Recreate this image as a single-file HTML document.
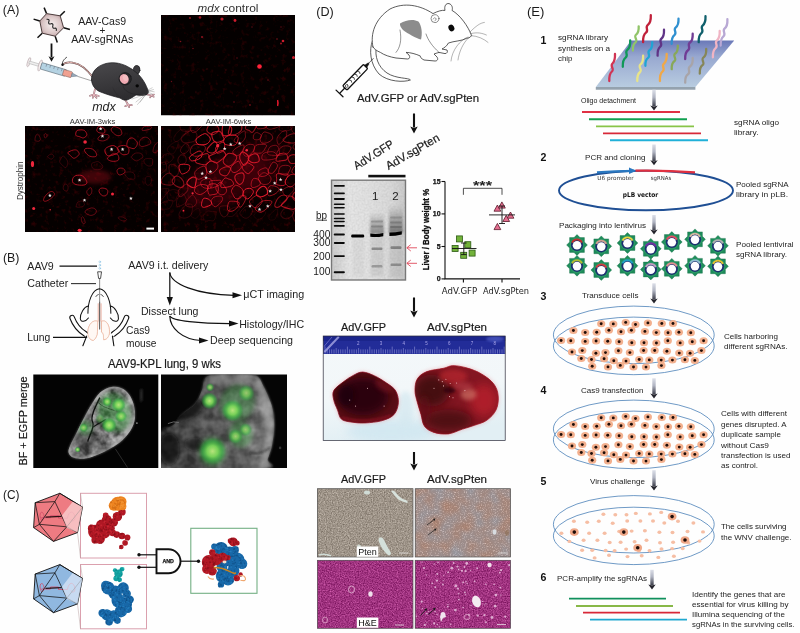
<!DOCTYPE html>
<html lang="en">
<head>
<meta charset="utf-8">
<title>Figure: CRISPR in vivo delivery and screening</title>
<style>
html,body{margin:0;padding:0;background:#fff;}
body{width:800px;height:633px;overflow:hidden;font-family:"Liberation Sans",sans-serif;}
svg{display:block;position:absolute;left:0;top:0;will-change:transform;}
svg text{font-family:"Liberation Sans",sans-serif;}
</style>
</head>
<body>
<svg width="800" height="633" viewBox="0 0 800 633">
<defs>

<linearGradient id="gMouse" x1="0" y1="0" x2="0.3" y2="1"><stop offset="0" stop-color="#4a494c"/><stop offset="0.5" stop-color="#3c3b3e"/><stop offset="1" stop-color="#2e2d30"/></linearGradient>
<radialGradient id="gVirus" cx="0.5" cy="0.5" r="0.6"><stop offset="0" stop-color="#f6eeee"/><stop offset="0.6" stop-color="#dcc8c8"/><stop offset="1" stop-color="#b89a9c"/></radialGradient>
<clipPath id="cA1"><rect x="161" y="15" width="134" height="100.5"/></clipPath>
<clipPath id="cA2"><rect x="25" y="126" width="133" height="106"/></clipPath>
<clipPath id="cA3"><rect x="161" y="126" width="134" height="106"/></clipPath>
<filter id="fB06" x="-50%" y="-50%" width="200%" height="200%"><feGaussianBlur stdDeviation="0.5"/></filter>
<filter id="fB2" x="-50%" y="-50%" width="200%" height="200%"><feGaussianBlur stdDeviation="2"/></filter>
<filter id="fB4" x="-50%" y="-50%" width="200%" height="200%"><feGaussianBlur stdDeviation="5"/></filter>
<filter id="fSpeck" x="0" y="0" width="100%" height="100%" color-interpolation-filters="sRGB"><feTurbulence type="fractalNoise" baseFrequency="0.22" numOctaves="3" seed="3" result="n"/><feColorMatrix in="n" type="matrix" values="0 0 0 0 0.45  0 0 0 0 0  0 0 0 0 0.03  3.2 0 0 0 -1.75"/></filter>

<linearGradient id="gLungR" x1="0" y1="0" x2="1" y2="0"><stop offset="0" stop-color="#2e2e2e"/><stop offset="0.4" stop-color="#4a4a4a"/><stop offset="0.75" stop-color="#6c6c6c"/><stop offset="1" stop-color="#8a8a8a"/></linearGradient>
<clipPath id="cB1"><rect x="33.3" y="374.5" width="125" height="93.5"/></clipPath>
<clipPath id="cB2"><rect x="161" y="374.5" width="126" height="93.5"/></clipPath>
<filter id="fB1" x="-20%" y="-20%" width="140%" height="140%"><feGaussianBlur stdDeviation="1"/></filter>
<radialGradient id="gGreen"><stop offset="0" stop-color="#b8e47c" stop-opacity="1"/><stop offset="0.4" stop-color="#7ad858" stop-opacity="0.92"/><stop offset="0.72" stop-color="#36b840" stop-opacity="0.55"/><stop offset="1" stop-color="#2a9a35" stop-opacity="0"/></radialGradient>
<filter id="fLungTex" x="0" y="0" width="100%" height="100%" color-interpolation-filters="sRGB"><feTurbulence type="fractalNoise" baseFrequency="0.11" numOctaves="3" seed="7" result="n"/><feColorMatrix in="n" type="matrix" values="1.6 0 0 0 -0.35  1.6 0 0 0 -0.35  1.6 0 0 0 -0.35  0 0 0 0 1"/></filter>
<filter id="fLungTex2" x="0" y="0" width="100%" height="100%" color-interpolation-filters="sRGB"><feTurbulence type="fractalNoise" baseFrequency="0.07" numOctaves="3" seed="12" result="n"/><feColorMatrix in="n" type="matrix" values="1.5 0 0 0 -0.42  1.5 0 0 0 -0.42  1.5 0 0 0 -0.42  0 0 0 0 1"/></filter>

<clipPath id="cGel"><rect x="331.5" y="180.2" width="74" height="99.8"/></clipPath>
<clipPath id="cLiv"><rect x="323.2" y="336" width="182" height="104.5"/></clipPath>
<clipPath id="cH1"><rect x="317.4" y="488.7" width="95.6" height="68.3"/></clipPath>
<clipPath id="cH2"><rect x="415.2" y="488.7" width="95.3" height="68.3"/></clipPath>
<clipPath id="cH3"><rect x="317.4" y="560.3" width="95.6" height="68"/></clipPath>
<clipPath id="cH4"><rect x="415.2" y="560.3" width="95.3" height="68"/></clipPath>
<filter id="fB03" x="-20%" y="-50%" width="140%" height="200%"><feGaussianBlur stdDeviation="0.3"/></filter>
<linearGradient id="gGel" x1="0" y1="0" x2="1" y2="0"><stop offset="0" stop-color="#cdcdcd"/><stop offset="0.25" stop-color="#e6e6e6"/><stop offset="0.5" stop-color="#e2e2e2"/><stop offset="0.8" stop-color="#dadada"/><stop offset="1" stop-color="#cacaca"/></linearGradient>
<linearGradient id="gSmear" x1="0" y1="0" x2="0" y2="1"><stop offset="0" stop-color="#888" stop-opacity="0"/><stop offset="0.5" stop-color="#777" stop-opacity="0.55"/><stop offset="1" stop-color="#555" stop-opacity="0.8"/></linearGradient>
<filter id="fGelN" x="0" y="0" width="100%" height="100%" color-interpolation-filters="sRGB"><feTurbulence type="fractalNoise" baseFrequency="0.5" numOctaves="2" seed="2"/><feColorMatrix type="matrix" values="0 0 0 0 0.4  0 0 0 0 0.4  0 0 0 0 0.4  1.5 0 0 0 -0.45"/></filter>
<linearGradient id="gPad" x1="0" y1="0" x2="0.2" y2="1"><stop offset="0" stop-color="#f4f8fa"/><stop offset="0.6" stop-color="#f2f7f9"/><stop offset="1" stop-color="#e2eff4"/></linearGradient>
<radialGradient id="gLiv1" cx="0.45" cy="0.45" r="0.6"><stop offset="0" stop-color="#2c060c"/><stop offset="0.6" stop-color="#4a0a14"/><stop offset="0.9" stop-color="#8c1222"/><stop offset="1" stop-color="#b01c30"/></radialGradient>
<radialGradient id="gLiv2" cx="0.45" cy="0.4" r="0.65"><stop offset="0" stop-color="#8a1622"/><stop offset="0.5" stop-color="#a81a28"/><stop offset="0.85" stop-color="#b81c2c"/><stop offset="1" stop-color="#c82a3c"/></radialGradient>
<filter id="fH1" x="0" y="0" width="100%" height="100%" color-interpolation-filters="sRGB"><feTurbulence type="fractalNoise" baseFrequency="0.83 0.77" numOctaves="2" seed="4"/><feColorMatrix type="matrix" values="0.42 0 0 0 0.41  0.42 0 0 0 0.37  0.42 0 0 0 0.325  0 0 0 0 1"/><feGaussianBlur stdDeviation="0.45"/></filter>
<filter id="fH2" x="0" y="0" width="100%" height="100%" color-interpolation-filters="sRGB"><feTurbulence type="fractalNoise" baseFrequency="0.06" numOctaves="2" seed="9" result="lo"/><feTurbulence type="fractalNoise" baseFrequency="0.81 0.76" numOctaves="2" seed="5" result="hi"/><feColorMatrix in="lo" type="matrix" values="0.1 0 0 0 0.57  -0.12 0 0 0 0.60  -0.26 0 0 0 0.65  0 0 0 0 1" result="loc"/><feColorMatrix in="hi" type="matrix" values="0.56 0 0 0 -0.28  0.56 0 0 0 -0.28  0.56 0 0 0 -0.28  0 0 0 0 1" result="hic"/><feComposite in="loc" in2="hic" operator="arithmetic" k1="0" k2="1" k3="1" k4="0"/><feGaussianBlur stdDeviation="0.45"/></filter>
<filter id="fH3" x="0" y="0" width="100%" height="100%" color-interpolation-filters="sRGB"><feTurbulence type="fractalNoise" baseFrequency="0.79 0.84" numOctaves="2" seed="6"/><feColorMatrix type="matrix" values="0.5 0 0 0 0.375  0.42 0 0 0 -0.01  0.46 0 0 0 0.27  0 0 0 0 1"/><feGaussianBlur stdDeviation="0.45"/></filter>

<filter id="fB03e" x="-50%" y="-50%" width="200%" height="200%"><feGaussianBlur stdDeviation="0.4"/></filter>
<linearGradient id="gArr" x1="0" y1="0" x2="0" y2="1"><stop offset="0" stop-color="#dcdfe8"/><stop offset="0.45" stop-color="#b0b4c2"/><stop offset="1" stop-color="#3a3c48"/></linearGradient>
<linearGradient id="gChip" x1="0" y1="0" x2="0" y2="1"><stop offset="0" stop-color="#6a78b8"/><stop offset="0.35" stop-color="#98a8d0"/><stop offset="1" stop-color="#b8cce0"/></linearGradient>

</defs>
<rect x="0" y="0" width="800" height="633" fill="#fefefe"/>
<g id="pA">
<text x="2.8" y="13.6" font-size="12.5" fill="#1a1a1a" textLength="16.5" lengthAdjust="spacingAndGlyphs">(A)</text>
<line x1="46.6" y1="13.6" x2="44.1" y2="7.6" stroke="#111" stroke-width="1.5"/>
<line x1="60.2" y1="15.8" x2="64.8" y2="11.2" stroke="#111" stroke-width="1.5"/>
<line x1="63.6" y1="27.8" x2="69.9" y2="29.4" stroke="#111" stroke-width="1.5"/>
<line x1="55.2" y1="36.2" x2="57.3" y2="42.4" stroke="#111" stroke-width="1.5"/>
<line x1="42.2" y1="33.2" x2="37.5" y2="37.7" stroke="#111" stroke-width="1.5"/>
<line x1="39.8" y1="21.0" x2="33.6" y2="19.1" stroke="#111" stroke-width="1.5"/>
<polygon points="46.6,13.6 60.2,15.8 63.6,27.8 55.2,36.2 42.2,33.2 39.8,21" fill="url(#gVirus)" stroke="#3a2a2a" stroke-width="0.9"/>
<path d="M46.6 19.4c2.2 -0.6 3 0.6 2.2 2.4c-0.8 1.8 0.6 2.6 2.2 2c1.6 -0.6 2.4 0.6 1.8 2.2c-0.6 1.6 0.6 2.6 2 2.2c1.4 -0.4 2 0.8 1.4 2.6" fill="none" stroke="#222" stroke-width="1.1"/>
<text x="102.2" y="24.6" font-size="10.2" text-anchor="middle" fill="#222" textLength="47.8" lengthAdjust="spacingAndGlyphs">AAV-Cas9</text>
<text x="102.3" y="34.4" font-size="10" text-anchor="middle" fill="#222">+</text>
<text x="102.3" y="43" font-size="10.2" text-anchor="middle" fill="#222" textLength="62" lengthAdjust="spacingAndGlyphs">AAV-sgRNAs</text>
<line x1="51.5" y1="43.5" x2="51.5" y2="57.3" stroke="#111" stroke-width="1.8"/><path d="M48.5 56.3L51.5 61.8L54.5 56.3L51.5 57.8Z" fill="#111"/>
<g transform="translate(28.6,58.6) rotate(16.5) scale(1.0,0.95)"><ellipse cx="1.2" cy="3.5" rx="1.3" ry="5" fill="#f4eeee" stroke="#b9a9ad" stroke-width="0.7"/><rect x="1.5" y="2.2" width="12" height="2.6" fill="#eee" stroke="#aaa" stroke-width="0.5"/><ellipse cx="13" cy="3.5" rx="1.6" ry="6" fill="#f4eeee" stroke="#b9a9ad" stroke-width="0.7"/><rect x="14" y="0" width="26" height="7" rx="1" fill="#b4d2e2" stroke="#5a6a75" stroke-width="0.6"/><rect x="37" y="0.3" width="9" height="6.4" rx="1" fill="#f0a090" stroke="#7a5a55" stroke-width="0.5"/><path d="M19 0v3M23 0v3M27 0v3M31 0v3M35 0v3" stroke="#556" stroke-width="0.4"/><path d="M46 1.5L52 3L46 5.5Z" fill="#9ab" stroke="#567" stroke-width="0.4"/><line x1="52" y1="3.3" x2="66" y2="3.6" stroke="#555" stroke-width="0.5"/></g>
<g transform="translate(20,50) scale(0.175)" stroke-linecap="round" stroke-linejoin="round">
<path d="M412 150C380 110 350 80 300 72C275 68 255 74 245 82" fill="none" stroke="#5a4040" stroke-width="10"/>
<path d="M412 150C380 110 350 80 300 72C275 68 255 74 245 82" fill="none" stroke="#e8b8b4" stroke-width="5.5"/>
<path d="M243 84C238 68 252 52 266 42" fill="none" stroke="#111" stroke-width="4.5"/><circle cx="243" cy="84" r="7" fill="#111"/>
</g>
<g transform="translate(80,55) scale(0.1)" stroke-linecap="round" stroke-linejoin="round">
<path d="M150 340L138 395M138 395L100 408M138 395L128 428M138 395L165 428M138 395L188 410" fill="none" stroke="#8a6a70" stroke-width="17"/>
<path d="M150 340L138 395M138 395L100 408M138 395L128 428M138 395L165 428M138 395L188 410" fill="none" stroke="#e8b4bc" stroke-width="10"/>
<path d="M450 445L482 498M482 498L452 512M482 498L492 522M482 498L518 502" fill="none" stroke="#8a6a70" stroke-width="17"/>
<path d="M450 445L482 498M482 498L452 512M482 498L492 522M482 498L518 502" fill="none" stroke="#e8b4bc" stroke-width="10"/>
<path d="M670 395L715 405M715 405L740 395M715 405L738 418M715 405L700 425" fill="none" stroke="#8a6a70" stroke-width="15"/>
<path d="M670 395L715 405M715 405L740 395M715 405L738 418M715 405L700 425" fill="none" stroke="#e8b4bc" stroke-width="8"/>
<ellipse cx="566" cy="150" rx="33" ry="45" fill="#3c3b3e" stroke="#1a1a1c" stroke-width="7" transform="rotate(8 566 150)"/>
<path d="M115 250C110 180 160 110 260 85C340 65 430 85 500 130C520 140 535 150 550 165C600 200 650 270 675 340C690 365 685 385 670 395C640 410 600 405 560 400C530 420 500 440 470 450C440 455 420 445 400 430C340 415 270 395 220 375C170 360 120 320 115 250Z" fill="url(#gMouse)" stroke="#1a1a1c" stroke-width="7"/>
<path d="M430 310C440 360 500 395 600 398" fill="none" stroke="#1c1c1e" stroke-width="5" opacity="0.8"/>
<path d="M330 330C350 380 380 410 410 432" fill="none" stroke="#1c1c1e" stroke-width="4" opacity="0.5"/>
<ellipse cx="452" cy="238" rx="62" ry="62" fill="#2a292c" stroke="#151517" stroke-width="6" transform="rotate(-25 452 238)"/>
<ellipse cx="442" cy="240" rx="44" ry="50" fill="#f0aab2" transform="rotate(-25 442 240)"/>
<ellipse cx="455" cy="228" rx="26" ry="32" fill="#f6c4c8" opacity="0.7" transform="rotate(-25 455 228)"/>
<ellipse cx="572" cy="308" rx="17" ry="16" fill="#050505"/>
<path d="M640 398L520 440M645 400L560 470M650 402L600 472M655 402L575 495M680 350L722 328M684 358L742 368M682 362L735 345M678 372L725 390" fill="none" stroke="#7a7a7a" stroke-width="3.5"/>
</g>
<text x="104" y="110.5" font-size="12.5" text-anchor="middle" font-style="italic" fill="#222" textLength="23.5" lengthAdjust="spacingAndGlyphs">mdx</text>
<text x="197.5" y="11.8" font-size="11.6" font-style="italic" fill="#333" textLength="22" lengthAdjust="spacingAndGlyphs">mdx</text>
<text x="222.5" y="11.8" font-size="11.6" fill="#333" textLength="36" lengthAdjust="spacingAndGlyphs">control</text>
<g clip-path="url(#cA1)"><rect x="161" y="15" width="134" height="100.5" fill="#040000"/>
<rect x="161" y="15" width="134" height="100.5" fill="#5a0008" filter="url(#fSpeck)" opacity="0.3"/>
<circle cx="190" cy="18" r="0.9" fill="#ff2338" opacity="0.6" filter="url(#fB06)"/>
<circle cx="200" cy="17.5" r="1.3" fill="#ff2338" opacity="0.6" filter="url(#fB06)"/>
<circle cx="222" cy="19" r="1.6" fill="#ff2338" opacity="0.7" filter="url(#fB06)"/>
<circle cx="235" cy="20.5" r="1.4" fill="#ff2338" opacity="0.8" filter="url(#fB06)"/>
<circle cx="202" cy="37" r="0.9" fill="#ff2338" opacity="0.6" filter="url(#fB06)"/>
<circle cx="180.5" cy="41.5" r="0.8" fill="#ff2338" opacity="0.5" filter="url(#fB06)"/>
<circle cx="193" cy="48.5" r="0.7" fill="#ff2338" opacity="0.5" filter="url(#fB06)"/>
<circle cx="259.5" cy="66.5" r="2.3" fill="#ff2338" opacity="1" filter="url(#fB06)"/>
<circle cx="283" cy="41" r="1.3" fill="#ff2338" opacity="0.8" filter="url(#fB06)"/>
<circle cx="281" cy="43.5" r="1" fill="#ff2338" opacity="0.6" filter="url(#fB06)"/>
<circle cx="293.5" cy="57.5" r="1.5" fill="#ff2338" opacity="0.8" filter="url(#fB06)"/>
<circle cx="250" cy="105" r="0.8" fill="#ff2338" opacity="0.6" filter="url(#fB06)"/>
<circle cx="234" cy="102" r="0.7" fill="#ff2338" opacity="0.5" filter="url(#fB06)"/>
<circle cx="268" cy="80" r="0.7" fill="#ff2338" opacity="0.5" filter="url(#fB06)"/>
<circle cx="171.5" cy="81.5" r="0.7" fill="#ff2338" opacity="0.4" filter="url(#fB06)"/>
<circle cx="237" cy="58" r="0.7" fill="#ff2338" opacity="0.4" filter="url(#fB06)"/>
<circle cx="252" cy="27" r="0.7" fill="#ff2338" opacity="0.4" filter="url(#fB06)"/>
<circle cx="281" cy="27" r="0.7" fill="#ff2338" opacity="0.4" filter="url(#fB06)"/>
<circle cx="277" cy="39" r="0.8" fill="#ff2338" opacity="0.5" filter="url(#fB06)"/>
<circle cx="207" cy="69" r="0.6" fill="#ff2338" opacity="0.3" filter="url(#fB06)"/>
<circle cx="226" cy="70" r="0.6" fill="#ff2338" opacity="0.3" filter="url(#fB06)"/>
<circle cx="196" cy="92" r="0.6" fill="#ff2338" opacity="0.3" filter="url(#fB06)"/>
<path d="M277.5 100q1 3 0 6" stroke="#e0182c" stroke-width="1.6" fill="none" filter="url(#fB06)"/>
</g>
<text x="92.5" y="123.6" font-size="7.2" text-anchor="middle" fill="#333" textLength="45.5" lengthAdjust="spacingAndGlyphs">AAV-IM-3wks</text>
<text x="228.5" y="123.6" font-size="7.2" text-anchor="middle" fill="#333" textLength="45.5" lengthAdjust="spacingAndGlyphs">AAV-IM-6wks</text>
<text transform="translate(23.3,200) rotate(-90)" font-size="8.2" fill="#333" textLength="38.5" lengthAdjust="spacingAndGlyphs">Dystrophin</text>
<g clip-path="url(#cA2)"><rect x="25" y="126" width="133" height="106" fill="#050000"/>
<rect x="25" y="126" width="133" height="106" fill="#6a000a" filter="url(#fSpeck)" opacity="0.35"/>
<ellipse cx="95.1" cy="176.8" rx="16" ry="7" fill="#b0101c" opacity="0.35" filter="url(#fB2)"/>
<path d="M86.9 134.8C86.8 136.1 84.7 137.6 83.4 137.9C82.2 138.2 80.6 137.0 79.3 136.6C78.0 136.2 76.4 136.3 75.9 135.3C75.4 134.4 75.9 131.8 76.6 131.0C77.2 130.1 78.4 130.0 79.7 129.9C81.0 129.8 83.2 129.7 84.4 130.5C85.6 131.3 87.1 133.6 86.9 134.8Z" fill="none" stroke="#e0172c" stroke-width="0.75" opacity="1"/>
<path d="M104.7 129.6C104.9 130.5 105.1 132.5 104.2 133.0C103.3 133.5 100.3 133.1 99.1 132.7C97.8 132.3 97.1 131.4 96.8 130.7C96.5 130.0 97.0 129.2 97.3 128.5C97.5 127.8 97.5 126.8 98.5 126.6C99.4 126.5 101.8 127.2 102.8 127.6C103.9 128.1 104.4 128.7 104.7 129.6Z" fill="none" stroke="#e0172c" stroke-width="0.75" opacity="0.9"/>
<path d="M121.8 134.0C121.4 135.1 119.3 135.8 118.1 135.7C116.8 135.7 115.5 134.9 114.3 133.9C113.2 133.0 111.3 131.2 111.1 130.0C110.9 128.8 112.4 127.2 113.4 126.7C114.4 126.3 115.6 126.9 116.8 127.3C118.0 127.8 119.8 128.3 120.6 129.4C121.4 130.6 122.2 133.0 121.8 134.0Z" fill="none" stroke="#e0172c" stroke-width="0.75" opacity="0.8"/>
<path d="M108.6 135.1C109.0 135.7 109.4 137.1 108.6 138.0C107.8 139.0 105.5 140.5 103.8 140.8C102.2 141.2 99.8 140.6 98.8 140.2C97.9 139.7 97.6 138.9 98.1 138.0C98.6 137.1 100.5 135.3 101.8 134.7C103.1 134.1 105.0 134.4 106.1 134.4C107.3 134.5 108.2 134.5 108.6 135.1Z" fill="none" stroke="#e0172c" stroke-width="0.75" opacity="0.7"/>
<path d="M136.8 145.6C136.2 146.7 135.2 148.2 134.0 148.6C132.8 148.9 130.8 148.0 129.6 147.5C128.4 147.1 127.2 147.0 126.9 145.7C126.6 144.5 127.1 141.4 128.0 140.1C128.9 138.8 130.7 137.6 132.3 137.9C133.8 138.2 136.3 140.5 137.0 141.8C137.8 143.1 137.3 144.4 136.8 145.6Z" fill="none" stroke="#e0172c" stroke-width="0.75" opacity="0.9"/>
<path d="M150.6 141.3C150.9 142.4 150.8 143.4 149.5 144.3C148.2 145.1 144.4 146.3 142.9 146.5C141.3 146.7 140.6 146.3 140.0 145.5C139.5 144.7 139.0 143.0 139.5 141.7C140.0 140.3 141.7 138.2 143.0 137.6C144.4 136.9 146.4 137.1 147.7 137.8C148.9 138.4 150.3 140.3 150.6 141.3Z" fill="none" stroke="#e0172c" stroke-width="0.75" opacity="0.6"/>
<path d="M79.2 153.7C79.2 154.7 78.4 155.6 77.4 156.3C76.5 157.1 75.0 158.5 73.6 158.2C72.3 157.9 70.3 155.4 69.3 154.4C68.3 153.5 67.2 153.4 67.8 152.6C68.4 151.9 71.5 150.4 73.1 150.1C74.7 149.7 76.1 149.8 77.1 150.4C78.1 151.1 79.1 152.8 79.2 153.7Z" fill="none" stroke="#e0172c" stroke-width="0.75" opacity="0.9"/>
<path d="M96.6 154.2C96.8 155.2 96.6 156.3 95.4 156.6C94.3 157.0 91.4 156.9 89.7 156.2C88.0 155.4 85.9 153.3 85.2 152.1C84.4 150.9 84.2 149.4 85.1 148.8C85.9 148.2 89.0 148.2 90.5 148.5C92.0 148.7 93.1 149.3 94.1 150.3C95.2 151.2 96.4 153.1 96.6 154.2Z" fill="none" stroke="#e0172c" stroke-width="0.75" opacity="0.9"/>
<path d="M118.3 149.1C119.0 150.3 119.5 151.5 118.1 152.7C116.7 153.8 111.8 155.7 109.8 155.9C107.8 156.1 106.7 155.1 106.0 154.0C105.2 153.0 104.7 150.8 105.0 149.6C105.4 148.4 106.8 147.5 108.3 146.8C109.7 146.2 112.1 145.2 113.8 145.6C115.4 146.0 117.5 147.9 118.3 149.1Z" fill="none" stroke="#e0172c" stroke-width="0.75" opacity="1"/>
<path d="M128.3 153.4C127.7 154.4 126.3 154.5 125.2 154.6C124.2 154.7 123.1 154.9 121.8 154.1C120.5 153.2 117.9 150.7 117.5 149.4C117.0 148.1 117.8 147.0 119.0 146.4C120.3 145.7 123.3 145.2 124.9 145.5C126.5 145.9 128.2 147.1 128.7 148.4C129.3 149.7 128.9 152.4 128.3 153.4Z" fill="none" stroke="#e0172c" stroke-width="0.75" opacity="0.9"/>
<path d="M118.8 157.4C119.0 158.4 119.0 159.9 117.9 160.5C116.7 161.2 113.9 161.5 112.1 161.3C110.4 161.0 108.1 160.0 107.6 159.2C107.1 158.4 108.3 157.3 109.0 156.5C109.8 155.6 110.7 154.5 112.0 154.1C113.3 153.7 116.0 153.7 117.1 154.3C118.2 154.8 118.7 156.3 118.8 157.4Z" fill="none" stroke="#e0172c" stroke-width="0.75" opacity="0.9"/>
<path d="M86.9 182.8C86.7 183.9 85.4 184.9 83.5 185.1C81.7 185.4 77.7 185.1 75.8 184.5C74.0 183.8 72.6 182.7 72.4 181.3C72.1 179.9 73.0 177.2 74.5 176.2C75.9 175.2 79.3 175.0 81.0 175.3C82.7 175.7 83.8 176.9 84.8 178.1C85.7 179.3 87.1 181.6 86.9 182.8Z" fill="none" stroke="#e0172c" stroke-width="0.75" opacity="1"/>
<path d="M125.0 170.8C125.2 171.7 124.7 172.6 123.9 173.3C123.1 174.0 121.4 174.8 120.4 174.9C119.5 175.1 118.7 174.9 118.2 174.2C117.6 173.5 116.9 171.6 117.0 170.6C117.2 169.7 118.0 168.8 118.9 168.4C119.9 168.0 121.8 167.9 122.8 168.3C123.9 168.7 124.8 170.0 125.0 170.8Z" fill="none" stroke="#e0172c" stroke-width="0.75" opacity="0.8"/>
<path d="M107.8 191.4C107.8 192.5 107.2 194.6 106.3 195.3C105.3 196.0 103.3 196.2 102.2 195.6C101.0 195.1 99.7 193.1 99.2 192.0C98.8 190.9 99.1 189.9 99.5 189.2C100.0 188.6 100.9 188.1 102.0 188.0C103.2 188.0 105.4 188.4 106.4 189.0C107.3 189.5 107.9 190.4 107.8 191.4Z" fill="none" stroke="#e0172c" stroke-width="0.75" opacity="0.9"/>
<path d="M53.8 192.5C54.4 193.1 54.8 194.3 54.0 195.4C53.3 196.6 50.9 198.6 49.3 199.6C47.8 200.6 45.8 201.4 44.9 201.3C43.9 201.3 43.4 200.4 43.6 199.3C43.7 198.3 44.8 196.4 46.0 195.1C47.2 193.8 49.3 192.0 50.7 191.6C52.0 191.2 53.3 191.9 53.8 192.5Z" fill="none" stroke="#e0172c" stroke-width="0.75" opacity="0.8"/>
<path d="M96.2 210.2C96.5 211.2 96.2 212.7 95.3 213.6C94.4 214.5 92.3 215.5 90.7 215.4C89.1 215.3 86.5 213.9 85.6 213.1C84.8 212.3 85.0 211.3 85.7 210.5C86.5 209.7 88.8 208.7 90.0 208.3C91.3 207.9 92.2 207.7 93.3 208.1C94.3 208.4 95.8 209.3 96.2 210.2Z" fill="none" stroke="#e0172c" stroke-width="0.75" opacity="0.6"/>
<path d="M40.5 139.5C40.4 140.4 39.5 141.0 38.8 141.2C38.1 141.5 37.0 141.1 36.3 141.0C35.7 140.9 35.2 141.2 35.0 140.5C34.9 139.7 35.1 137.7 35.4 136.7C35.7 135.6 36.5 134.4 37.1 134.2C37.7 134.0 38.5 134.6 39.1 135.5C39.7 136.4 40.5 138.5 40.5 139.5Z" fill="none" stroke="#e0172c" stroke-width="0.75" opacity="0.45"/>
<path d="M151.6 126.9C151.9 127.3 151.4 128.4 150.3 129.0C149.2 129.6 146.2 130.1 144.9 130.4C143.5 130.6 142.7 130.7 142.3 130.4C141.9 130.0 142.0 129.0 142.4 128.4C142.7 127.7 143.3 126.9 144.4 126.6C145.4 126.3 147.5 126.3 148.7 126.4C149.9 126.4 151.3 126.4 151.6 126.9Z" fill="none" stroke="#e0172c" stroke-width="0.75" opacity="0.6"/>
<path d="M47.1 135.1C47.2 135.6 46.9 136.7 46.6 137.1C46.2 137.6 45.4 137.9 45.1 137.9C44.8 137.9 44.7 137.5 44.5 137.0C44.4 136.5 43.9 135.3 44.0 134.8C44.2 134.2 45.1 133.7 45.5 133.6C45.9 133.4 46.0 133.7 46.3 133.9C46.6 134.2 47.1 134.6 47.1 135.1Z" fill="none" stroke="#e0172c" stroke-width="0.75" opacity="0.5"/>
<path d="M159.2 148.0C158.7 149.3 157.3 151.5 156.4 152.3C155.5 153.0 154.2 152.9 153.6 152.5C153.1 152.1 152.8 151.2 153.1 149.9C153.3 148.7 154.2 146.0 155.0 144.8C155.8 143.6 156.9 142.8 157.7 142.7C158.5 142.6 159.4 143.4 159.6 144.2C159.9 145.1 159.7 146.6 159.2 148.0Z" fill="none" stroke="#e0172c" stroke-width="0.75" opacity="0.5"/>
<path d="M142.9 156.5C143.0 157.3 142.5 157.5 141.4 158.3C140.3 159.0 138.0 160.9 136.5 160.9C134.9 160.9 132.9 158.9 132.0 158.2C131.1 157.4 130.7 157.3 131.3 156.5C131.9 155.7 133.8 153.7 135.4 153.2C137.0 152.7 139.7 152.9 141.0 153.5C142.2 154.0 142.9 155.7 142.9 156.5Z" fill="none" stroke="#e0172c" stroke-width="0.75" opacity="0.4"/>
<path d="M152.6 162.9C152.5 164.0 152.5 165.0 151.8 165.5C151.0 166.0 149.2 166.3 148.0 165.9C146.8 165.5 145.2 164.2 144.6 163.2C143.9 162.1 143.8 160.5 144.2 159.7C144.7 158.9 145.8 158.7 147.1 158.6C148.4 158.4 151.1 158.2 152.1 158.9C153.0 159.6 152.6 161.8 152.6 162.9Z" fill="none" stroke="#e0172c" stroke-width="0.75" opacity="0.3"/>
<path d="M67.5 161.0C68.1 162.5 67.5 164.3 67.2 165.4C66.8 166.5 66.3 167.8 65.4 167.6C64.4 167.4 62.5 165.3 61.5 164.3C60.6 163.2 59.6 162.7 59.7 161.4C59.8 160.2 61.3 157.5 62.1 156.7C62.8 155.8 63.2 155.8 64.1 156.5C65.0 157.2 67.0 159.6 67.5 161.0Z" fill="none" stroke="#e0172c" stroke-width="0.75" opacity="0.3"/>
<path d="M134.9 178.0C134.8 178.9 134.6 179.1 133.5 179.2C132.3 179.2 129.6 179.3 128.1 178.4C126.5 177.4 124.7 174.6 124.3 173.6C123.9 172.6 124.6 172.6 125.7 172.3C126.9 172.0 129.7 171.7 131.1 172.0C132.5 172.2 133.6 172.8 134.2 173.8C134.9 174.8 135.0 177.1 134.9 178.0Z" fill="none" stroke="#e0172c" stroke-width="0.75" opacity="0.3"/>
<path d="M84.2 203.4C84.5 204.1 84.7 204.8 84.2 205.4C83.7 206.0 82.5 206.7 81.2 207.0C79.9 207.2 77.2 207.5 76.5 206.9C75.8 206.3 76.6 204.4 76.9 203.5C77.3 202.6 77.7 202.1 78.6 201.7C79.6 201.3 81.8 200.8 82.7 201.1C83.7 201.4 83.9 202.7 84.2 203.4Z" fill="none" stroke="#e0172c" stroke-width="0.75" opacity="0.3"/>
<path d="M126.3 220.2C125.9 220.5 125.1 221.0 124.2 221.0C123.3 221.0 121.8 220.7 120.8 220.2C119.8 219.6 118.4 218.4 118.2 217.8C118.0 217.3 118.8 217.0 119.5 216.9C120.2 216.8 121.3 216.8 122.4 217.1C123.5 217.5 125.5 218.4 126.2 218.9C126.8 219.4 126.6 219.8 126.3 220.2Z" fill="none" stroke="#e0172c" stroke-width="0.75" opacity="0.35"/>
<path d="M151.4 178.9C151.6 180.0 151.4 182.2 150.9 183.3C150.4 184.3 149.2 185.1 148.4 185.2C147.6 185.4 146.7 185.0 146.2 184.2C145.6 183.4 145.0 181.7 145.1 180.4C145.1 179.2 145.7 177.3 146.5 176.7C147.4 176.1 149.2 176.5 150.1 176.8C150.9 177.2 151.3 177.8 151.4 178.9Z" fill="none" stroke="#e0172c" stroke-width="0.75" opacity="0.25"/>
<path d="M53.9 156.5C53.9 157.1 53.3 157.5 52.8 158.0C52.4 158.4 52.0 159.2 51.3 159.2C50.6 159.2 49.2 158.2 48.5 157.7C47.8 157.3 47.1 157.1 47.4 156.5C47.7 156.0 49.4 154.7 50.3 154.3C51.1 154.0 51.9 154.0 52.5 154.4C53.1 154.8 53.8 155.9 53.9 156.5Z" fill="none" stroke="#e0172c" stroke-width="0.75" opacity="0.3"/>
<path d="M68.1 187.1C68.2 188.0 67.9 189.8 67.5 190.4C67.1 191.1 66.5 191.2 65.8 191.0C65.1 190.8 63.7 190.0 63.4 189.2C63.0 188.4 63.2 186.9 63.5 186.0C63.8 185.2 64.6 184.4 65.3 184.2C65.9 184.0 66.7 184.3 67.2 184.8C67.7 185.3 68.1 186.1 68.1 187.1Z" fill="none" stroke="#e0172c" stroke-width="0.75" opacity="0.35"/>
<path d="M91.8 191.7C91.7 192.5 91.5 193.2 91.0 193.8C90.5 194.4 89.6 195.8 88.9 195.6C88.2 195.4 87.1 193.6 86.8 192.7C86.6 191.8 86.8 191.1 87.3 190.3C87.9 189.5 89.6 187.9 90.3 187.7C91.0 187.5 91.4 188.2 91.7 188.9C91.9 189.6 91.9 190.9 91.8 191.7Z" fill="none" stroke="#e0172c" stroke-width="0.75" opacity="0.6"/>
<path d="M84.6 219.8C84.9 220.8 85.3 222.2 85.2 222.9C85.0 223.6 84.0 223.8 83.5 223.8C83.1 223.8 82.8 223.5 82.5 223.0C82.1 222.4 81.5 221.3 81.4 220.4C81.2 219.5 81.3 218.3 81.5 217.7C81.8 217.2 82.4 216.5 82.9 216.9C83.4 217.2 84.2 218.8 84.6 219.8Z" fill="none" stroke="#e0172c" stroke-width="0.75" opacity="0.5"/>
<path d="M102.8 166.3C103.1 167.5 101.6 168.7 100.4 169.3C99.1 169.8 96.6 169.8 95.3 169.6C94.0 169.3 93.0 168.8 92.4 167.8C91.8 166.9 91.2 164.8 91.6 163.8C92.0 162.9 93.5 162.6 94.7 162.3C95.9 161.9 97.3 161.2 98.7 161.9C100.0 162.5 102.5 165.0 102.8 166.3Z" fill="none" stroke="#e0172c" stroke-width="0.75" opacity="0.3"/>
<ellipse cx="85.1" cy="142.0" rx="1.8" ry="1.8" fill="#f0283c" filter="url(#fB06)"/>
<ellipse cx="32.5" cy="164.0" rx="1.6" ry="3.1" fill="#f0283c" filter="url(#fB06)"/>
<ellipse cx="112.5" cy="193.9" rx="1.5" ry="1.5" fill="#f0283c" filter="url(#fB06)"/>
<ellipse cx="33.7" cy="208.5" rx="1.5" ry="1.5" fill="#f0283c" filter="url(#fB06)"/>
<ellipse cx="79.6" cy="230.3" rx="2.0" ry="1.6" fill="#f0283c" filter="url(#fB06)"/>
<ellipse cx="50.2" cy="209.8" rx="0.7" ry="0.7" fill="#f0283c" filter="url(#fB06)"/>
<polygon points="102.5,134.2 103.0,135.4 104.3,135.5 103.3,136.4 103.6,137.7 102.5,137.0 101.3,137.7 101.6,136.4 100.7,135.5 102.0,135.4" fill="#e8e0e0"/>
<polygon points="111.6,147.4 112.1,148.6 113.4,148.7 112.4,149.6 112.7,150.9 111.6,150.2 110.5,150.9 110.8,149.6 109.8,148.7 111.1,148.6" fill="#e8e0e0"/>
<polygon points="122.6,147.4 123.1,148.6 124.4,148.7 123.4,149.6 123.7,150.9 122.6,150.2 121.5,150.9 121.8,149.6 120.8,148.7 122.1,148.6" fill="#e8e0e0"/>
<polygon points="79.6,178.2 80.1,179.4 81.4,179.5 80.4,180.4 80.7,181.6 79.6,181.0 78.4,181.6 78.7,180.4 77.7,179.5 79.1,179.4" fill="#e8e0e0"/>
<polygon points="49.9,193.6 50.4,194.8 51.7,194.9 50.7,195.8 51.0,197.0 49.9,196.4 48.8,197.0 49.1,195.8 48.1,194.9 49.4,194.8" fill="#e8e0e0"/>
<polygon points="84.5,198.4 85.0,199.6 86.3,199.7 85.3,200.5 85.6,201.8 84.5,201.1 83.4,201.8 83.7,200.5 82.7,199.7 84.0,199.6" fill="#e8e0e0"/>
<polygon points="130.9,196.5 131.4,197.7 132.7,197.8 131.7,198.7 132.0,200.0 130.9,199.3 129.7,200.0 130.1,198.7 129.1,197.8 130.4,197.7" fill="#e8e0e0"/>
<polygon points="100.6,126.9 101.1,128.1 102.4,128.2 101.4,129.1 101.7,130.3 100.6,129.7 99.5,130.3 99.8,129.1 98.8,128.2 100.1,128.1" fill="#e8e0e0"/>
<rect x="146.4" y="227.6" width="7.6" height="2" fill="#fff"/>
</g>
<g clip-path="url(#cA3)"><rect x="161" y="126" width="134" height="106" fill="#070000"/>
<rect x="161" y="126" width="134" height="106" fill="#7a000c" filter="url(#fSpeck)" opacity="0.4"/>
<ellipse cx="226" cy="180" rx="46" ry="24" fill="#8a0612" opacity="0.3" filter="url(#fB4)" transform="rotate(-25 226 180)"/><ellipse cx="262" cy="165" rx="30" ry="28" fill="#8a0612" opacity="0.16" filter="url(#fB4)"/>
<path d="M182.1 110.7C183.4 111.0 184.7 112.1 184.1 113.7C183.4 115.3 179.8 119.7 178.3 120.5C176.8 121.3 176.0 119.2 175.1 118.5C174.2 117.8 172.8 117.4 172.9 116.2C173.0 115.1 174.3 112.8 175.8 111.9C177.3 110.9 180.7 110.4 182.1 110.7Z" fill="none" stroke="#f01c30" stroke-width="0.83" opacity="0.15"/>
<path d="M194.9 111.2C196.4 112.4 197.9 114.3 196.8 116.0C195.6 117.8 189.8 121.4 187.7 121.7C185.7 122.1 184.9 119.3 184.4 118.0C183.8 116.7 183.8 115.6 184.3 114.1C184.9 112.5 186.1 109.3 187.8 108.8C189.6 108.3 193.4 110.0 194.9 111.2Z" fill="none" stroke="#f01c30" stroke-width="0.89" opacity="0.31"/>
<path d="M210.2 108.7C211.9 109.6 213.1 113.9 212.7 115.9C212.4 117.8 209.7 120.6 208.0 120.7C206.2 120.8 202.9 118.1 202.0 116.4C201.1 114.8 201.1 112.1 202.5 110.8C203.8 109.5 208.5 107.9 210.2 108.7Z" fill="none" stroke="#f01c30" stroke-width="1.07" opacity="0.98"/>
<path d="M220.1 112.6C220.3 113.5 220.0 115.6 219.3 116.8C218.5 118.0 216.8 119.2 215.5 119.8C214.2 120.5 212.9 120.8 211.5 120.8C210.0 120.8 206.6 121.1 206.7 119.9C206.9 118.7 210.7 114.8 212.5 113.4C214.3 112.0 216.4 111.8 217.7 111.6C218.9 111.5 219.8 111.8 220.1 112.6Z" fill="none" stroke="#f01c30" stroke-width="0.89" opacity="0.60"/>
<path d="M236.4 113.3C236.8 114.2 236.6 115.7 235.7 116.8C234.8 117.9 232.4 119.7 230.9 119.9C229.4 120.1 227.7 119.2 226.9 118.1C226.2 117.0 225.4 114.5 226.3 113.3C227.3 112.1 231.1 110.9 232.8 110.9C234.5 110.9 235.9 112.3 236.4 113.3Z" fill="none" stroke="#f01c30" stroke-width="1.05" opacity="0.64"/>
<path d="M247.2 108.8C248.0 109.7 246.7 112.5 245.5 113.8C244.4 115.0 242.3 115.7 240.5 116.3C238.7 117.0 235.8 118.1 234.7 117.4C233.6 116.8 233.0 113.9 234.1 112.3C235.2 110.8 238.9 108.8 241.1 108.2C243.3 107.6 246.5 107.8 247.2 108.8Z" fill="none" stroke="#f01c30" stroke-width="1.07" opacity="0.67"/>
<path d="M258.5 113.1C259.7 114.3 261.1 117.3 260.1 118.2C259.1 119.1 254.1 119.1 252.4 118.6C250.8 118.1 250.0 116.4 250.1 115.2C250.1 114.0 251.4 111.6 252.8 111.2C254.2 110.9 257.2 111.9 258.5 113.1Z" fill="none" stroke="#f01c30" stroke-width="0.94" opacity="0.68"/>
<path d="M275.7 109.6C276.1 110.3 276.3 110.8 275.3 112.4C274.2 113.9 271.1 118.4 269.5 119.0C267.9 119.7 266.6 117.0 265.5 116.1C264.4 115.2 262.6 114.9 262.8 113.7C263.1 112.5 265.4 109.8 267.1 108.8C268.8 107.9 271.7 107.9 273.1 108.0C274.6 108.2 275.4 108.8 275.7 109.6Z" fill="none" stroke="#f01c30" stroke-width="0.94" opacity="0.34"/>
<path d="M288.3 111.7C289.2 112.8 287.7 117.4 286.5 119.6C285.3 121.9 282.8 124.7 280.9 125.3C279.0 125.8 276.3 124.1 275.2 122.7C274.1 121.3 273.6 118.3 274.5 116.6C275.5 114.9 278.6 113.4 280.9 112.5C283.2 111.7 287.3 110.5 288.3 111.7Z" fill="none" stroke="#f01c30" stroke-width="0.97" opacity="0.47"/>
<path d="M301.4 112.1C302.1 113.2 302.4 116.1 301.7 117.5C301.0 119.0 298.8 119.6 297.2 121.0C295.6 122.3 293.6 125.3 292.0 125.4C290.3 125.5 287.5 123.5 287.4 121.6C287.2 119.7 289.3 115.6 291.0 113.9C292.7 112.2 295.8 111.6 297.5 111.3C299.3 111.0 300.7 111.1 301.4 112.1Z" fill="none" stroke="#f01c30" stroke-width="0.80" opacity="0.47"/>
<path d="M312.4 111.9C313.2 113.0 312.4 115.3 310.7 116.9C309.0 118.5 304.0 121.5 302.0 121.4C300.1 121.4 299.2 118.2 299.0 116.7C298.9 115.2 300.1 113.7 301.3 112.6C302.4 111.5 304.1 110.2 306.0 110.0C307.8 109.9 311.7 110.7 312.4 111.9Z" fill="none" stroke="#f01c30" stroke-width="1.04" opacity="0.47"/>
<path d="M191.7 121.3C192.5 122.5 192.5 124.0 192.2 125.7C191.8 127.3 190.8 130.3 189.5 131.2C188.2 132.1 185.9 131.5 184.4 131.2C183.0 131.0 181.3 130.8 180.7 129.5C180.1 128.2 179.6 125.2 180.6 123.4C181.7 121.5 185.3 118.8 187.2 118.4C189.0 118.1 190.8 120.1 191.7 121.3Z" fill="none" stroke="#f01c30" stroke-width="0.79" opacity="0.24"/>
<path d="M200.4 121.2C201.5 122.2 203.2 122.9 202.6 124.6C201.9 126.3 198.1 130.2 196.3 131.4C194.6 132.7 192.9 133.0 191.9 132.0C190.9 131.0 189.6 127.7 190.3 125.5C190.9 123.3 193.8 119.8 195.5 119.1C197.2 118.4 199.2 120.3 200.4 121.2Z" fill="none" stroke="#f01c30" stroke-width="0.89" opacity="0.42"/>
<path d="M217.6 126.5C218.4 127.5 219.4 128.9 218.7 130.3C218.0 131.6 215.1 134.1 213.6 134.6C212.0 135.1 210.5 134.1 209.4 133.3C208.3 132.6 206.8 131.8 206.8 130.3C206.8 128.8 208.4 125.2 209.6 124.2C210.8 123.2 212.7 123.8 214.0 124.2C215.3 124.6 216.8 125.5 217.6 126.5Z" fill="none" stroke="#f01c30" stroke-width="1.06" opacity="0.63"/>
<path d="M228.8 125.2C230.1 126.1 231.6 126.9 231.7 128.5C231.9 130.1 231.3 133.6 229.9 134.7C228.5 135.8 224.5 136.3 223.2 135.3C222.0 134.4 222.1 131.0 222.2 129.0C222.4 126.9 222.9 123.8 224.0 123.2C225.0 122.6 227.5 124.3 228.8 125.2Z" fill="none" stroke="#f01c30" stroke-width="1.07" opacity="0.81"/>
<path d="M241.7 126.0C241.9 127.0 242.1 129.4 241.0 130.8C239.8 132.3 236.9 134.1 234.8 134.7C232.7 135.2 229.5 135.1 228.6 134.2C227.7 133.2 228.8 130.7 229.2 129.1C229.7 127.5 229.7 125.3 231.5 124.5C233.2 123.8 238.0 124.6 239.7 124.8C241.4 125.1 241.5 125.0 241.7 126.0Z" fill="none" stroke="#f01c30" stroke-width="1.05" opacity="0.67"/>
<path d="M254.6 120.5C255.9 121.0 257.7 121.7 257.3 123.6C257.0 125.6 254.1 131.0 252.8 132.1C251.4 133.3 250.4 131.2 249.2 130.5C247.9 129.9 245.2 129.9 245.3 128.3C245.3 126.6 248.1 121.8 249.7 120.5C251.2 119.2 253.4 120.0 254.6 120.5Z" fill="none" stroke="#f01c30" stroke-width="1.03" opacity="0.58"/>
<path d="M265.8 122.3C266.5 123.6 267.4 126.2 266.1 127.3C264.9 128.4 260.1 129.1 258.4 128.8C256.7 128.5 256.3 126.7 255.8 125.6C255.4 124.5 254.8 123.3 255.9 122.2C256.9 121.2 260.4 119.4 262.1 119.4C263.7 119.4 265.1 121.0 265.8 122.3Z" fill="none" stroke="#f01c30" stroke-width="0.87" opacity="0.56"/>
<path d="M282.6 119.8C283.6 120.9 282.5 124.2 280.3 125.8C278.0 127.4 271.4 129.6 269.0 129.3C266.6 129.0 265.1 125.5 266.0 123.8C266.8 122.1 271.3 119.6 274.1 119.0C276.8 118.3 281.6 118.7 282.6 119.8Z" fill="none" stroke="#f01c30" stroke-width="0.83" opacity="0.47"/>
<path d="M291.4 122.6C292.4 124.0 292.5 127.2 291.8 128.5C291.1 129.9 289.0 130.3 287.3 130.7C285.5 131.1 282.6 131.4 281.2 130.9C279.8 130.4 278.3 129.7 279.1 128.0C279.9 126.2 283.9 121.1 286.0 120.2C288.0 119.3 290.4 121.2 291.4 122.6Z" fill="none" stroke="#f01c30" stroke-width="0.79" opacity="0.34"/>
<path d="M304.7 123.6C305.0 125.1 303.7 127.9 302.0 129.4C300.3 131.0 296.1 133.1 294.4 133.0C292.6 133.0 292.0 130.4 291.5 129.2C291.0 128.0 290.0 127.2 291.4 125.8C292.8 124.4 297.9 121.2 300.1 120.9C302.4 120.5 304.4 122.2 304.7 123.6Z" fill="none" stroke="#f01c30" stroke-width="0.92" opacity="0.32"/>
<path d="M185.8 130.4C186.3 131.5 185.0 134.6 183.3 136.4C181.7 138.3 177.5 141.6 176.0 141.7C174.4 141.8 173.3 139.2 174.0 137.2C174.6 135.3 178.1 131.0 180.1 129.9C182.1 128.8 185.3 129.3 185.8 130.4Z" fill="none" stroke="#f01c30" stroke-width="0.82" opacity="0.16"/>
<path d="M196.9 134.6C197.3 136.4 196.3 139.8 194.1 141.1C191.9 142.4 185.8 143.1 183.7 142.4C181.6 141.8 180.3 139.2 181.6 137.2C182.9 135.2 188.9 130.9 191.4 130.4C194.0 130.0 196.5 132.9 196.9 134.6Z" fill="none" stroke="#f01c30" stroke-width="1.04" opacity="0.25"/>
<path d="M208.7 136.1C209.7 137.1 210.7 138.7 210.2 140.1C209.8 141.4 208.0 143.6 206.0 144.3C203.9 145.0 199.6 145.1 198.0 144.3C196.4 143.4 195.3 140.7 196.3 139.0C197.4 137.2 202.3 134.2 204.4 133.7C206.4 133.3 207.7 135.0 208.7 136.1Z" fill="none" stroke="#f01c30" stroke-width="0.98" opacity="0.95"/>
<path d="M222.6 135.8C223.3 137.1 224.6 138.5 224.0 139.6C223.5 140.6 220.9 141.7 219.3 142.0C217.8 142.4 216.0 142.4 214.8 141.7C213.7 141.1 212.9 139.5 212.4 138.1C212.0 136.6 211.0 134.1 212.2 133.0C213.5 131.9 218.1 131.0 219.9 131.4C221.6 131.9 221.9 134.4 222.6 135.8Z" fill="none" stroke="#f01c30" stroke-width="1.09" opacity="0.76"/>
<path d="M238.0 136.9C238.8 138.5 237.3 143.7 235.1 144.9C233.0 146.1 226.8 145.3 225.0 144.2C223.2 143.2 223.4 140.1 224.3 138.6C225.2 137.1 228.2 135.5 230.4 135.2C232.7 134.9 237.2 135.2 238.0 136.9Z" fill="none" stroke="#f01c30" stroke-width="0.89" opacity="0.86"/>
<path d="M245.3 134.5C245.4 135.7 245.8 136.7 245.1 138.0C244.4 139.4 242.9 142.1 241.1 142.7C239.2 143.2 234.5 142.6 234.0 141.4C233.4 140.2 236.2 137.2 237.9 135.4C239.6 133.7 243.2 131.0 244.4 130.8C245.6 130.7 245.2 133.3 245.3 134.5Z" fill="none" stroke="#f01c30" stroke-width="0.78" opacity="0.56"/>
<path d="M261.3 135.4C261.7 136.5 260.7 138.3 259.8 139.0C258.9 139.8 257.1 139.9 256.1 139.8C255.0 139.7 253.7 139.4 253.4 138.5C253.1 137.5 253.6 135.0 254.2 134.1C254.8 133.1 256.1 132.4 257.3 132.7C258.4 132.9 260.9 134.3 261.3 135.4Z" fill="none" stroke="#f01c30" stroke-width="0.80" opacity="0.55"/>
<path d="M271.3 134.5C272.2 135.6 273.1 137.6 272.5 138.9C271.9 140.2 269.4 141.8 267.6 142.5C265.8 143.2 263.0 143.6 261.8 143.0C260.6 142.3 260.0 140.2 260.2 138.5C260.5 136.7 262.3 133.4 263.5 132.4C264.7 131.5 266.2 132.3 267.5 132.7C268.8 133.0 270.5 133.5 271.3 134.5Z" fill="none" stroke="#f01c30" stroke-width="0.83" opacity="0.60"/>
<path d="M286.3 130.8C287.1 131.5 286.8 134.7 286.2 136.4C285.7 138.1 284.1 139.7 282.8 141.0C281.5 142.3 279.4 144.8 278.4 144.3C277.5 143.8 276.6 140.1 277.1 138.1C277.7 136.1 280.0 133.5 281.6 132.2C283.1 131.0 285.6 130.1 286.3 130.8Z" fill="none" stroke="#f01c30" stroke-width="0.82" opacity="0.45"/>
<path d="M299.4 135.8C300.2 137.2 298.0 140.9 296.1 142.0C294.2 143.2 290.2 143.1 288.1 142.6C285.9 142.2 282.4 140.9 283.0 139.5C283.6 138.0 289.1 134.5 291.8 133.9C294.6 133.3 298.7 134.5 299.4 135.8Z" fill="none" stroke="#f01c30" stroke-width="1.02" opacity="0.49"/>
<path d="M312.1 131.0C312.8 132.4 311.4 136.8 310.1 138.1C308.7 139.4 305.9 139.0 304.1 138.8C302.3 138.6 299.1 138.3 299.4 136.8C299.7 135.3 304.0 130.7 306.1 129.7C308.2 128.8 311.5 129.6 312.1 131.0Z" fill="none" stroke="#f01c30" stroke-width="0.92" opacity="0.45"/>
<path d="M154.3 141.5C155.7 142.9 157.6 146.8 156.8 148.9C156.0 151.0 151.6 153.6 149.6 154.1C147.6 154.7 145.6 153.4 144.8 152.1C144.1 150.7 144.4 148.2 145.0 146.3C145.6 144.3 147.1 140.9 148.6 140.1C150.2 139.3 153.0 140.0 154.3 141.5Z" fill="none" stroke="#f01c30" stroke-width="1.06" opacity="0.13"/>
<path d="M177.8 141.7C178.6 142.3 178.0 145.1 177.2 147.1C176.4 149.1 174.4 153.2 172.8 153.8C171.2 154.5 168.5 151.9 167.7 151.0C166.9 150.0 167.1 149.2 167.8 148.0C168.6 146.7 170.6 144.6 172.2 143.6C173.9 142.5 177.0 141.1 177.8 141.7Z" fill="none" stroke="#f01c30" stroke-width="1.04" opacity="0.11"/>
<path d="M188.0 144.7C188.8 145.6 189.6 148.1 188.9 149.6C188.2 151.1 185.3 153.7 183.9 153.9C182.5 154.0 180.3 152.0 180.4 150.4C180.5 148.7 183.1 145.1 184.4 144.2C185.7 143.2 187.3 143.8 188.0 144.7Z" fill="none" stroke="#f01c30" stroke-width="0.91" opacity="0.31"/>
<path d="M205.1 146.5C205.9 147.9 205.2 150.6 203.7 152.3C202.2 153.9 198.2 156.3 196.0 156.4C193.7 156.4 190.9 154.5 190.3 152.7C189.7 151.0 191.0 147.3 192.4 145.9C193.8 144.5 196.8 144.2 198.9 144.3C201.0 144.5 204.3 145.2 205.1 146.5Z" fill="none" stroke="#f01c30" stroke-width="1.00" opacity="0.47"/>
<path d="M217.5 145.0C217.9 146.2 218.3 147.5 217.5 148.8C216.7 150.2 214.6 152.7 212.8 153.0C211.1 153.4 207.8 152.2 207.2 151.1C206.5 150.1 207.7 148.2 209.0 146.7C210.3 145.1 213.5 142.0 214.9 141.7C216.4 141.4 217.1 143.8 217.5 145.0Z" fill="none" stroke="#f01c30" stroke-width="1.01" opacity="0.77"/>
<path d="M224.2 142.8C224.9 143.7 224.8 146.9 224.4 148.4C224.1 149.8 223.3 150.7 222.1 151.5C220.8 152.3 218.1 153.7 217.0 153.1C216.0 152.5 215.2 149.7 215.7 148.0C216.3 146.3 219.0 144.0 220.4 143.1C221.9 142.3 223.6 142.0 224.2 142.8Z" fill="none" stroke="#f01c30" stroke-width="0.84" opacity="0.92"/>
<path d="M243.5 144.9C244.7 145.4 244.1 149.0 243.1 150.8C242.1 152.6 239.2 155.4 237.5 155.6C235.7 155.8 232.9 153.5 232.7 152.2C232.5 151.0 234.5 149.2 236.3 148.0C238.1 146.8 242.4 144.5 243.5 144.9Z" fill="none" stroke="#f01c30" stroke-width="0.92" opacity="0.52"/>
<path d="M253.4 144.8C254.5 145.5 255.1 147.3 254.4 149.1C253.7 150.8 250.8 154.4 249.2 155.5C247.5 156.6 245.7 156.5 244.7 155.7C243.6 154.8 242.4 152.0 242.8 150.2C243.2 148.4 245.5 145.9 247.3 145.0C249.0 144.1 252.2 144.2 253.4 144.8Z" fill="none" stroke="#f01c30" stroke-width="0.79" opacity="0.62"/>
<path d="M266.6 145.5C266.8 146.1 266.0 147.1 265.2 148.3C264.4 149.6 263.4 152.1 261.6 152.9C259.9 153.6 256.1 153.1 254.8 152.8C253.5 152.5 253.6 152.3 253.8 151.0C254.0 149.8 254.4 146.4 256.1 145.3C257.7 144.1 261.8 144.3 263.6 144.4C265.3 144.4 266.3 144.8 266.6 145.5Z" fill="none" stroke="#f01c30" stroke-width="0.89" opacity="0.57"/>
<path d="M277.3 145.9C278.8 147.2 279.9 152.7 279.3 154.3C278.6 155.9 275.1 155.4 273.1 155.3C271.2 155.2 268.2 155.2 267.7 153.8C267.2 152.3 268.6 148.1 270.2 146.8C271.8 145.5 275.8 144.7 277.3 145.9Z" fill="none" stroke="#f01c30" stroke-width="0.91" opacity="0.46"/>
<path d="M290.9 147.2C291.6 148.4 289.2 152.2 287.7 153.4C286.2 154.7 283.6 154.6 281.9 154.9C280.1 155.2 278.0 155.9 277.3 155.3C276.6 154.6 276.6 152.5 277.7 151.0C278.7 149.5 281.4 146.8 283.6 146.1C285.8 145.5 290.3 146.0 290.9 147.2Z" fill="none" stroke="#f01c30" stroke-width="0.97" opacity="0.48"/>
<path d="M300.4 143.8C301.6 144.8 304.0 148.0 303.7 149.3C303.4 150.5 300.4 151.6 298.6 151.3C296.8 151.0 293.4 148.9 293.0 147.5C292.6 146.1 295.1 143.5 296.3 142.8C297.5 142.2 299.1 142.7 300.4 143.8Z" fill="none" stroke="#f01c30" stroke-width="1.04" opacity="0.34"/>
<path d="M161.2 152.9C162.3 153.9 164.5 155.0 163.6 156.8C162.7 158.7 157.7 163.0 155.7 163.9C153.6 164.8 151.9 163.1 151.3 162.1C150.6 161.1 150.9 159.7 151.8 157.9C152.7 156.1 155.1 151.9 156.6 151.1C158.2 150.2 160.0 152.0 161.2 152.9Z" fill="none" stroke="#f01c30" stroke-width="0.79" opacity="0.12"/>
<path d="M173.2 156.7C173.7 158.0 172.3 160.1 170.6 161.4C169.0 162.7 164.8 165.0 163.2 164.5C161.6 164.0 160.3 160.0 161.0 158.2C161.7 156.3 165.5 153.7 167.5 153.5C169.5 153.2 172.7 155.4 173.2 156.7Z" fill="none" stroke="#f01c30" stroke-width="0.82" opacity="0.18"/>
<path d="M185.5 156.7C186.3 158.0 186.6 161.3 185.6 162.6C184.7 163.9 181.2 165.0 180.0 164.5C178.7 164.1 177.7 161.5 177.9 159.9C178.0 158.3 179.6 155.4 180.8 154.9C182.1 154.4 184.7 155.4 185.5 156.7Z" fill="none" stroke="#f01c30" stroke-width="0.77" opacity="0.36"/>
<path d="M202.2 153.1C202.5 154.3 201.8 157.0 200.1 158.3C198.5 159.6 194.2 160.8 192.5 160.9C190.8 161.0 190.3 159.9 189.9 159.1C189.5 158.4 188.7 157.7 190.2 156.4C191.6 155.1 196.7 151.7 198.7 151.2C200.7 150.6 202.0 151.9 202.2 153.1Z" fill="none" stroke="#f01c30" stroke-width="0.98" opacity="0.90"/>
<path d="M209.1 156.3C209.6 157.5 210.6 159.1 210.1 160.5C209.5 161.8 207.3 164.0 205.6 164.6C204.0 165.2 202.0 164.5 200.3 164.1C198.6 163.6 195.7 163.1 195.3 161.9C195.0 160.6 196.1 158.1 198.0 156.7C199.9 155.3 204.9 153.7 206.8 153.6C208.6 153.5 208.5 155.2 209.1 156.3Z" fill="none" stroke="#f01c30" stroke-width="0.89" opacity="0.90"/>
<path d="M225.8 155.0C225.9 156.3 224.3 157.3 222.8 158.6C221.2 159.9 218.7 162.5 216.8 162.9C214.9 163.2 212.8 161.7 211.4 160.6C210.1 159.6 208.1 157.9 208.6 156.8C209.2 155.6 212.3 154.8 214.6 153.8C216.8 152.8 220.2 150.5 222.0 150.6C223.9 150.8 225.7 153.6 225.8 155.0Z" fill="none" stroke="#f01c30" stroke-width="1.01" opacity="0.74"/>
<path d="M236.3 156.0C237.4 157.4 235.8 160.5 234.4 162.3C233.1 164.0 230.3 166.3 228.4 166.2C226.5 166.1 223.2 163.7 223.1 161.5C223.1 159.4 225.9 154.4 228.1 153.5C230.3 152.6 235.2 154.5 236.3 156.0Z" fill="none" stroke="#f01c30" stroke-width="1.01" opacity="0.72"/>
<path d="M248.6 156.4C249.6 157.9 248.8 159.1 248.2 160.6C247.5 162.0 245.9 165.0 244.7 165.2C243.5 165.4 242.0 163.4 241.1 161.9C240.3 160.5 239.4 158.4 239.7 156.7C239.9 155.0 241.1 151.8 242.6 151.7C244.1 151.7 247.7 154.9 248.6 156.4Z" fill="none" stroke="#f01c30" stroke-width="1.04" opacity="0.82"/>
<path d="M257.4 154.5C258.6 155.6 259.8 159.8 258.9 161.2C258.0 162.5 253.9 163.0 252.1 162.6C250.3 162.2 248.2 160.0 248.1 158.7C248.0 157.4 249.9 155.4 251.5 154.7C253.0 154.0 256.1 153.4 257.4 154.5Z" fill="none" stroke="#f01c30" stroke-width="1.05" opacity="0.83"/>
<path d="M276.7 154.8C277.2 156.0 277.0 157.7 275.4 158.5C273.7 159.4 269.0 160.0 266.8 160.0C264.5 160.1 262.5 160.1 262.0 159.0C261.5 157.9 261.9 154.6 263.6 153.4C265.3 152.2 270.1 151.5 272.3 151.7C274.5 151.9 276.2 153.7 276.7 154.8Z" fill="none" stroke="#f01c30" stroke-width="0.81" opacity="0.64"/>
<path d="M286.8 154.5C287.5 155.6 287.9 158.3 286.9 159.3C286.0 160.4 283.1 160.5 281.2 160.8C279.4 161.0 276.6 161.8 276.1 160.8C275.6 159.8 277.2 156.1 278.3 154.8C279.4 153.6 281.2 153.1 282.6 153.1C284.0 153.0 286.1 153.5 286.8 154.5Z" fill="none" stroke="#f01c30" stroke-width="1.09" opacity="0.66"/>
<path d="M296.2 155.8C297.3 157.0 298.6 160.8 297.8 162.1C297.0 163.3 292.8 163.9 291.1 163.4C289.5 162.8 288.1 160.1 288.1 158.8C288.1 157.4 289.9 155.6 291.3 155.1C292.6 154.6 295.1 154.6 296.2 155.8Z" fill="none" stroke="#f01c30" stroke-width="1.06" opacity="0.61"/>
<path d="M311.0 155.1C312.3 156.1 312.7 160.0 311.4 162.2C310.0 164.5 305.0 167.9 302.8 168.4C300.5 168.8 297.8 167.1 298.0 165.1C298.2 163.0 301.8 157.8 304.0 156.1C306.1 154.5 309.8 154.1 311.0 155.1Z" fill="none" stroke="#f01c30" stroke-width="1.08" opacity="0.63"/>
<path d="M153.0 169.4C153.8 170.2 152.6 171.6 151.8 172.8C151.0 173.9 149.6 176.1 148.3 176.4C146.9 176.7 145.1 175.6 143.7 174.8C142.3 174.1 140.3 173.2 140.2 171.9C140.0 170.7 141.7 167.9 142.8 167.1C144.0 166.4 145.4 167.2 147.1 167.6C148.8 168.0 152.2 168.5 153.0 169.4Z" fill="none" stroke="#f01c30" stroke-width="0.76" opacity="0.33"/>
<path d="M165.4 162.7C166.2 163.7 167.2 167.0 166.5 168.8C165.8 170.6 162.8 172.3 161.0 173.6C159.2 174.9 156.8 177.1 156.0 176.5C155.1 175.8 154.9 171.8 155.8 169.5C156.7 167.3 159.8 164.3 161.4 163.2C163.0 162.0 164.5 161.8 165.4 162.7Z" fill="none" stroke="#f01c30" stroke-width="0.92" opacity="0.22"/>
<path d="M178.5 168.9C179.3 170.2 179.4 171.4 178.7 172.7C178.0 174.1 176.0 176.8 174.5 176.9C173.0 177.0 170.7 175.3 169.9 173.4C169.0 171.5 168.6 166.9 169.3 165.4C170.0 164.0 172.6 164.2 174.1 164.8C175.7 165.4 177.8 167.5 178.5 168.9Z" fill="none" stroke="#f01c30" stroke-width="1.01" opacity="0.23"/>
<path d="M189.4 165.3C190.5 166.4 189.6 169.4 188.5 170.9C187.3 172.3 183.9 173.9 182.5 174.0C181.1 174.1 180.7 172.8 180.1 171.4C179.5 170.1 178.7 167.2 179.0 166.0C179.3 164.8 180.1 164.5 181.8 164.3C183.6 164.2 188.3 164.2 189.4 165.3Z" fill="none" stroke="#f01c30" stroke-width="0.86" opacity="0.96"/>
<path d="M204.9 166.5C206.2 167.4 207.2 171.8 206.7 173.7C206.3 175.6 203.6 177.3 202.0 178.1C200.4 179.0 198.3 179.8 197.1 178.9C195.9 178.1 194.4 174.7 194.7 172.9C194.9 171.1 197.1 169.3 198.8 168.2C200.5 167.1 203.5 165.6 204.9 166.5Z" fill="none" stroke="#f01c30" stroke-width="0.81" opacity="0.69"/>
<path d="M217.1 163.4C218.1 164.6 218.3 166.9 217.3 168.6C216.4 170.3 213.1 173.0 211.4 173.6C209.8 174.3 208.2 173.9 207.3 172.5C206.5 171.0 205.5 166.8 206.1 164.9C206.7 163.0 209.2 161.5 211.1 161.3C212.9 161.0 216.0 162.1 217.1 163.4Z" fill="none" stroke="#f01c30" stroke-width="0.93" opacity="0.68"/>
<path d="M230.5 168.2C230.8 169.5 228.6 174.0 227.1 175.1C225.5 176.2 222.7 175.6 221.4 174.8C220.2 174.1 218.9 172.0 219.5 170.6C220.2 169.3 223.5 167.3 225.4 166.9C227.2 166.5 230.3 166.8 230.5 168.2Z" fill="none" stroke="#f01c30" stroke-width="1.02" opacity="0.69"/>
<path d="M240.1 163.5C240.6 164.7 241.9 166.6 241.1 168.1C240.2 169.6 236.7 172.0 235.1 172.5C233.5 172.9 231.9 171.8 231.3 170.8C230.7 169.8 230.4 168.1 231.5 166.5C232.6 164.9 236.5 161.7 238.0 161.2C239.4 160.7 239.6 162.4 240.1 163.5Z" fill="none" stroke="#f01c30" stroke-width="0.94" opacity="0.76"/>
<path d="M251.0 164.5C252.2 165.3 254.2 165.8 253.8 167.4C253.4 168.9 250.3 173.0 248.6 173.6C247.0 174.1 244.9 171.8 243.9 170.6C242.8 169.4 242.0 167.6 242.5 166.3C243.0 165.0 245.4 163.1 246.8 162.8C248.2 162.5 249.8 163.7 251.0 164.5Z" fill="none" stroke="#f01c30" stroke-width="0.98" opacity="0.81"/>
<path d="M266.8 168.2C267.8 168.9 269.0 171.7 268.7 173.1C268.3 174.4 266.2 175.6 264.7 176.1C263.3 176.5 260.9 176.7 259.8 176.0C258.7 175.3 257.7 173.0 258.2 171.7C258.7 170.5 261.2 169.2 262.7 168.6C264.1 168.0 265.8 167.4 266.8 168.2Z" fill="none" stroke="#f01c30" stroke-width="0.87" opacity="0.69"/>
<path d="M277.0 164.1C277.6 165.1 277.6 166.3 276.9 167.8C276.1 169.3 274.0 172.3 272.6 173.1C271.1 173.8 268.8 173.1 268.2 172.3C267.6 171.5 268.3 170.0 269.1 168.3C269.9 166.6 271.7 162.9 273.0 162.2C274.3 161.5 276.3 163.2 277.0 164.1Z" fill="none" stroke="#f01c30" stroke-width="0.95" opacity="0.62"/>
<path d="M290.5 167.4C290.8 168.5 289.4 170.6 288.7 172.0C288.0 173.3 287.6 175.1 286.3 175.4C285.0 175.7 282.2 174.4 280.9 173.9C279.7 173.3 278.6 173.5 278.6 172.2C278.5 171.0 279.3 167.6 280.7 166.5C282.1 165.3 285.3 165.2 287.0 165.4C288.6 165.5 290.2 166.3 290.5 167.4Z" fill="none" stroke="#f01c30" stroke-width="0.99" opacity="0.51"/>
<path d="M300.6 166.6C301.7 167.4 302.7 168.8 302.0 170.1C301.3 171.4 298.0 174.0 296.3 174.3C294.6 174.6 292.0 173.3 291.8 171.9C291.6 170.4 293.8 166.5 295.3 165.6C296.7 164.7 299.5 165.9 300.6 166.6Z" fill="none" stroke="#f01c30" stroke-width="0.95" opacity="0.59"/>
<path d="M161.2 181.1C161.7 182.1 161.2 183.7 160.4 184.8C159.7 185.9 158.2 187.3 156.6 187.5C154.9 187.8 151.3 187.0 150.7 186.2C150.1 185.3 151.5 183.6 152.7 182.4C153.8 181.2 156.1 179.4 157.5 179.2C159.0 179.0 160.7 180.2 161.2 181.1Z" fill="none" stroke="#f01c30" stroke-width="0.92" opacity="0.36"/>
<path d="M174.7 178.3C175.3 180.2 174.3 183.2 172.9 184.3C171.6 185.4 168.6 185.1 166.6 184.9C164.7 184.6 161.9 184.1 161.3 182.9C160.7 181.6 161.6 179.0 162.9 177.3C164.2 175.7 167.3 172.8 169.2 173.0C171.2 173.1 174.1 176.4 174.7 178.3Z" fill="none" stroke="#f01c30" stroke-width="0.99" opacity="0.43"/>
<path d="M181.4 178.5C182.7 179.8 183.9 182.9 183.9 184.4C183.9 185.9 182.9 187.2 181.5 187.5C180.1 187.7 177.2 186.6 175.6 185.7C174.1 184.7 172.1 183.2 172.1 181.6C172.1 180.0 174.1 176.7 175.6 176.2C177.2 175.6 180.0 177.1 181.4 178.5Z" fill="none" stroke="#f01c30" stroke-width="1.09" opacity="0.52"/>
<path d="M196.1 178.3C196.8 179.2 196.1 181.3 195.8 182.9C195.5 184.4 195.5 187.3 194.2 187.7C192.9 188.1 189.5 186.2 188.3 185.3C187.1 184.4 186.3 183.5 187.0 182.1C187.6 180.8 190.6 178.0 192.1 177.3C193.6 176.7 195.5 177.4 196.1 178.3Z" fill="none" stroke="#f01c30" stroke-width="1.07" opacity="0.92"/>
<path d="M211.7 180.3C212.4 181.9 212.4 187.0 210.9 188.1C209.4 189.3 204.3 188.2 202.7 187.1C201.0 186.0 200.2 182.9 200.9 181.5C201.7 180.1 205.3 178.8 207.1 178.6C208.9 178.4 211.1 178.7 211.7 180.3Z" fill="none" stroke="#f01c30" stroke-width="0.81" opacity="0.67"/>
<path d="M220.9 180.7C221.4 181.4 220.8 183.6 219.9 184.6C219.0 185.6 217.0 186.2 215.5 186.8C213.9 187.3 211.6 188.4 210.7 187.9C209.8 187.4 210.1 185.0 210.0 183.9C209.9 182.7 209.0 181.5 210.2 180.9C211.4 180.3 215.3 180.4 217.1 180.4C218.8 180.3 220.4 180.0 220.9 180.7Z" fill="none" stroke="#f01c30" stroke-width="0.87" opacity="0.70"/>
<path d="M232.0 180.5C232.8 181.4 234.0 183.6 233.3 184.7C232.6 185.7 229.8 186.6 227.8 187.0C225.8 187.5 222.1 188.0 221.1 187.2C220.1 186.4 221.3 183.6 221.9 182.1C222.5 180.6 223.9 178.6 224.9 178.1C226.0 177.5 227.3 178.6 228.5 179.0C229.6 179.4 231.2 179.5 232.0 180.5Z" fill="none" stroke="#f01c30" stroke-width="0.81" opacity="1.00"/>
<path d="M244.1 175.7C244.3 177.1 243.8 179.9 243.1 181.4C242.3 182.9 240.9 184.8 239.6 184.6C238.3 184.4 236.1 181.8 235.5 180.3C234.8 178.7 234.5 176.4 235.6 175.2C236.6 174.0 240.5 172.8 242.0 172.9C243.4 173.0 244.0 174.3 244.1 175.7Z" fill="none" stroke="#f01c30" stroke-width="1.08" opacity="0.74"/>
<path d="M258.7 179.7C259.8 180.7 261.0 183.2 260.0 184.6C259.1 185.9 254.5 187.7 253.1 187.6C251.6 187.6 251.0 185.8 251.1 184.3C251.1 182.8 252.0 179.4 253.3 178.7C254.6 177.9 257.6 178.7 258.7 179.7Z" fill="none" stroke="#f01c30" stroke-width="0.84" opacity="0.76"/>
<path d="M268.3 174.5C269.7 175.5 271.1 177.4 271.1 179.0C271.1 180.5 269.8 183.0 268.3 183.8C266.7 184.6 263.5 184.8 261.8 183.9C260.2 183.0 258.2 180.3 258.4 178.5C258.6 176.6 261.2 173.6 262.8 172.9C264.5 172.2 266.9 173.4 268.3 174.5Z" fill="none" stroke="#f01c30" stroke-width="0.86" opacity="0.62"/>
<path d="M288.2 174.7C288.7 175.7 286.2 178.5 285.6 180.3C285.0 182.0 286.1 184.5 284.5 185.2C283.0 185.9 277.8 185.4 276.5 184.5C275.2 183.6 276.7 181.5 276.7 179.7C276.8 178.0 275.8 175.0 276.8 174.0C277.7 173.1 280.7 174.0 282.6 174.1C284.5 174.2 287.7 173.6 288.2 174.7Z" fill="none" stroke="#f01c30" stroke-width="0.97" opacity="0.75"/>
<path d="M296.5 175.4C297.7 176.2 297.9 178.0 297.5 179.5C297.2 181.0 295.6 183.1 294.4 184.4C293.1 185.7 291.5 187.2 290.1 187.1C288.7 187.0 286.6 185.1 285.8 183.9C285.0 182.8 284.7 181.7 285.5 180.2C286.3 178.6 288.6 175.5 290.5 174.7C292.3 173.9 295.3 174.6 296.5 175.4Z" fill="none" stroke="#f01c30" stroke-width="0.96" opacity="0.66"/>
<path d="M313.8 176.7C313.8 178.1 312.2 179.8 310.6 181.0C309.1 182.2 306.1 183.7 304.4 184.1C302.6 184.6 300.5 184.9 300.0 183.6C299.5 182.2 299.8 178.0 301.5 176.2C303.2 174.4 308.2 172.7 310.2 172.8C312.3 172.8 313.7 175.3 313.8 176.7Z" fill="none" stroke="#f01c30" stroke-width="0.93" opacity="0.59"/>
<path d="M157.1 185.0C157.9 186.3 157.3 188.9 156.4 190.3C155.5 191.8 153.5 193.2 151.7 193.7C150.0 194.3 146.8 194.6 146.0 193.6C145.2 192.6 145.9 189.6 146.8 187.8C147.8 185.9 149.9 183.0 151.6 182.5C153.3 182.0 156.3 183.7 157.1 185.0Z" fill="none" stroke="#f01c30" stroke-width="1.02" opacity="0.46"/>
<path d="M168.7 188.9C169.8 189.6 167.5 191.9 166.3 193.7C165.1 195.6 163.1 198.7 161.4 199.9C159.7 201.1 157.1 201.7 156.2 200.8C155.3 199.9 155.4 196.4 156.0 194.5C156.7 192.6 158.0 190.5 160.1 189.5C162.2 188.6 167.7 188.2 168.7 188.9Z" fill="none" stroke="#f01c30" stroke-width="0.94" opacity="0.18"/>
<path d="M179.8 192.0C180.3 193.2 177.7 195.3 176.9 196.7C176.1 198.2 176.3 200.1 175.1 200.7C173.8 201.3 170.7 201.0 169.3 200.3C168.0 199.6 167.3 197.9 167.2 196.4C167.0 195.0 167.2 192.6 168.3 191.5C169.4 190.3 172.0 189.5 173.9 189.6C175.8 189.7 179.3 190.8 179.8 192.0Z" fill="none" stroke="#f01c30" stroke-width="0.75" opacity="0.19"/>
<path d="M187.0 184.4C188.0 184.9 188.2 188.3 187.8 189.8C187.5 191.4 186.2 192.5 184.9 193.7C183.5 194.8 181.0 197.1 179.9 196.7C178.8 196.3 177.8 193.0 178.2 191.3C178.5 189.7 180.4 188.0 181.9 186.8C183.4 185.7 186.0 183.9 187.0 184.4Z" fill="none" stroke="#f01c30" stroke-width="1.06" opacity="0.35"/>
<path d="M208.1 186.2C209.0 187.1 208.5 188.7 207.2 190.1C206.0 191.5 202.5 194.3 200.4 194.6C198.3 194.9 195.5 193.0 194.8 191.8C194.0 190.5 194.7 188.2 195.9 186.9C197.1 185.7 199.8 184.6 201.9 184.5C203.9 184.3 207.2 185.2 208.1 186.2Z" fill="none" stroke="#f01c30" stroke-width="0.80" opacity="0.86"/>
<path d="M218.1 186.8C218.6 188.3 218.3 191.8 217.4 193.1C216.5 194.4 214.0 194.4 212.6 194.6C211.2 194.8 209.7 195.8 208.9 194.3C208.1 192.8 206.8 187.5 207.8 185.8C208.7 184.0 213.0 183.6 214.7 183.8C216.4 183.9 217.7 185.2 218.1 186.8Z" fill="none" stroke="#f01c30" stroke-width="0.98" opacity="0.77"/>
<path d="M223.7 185.2C224.8 186.5 226.6 188.7 226.6 190.2C226.7 191.8 225.3 193.8 224.1 194.4C222.8 195.0 220.6 195.0 219.3 193.9C217.9 192.8 215.6 189.8 215.8 187.8C215.9 185.9 218.8 182.8 220.1 182.3C221.5 181.9 222.7 183.9 223.7 185.2Z" fill="none" stroke="#f01c30" stroke-width="0.93" opacity="0.67"/>
<path d="M240.9 187.7C242.3 188.9 243.3 190.7 243.3 192.3C243.4 193.9 242.3 196.3 241.0 197.4C239.8 198.5 237.2 199.2 235.8 198.7C234.4 198.2 233.5 195.8 232.8 194.4C232.1 193.1 231.1 192.0 231.5 190.5C232.0 189.0 233.8 185.8 235.4 185.3C237.0 184.9 239.6 186.6 240.9 187.7Z" fill="none" stroke="#f01c30" stroke-width="0.79" opacity="0.93"/>
<path d="M251.0 188.6C252.4 189.2 253.8 190.9 253.3 192.6C252.7 194.3 249.5 198.5 247.8 198.9C246.1 199.3 243.5 196.6 243.1 195.0C242.6 193.4 243.6 190.5 245.0 189.5C246.3 188.4 249.7 188.1 251.0 188.6Z" fill="none" stroke="#f01c30" stroke-width="0.91" opacity="0.99"/>
<path d="M265.3 187.0C266.5 188.0 268.5 192.0 267.6 193.6C266.6 195.3 261.6 197.0 259.7 197.0C257.8 196.9 256.1 195.0 256.2 193.4C256.3 191.8 258.8 188.6 260.3 187.5C261.8 186.5 264.1 186.0 265.3 187.0Z" fill="none" stroke="#f01c30" stroke-width="1.01" opacity="0.94"/>
<path d="M279.2 189.0C279.4 189.9 278.4 191.1 277.5 192.0C276.7 192.9 275.4 193.9 273.9 194.5C272.5 195.1 269.7 196.3 268.6 195.7C267.5 195.1 267.1 192.5 267.4 190.9C267.6 189.3 268.6 186.7 270.1 185.9C271.5 185.2 274.6 186.0 276.1 186.6C277.6 187.1 278.9 188.1 279.2 189.0Z" fill="none" stroke="#f01c30" stroke-width="0.93" opacity="0.64"/>
<path d="M294.0 188.4C294.3 189.4 293.0 191.3 291.9 192.6C290.9 193.8 289.1 195.5 287.8 195.8C286.4 196.1 284.6 195.3 283.8 194.3C283.0 193.2 282.1 190.9 283.2 189.6C284.2 188.3 288.4 186.6 290.2 186.4C292.0 186.2 293.8 187.4 294.0 188.4Z" fill="none" stroke="#f01c30" stroke-width="0.76" opacity="0.54"/>
<path d="M303.7 189.5C304.2 190.4 303.9 193.0 302.8 194.8C301.8 196.7 298.8 199.9 297.3 200.6C295.7 201.2 294.1 199.7 293.3 198.8C292.6 198.0 292.7 196.6 292.8 195.6C292.9 194.7 292.8 194.1 294.0 193.0C295.2 192.0 298.4 190.2 300.0 189.6C301.6 189.0 303.2 188.6 303.7 189.5Z" fill="none" stroke="#f01c30" stroke-width="1.05" opacity="0.61"/>
<path d="M156.4 199.2C157.2 199.7 157.9 201.0 157.8 202.1C157.6 203.2 156.4 204.9 155.5 206.0C154.5 207.1 153.2 208.3 152.1 208.6C150.9 208.8 148.9 208.8 148.5 207.4C148.0 206.1 148.7 202.0 149.4 200.6C150.1 199.3 151.4 199.5 152.5 199.3C153.7 199.0 155.5 198.7 156.4 199.2Z" fill="none" stroke="#f01c30" stroke-width="0.80" opacity="0.18"/>
<path d="M172.9 200.6C173.4 201.7 171.6 205.8 170.5 207.3C169.4 208.7 168.0 209.1 166.1 209.2C164.3 209.3 160.2 209.1 159.4 208.1C158.7 207.1 160.3 204.5 161.6 203.3C162.9 202.0 165.4 201.2 167.3 200.7C169.2 200.3 172.4 199.5 172.9 200.6Z" fill="none" stroke="#f01c30" stroke-width="0.86" opacity="0.17"/>
<path d="M184.3 194.9C185.2 196.1 186.9 200.0 186.4 201.7C185.9 203.5 182.8 204.7 181.2 205.5C179.7 206.3 177.6 207.3 176.9 206.3C176.2 205.4 176.3 201.7 177.0 199.7C177.7 197.7 179.7 195.3 180.9 194.5C182.1 193.7 183.3 193.7 184.3 194.9Z" fill="none" stroke="#f01c30" stroke-width="0.76" opacity="0.26"/>
<path d="M196.0 199.3C196.7 200.6 196.8 202.0 196.4 203.2C196.0 204.3 194.7 205.8 193.6 206.5C192.5 207.1 191.2 207.2 189.8 207.0C188.5 206.8 186.0 206.3 185.6 205.0C185.3 203.8 186.4 201.1 187.6 199.5C188.7 197.8 191.0 195.2 192.5 195.2C193.9 195.2 195.4 198.0 196.0 199.3Z" fill="none" stroke="#f01c30" stroke-width="0.88" opacity="0.35"/>
<path d="M209.5 199.8C210.7 200.8 212.4 203.0 211.5 204.2C210.7 205.4 206.1 207.0 204.5 207.3C202.8 207.5 202.0 206.9 201.6 205.8C201.3 204.6 201.8 201.8 202.3 200.6C202.7 199.3 203.3 198.3 204.5 198.2C205.7 198.1 208.3 198.8 209.5 199.8Z" fill="none" stroke="#f01c30" stroke-width="0.94" opacity="0.99"/>
<path d="M221.4 196.4C222.7 197.1 223.1 199.1 222.0 200.8C221.0 202.6 217.1 206.7 215.3 206.8C213.5 207.0 211.4 203.5 211.2 201.9C211.0 200.2 212.4 198.0 214.2 197.1C215.9 196.2 220.1 195.8 221.4 196.4Z" fill="none" stroke="#f01c30" stroke-width="0.80" opacity="0.67"/>
<path d="M239.0 202.5C239.9 203.6 238.3 206.4 237.0 207.8C235.8 209.3 233.2 211.1 231.7 211.3C230.1 211.6 228.0 210.9 227.5 209.5C227.0 208.0 227.9 204.0 228.6 202.6C229.3 201.2 230.2 201.2 231.9 201.2C233.6 201.2 238.2 201.4 239.0 202.5Z" fill="none" stroke="#f01c30" stroke-width="0.94" opacity="0.68"/>
<path d="M245.5 196.0C246.4 196.7 245.9 198.6 245.2 200.4C244.5 202.2 242.3 205.8 241.3 206.8C240.2 207.7 239.4 206.7 238.7 205.8C238.1 205.0 237.0 203.1 237.3 201.5C237.5 200.0 238.7 197.3 240.1 196.4C241.4 195.5 244.6 195.4 245.5 196.0Z" fill="none" stroke="#f01c30" stroke-width="0.96" opacity="0.66"/>
<path d="M260.9 198.2C261.7 199.4 262.7 200.7 261.9 202.3C261.2 203.9 258.1 207.5 256.3 207.9C254.5 208.3 252.0 205.8 251.0 204.5C249.9 203.3 248.9 201.9 250.0 200.4C251.0 198.8 255.4 195.5 257.2 195.2C259.0 194.8 260.1 197.0 260.9 198.2Z" fill="none" stroke="#f01c30" stroke-width="0.86" opacity="0.73"/>
<path d="M271.8 201.4C272.4 202.3 270.7 204.6 268.9 206.4C267.1 208.2 263.4 211.8 261.1 212.2C258.8 212.6 255.4 210.3 255.2 208.8C255.0 207.2 258.2 204.2 259.9 202.8C261.5 201.4 262.9 200.8 264.9 200.6C266.9 200.4 271.1 200.4 271.8 201.4Z" fill="none" stroke="#f01c30" stroke-width="0.81" opacity="0.76"/>
<path d="M284.6 195.1C286.0 195.3 287.8 197.3 286.9 199.2C286.0 201.2 281.3 205.4 279.3 206.7C277.4 207.9 276.0 207.3 275.3 206.8C274.6 206.3 274.6 205.2 275.1 203.6C275.7 202.1 276.9 199.0 278.5 197.6C280.1 196.1 283.2 194.8 284.6 195.1Z" fill="none" stroke="#f01c30" stroke-width="1.06" opacity="0.60"/>
<path d="M296.2 199.7C297.5 200.9 298.5 201.3 298.1 202.8C297.7 204.3 295.7 208.1 294.0 209.0C292.2 209.9 289.7 208.8 287.6 208.2C285.5 207.6 281.5 206.9 281.3 205.4C281.1 204.0 284.7 201.2 286.2 199.6C287.7 198.0 288.6 195.7 290.3 195.8C291.9 195.8 294.9 198.6 296.2 199.7Z" fill="none" stroke="#f01c30" stroke-width="1.05" opacity="0.69"/>
<path d="M311.5 203.3C311.9 204.7 311.2 205.9 310.4 207.1C309.5 208.3 308.2 210.6 306.6 210.4C305.1 210.3 301.8 208.1 301.2 206.5C300.5 204.8 301.6 201.8 302.7 200.6C303.8 199.3 306.4 198.4 307.8 198.8C309.3 199.3 311.0 201.9 311.5 203.3Z" fill="none" stroke="#f01c30" stroke-width="0.83" opacity="0.47"/>
<path d="M164.7 210.8C165.4 211.8 163.8 214.5 163.1 215.7C162.3 216.9 161.5 217.7 160.0 217.9C158.5 218.2 154.7 218.3 154.0 217.4C153.3 216.5 154.8 214.0 155.6 212.7C156.4 211.4 157.4 210.1 158.9 209.7C160.4 209.4 164.0 209.9 164.7 210.8Z" fill="none" stroke="#f01c30" stroke-width="0.99" opacity="0.11"/>
<path d="M192.1 204.9C193.1 206.5 192.3 212.9 190.9 215.0C189.4 217.2 185.3 218.2 183.3 218.1C181.3 217.9 178.6 216.3 178.9 214.2C179.2 212.1 183.0 207.2 185.2 205.6C187.4 204.1 191.2 203.4 192.1 204.9Z" fill="none" stroke="#f01c30" stroke-width="1.04" opacity="0.17"/>
<path d="M198.7 208.4C199.8 208.8 200.3 212.3 199.8 213.9C199.3 215.5 197.0 218.0 195.5 218.3C194.0 218.6 191.5 216.9 191.0 215.8C190.6 214.7 191.7 212.8 192.9 211.5C194.2 210.3 197.5 208.0 198.7 208.4Z" fill="none" stroke="#f01c30" stroke-width="1.00" opacity="0.10"/>
<path d="M216.0 212.4C216.4 213.9 215.2 219.0 214.1 220.3C213.0 221.6 210.9 220.4 209.4 220.5C207.9 220.5 206.2 221.5 205.1 220.8C204.1 220.1 202.8 218.0 203.2 216.5C203.5 214.9 205.7 212.1 207.2 211.3C208.7 210.5 210.6 211.5 212.1 211.7C213.5 211.9 215.7 211.0 216.0 212.4Z" fill="none" stroke="#f01c30" stroke-width="0.78" opacity="0.17"/>
<path d="M229.5 206.9C230.4 208.2 229.1 212.1 228.2 213.7C227.2 215.4 225.2 217.0 224.0 217.0C222.7 217.0 221.3 215.4 220.6 213.8C219.8 212.3 219.1 209.1 219.5 207.7C219.9 206.4 221.4 206.0 223.1 205.9C224.8 205.8 228.7 205.6 229.5 206.9Z" fill="none" stroke="#f01c30" stroke-width="0.89" opacity="0.27"/>
<path d="M240.2 207.4C240.7 208.0 238.9 209.6 237.7 211.0C236.5 212.5 234.8 215.2 233.0 216.0C231.3 216.8 228.1 216.7 227.4 215.9C226.7 215.0 227.5 212.3 228.7 210.9C229.9 209.5 232.6 207.9 234.6 207.3C236.5 206.7 239.7 206.8 240.2 207.4Z" fill="none" stroke="#f01c30" stroke-width="1.01" opacity="0.15"/>
<path d="M251.6 208.1C252.6 209.0 253.0 210.6 252.4 212.2C251.9 213.8 249.7 216.5 248.3 217.4C246.9 218.4 245.6 218.5 244.2 217.9C242.8 217.2 240.0 215.2 239.9 213.7C239.7 212.2 242.0 210.0 243.1 208.8C244.2 207.5 245.0 206.6 246.5 206.4C247.9 206.3 250.6 207.1 251.6 208.1Z" fill="none" stroke="#f01c30" stroke-width="1.00" opacity="0.18"/>
<path d="M265.6 212.0C266.3 212.9 264.6 215.3 263.4 216.5C262.2 217.8 259.7 219.8 258.1 219.6C256.5 219.4 253.7 216.8 253.8 215.3C253.9 213.9 256.9 211.6 258.9 211.0C260.8 210.4 264.8 211.0 265.6 212.0Z" fill="none" stroke="#f01c30" stroke-width="0.92" opacity="0.12"/>
<path d="M277.5 209.2C278.0 209.9 277.6 212.9 277.1 214.6C276.5 216.3 275.6 218.6 274.4 219.5C273.2 220.4 270.5 220.3 269.7 219.7C268.8 219.1 268.6 217.3 269.4 215.8C270.1 214.3 272.7 211.7 274.1 210.6C275.4 209.5 277.0 208.6 277.5 209.2Z" fill="none" stroke="#f01c30" stroke-width="0.86" opacity="0.13"/>
<path d="M291.2 210.2C292.6 211.1 294.1 212.2 293.5 213.6C293.0 215.0 289.8 217.9 288.0 218.6C286.2 219.2 283.8 218.3 282.6 217.5C281.4 216.6 280.4 215.2 280.8 213.7C281.2 212.2 283.1 209.0 284.9 208.5C286.6 207.9 289.8 209.4 291.2 210.2Z" fill="none" stroke="#f01c30" stroke-width="1.08" opacity="0.21"/>
<path d="M303.3 209.0C304.8 210.2 306.6 212.6 306.5 213.9C306.3 215.2 304.2 215.7 302.5 217.0C300.8 218.3 297.9 221.9 296.3 221.9C294.6 221.9 293.3 218.4 292.8 217.0C292.2 215.6 292.2 215.2 293.0 213.6C293.7 211.9 295.5 207.9 297.2 207.1C298.9 206.4 301.7 207.9 303.3 209.0Z" fill="none" stroke="#f01c30" stroke-width="1.02" opacity="0.25"/>
<circle cx="217.7" cy="145.7" r="1.6" fill="#f0283c" filter="url(#fB06)"/>
<circle cx="246.7" cy="150.2" r="1.3" fill="#f0283c" filter="url(#fB06)"/>
<circle cx="192.6" cy="193.3" r="1.1" fill="#f0283c" filter="url(#fB06)"/>
<circle cx="183.5" cy="210.7" r="0.9" fill="#f0283c" filter="url(#fB06)"/>
<polygon points="224.7,146.9 225.2,148.1 226.5,148.2 225.5,149.0 225.8,150.3 224.7,149.6 223.6,150.3 223.9,149.0 222.9,148.2 224.2,148.1" fill="#e8e0e0"/>
<polygon points="230.8,142.5 231.3,143.7 232.6,143.8 231.6,144.6 231.9,145.9 230.8,145.2 229.6,145.9 229.9,144.6 228.9,143.8 230.3,143.7" fill="#e8e0e0"/>
<polygon points="239.7,141.6 240.2,142.8 241.5,142.9 240.5,143.7 240.8,145.0 239.7,144.3 238.6,145.0 238.9,143.7 237.9,142.9 239.2,142.8" fill="#e8e0e0"/>
<polygon points="202.2,171.6 202.7,172.8 204.0,172.9 203.0,173.8 203.3,175.0 202.2,174.4 201.1,175.0 201.4,173.8 200.4,172.9 201.7,172.8" fill="#e8e0e0"/>
<polygon points="210.4,169.8 210.9,171.0 212.2,171.1 211.2,171.9 211.5,173.2 210.4,172.5 209.3,173.2 209.6,171.9 208.6,171.1 209.9,171.0" fill="#e8e0e0"/>
<polygon points="206.0,175.8 206.5,177.0 207.8,177.1 206.8,178.0 207.1,179.3 206.0,178.6 204.9,179.3 205.2,178.0 204.2,177.1 205.5,177.0" fill="#e8e0e0"/>
<polygon points="280.6,177.6 281.1,178.9 282.4,179.0 281.4,179.8 281.7,181.1 280.6,180.4 279.5,181.1 279.8,179.8 278.8,179.0 280.1,178.9" fill="#e8e0e0"/>
<polygon points="274.7,181.3 275.2,182.5 276.5,182.6 275.5,183.5 275.8,184.7 274.7,184.1 273.6,184.7 273.9,183.5 272.9,182.6 274.2,182.5" fill="#e8e0e0"/>
<polygon points="270.1,189.2 270.6,190.4 272.0,190.5 271.0,191.4 271.3,192.6 270.1,191.9 269.0,192.6 269.3,191.4 268.3,190.5 269.6,190.4" fill="#e8e0e0"/>
<polygon points="281.0,187.7 281.5,188.9 282.8,189.0 281.8,189.9 282.1,191.2 281.0,190.5 279.8,191.2 280.1,189.9 279.1,189.0 280.5,188.9" fill="#e8e0e0"/>
<polygon points="250.0,204.2 250.5,205.4 251.8,205.5 250.8,206.4 251.1,207.6 250.0,207.0 248.9,207.6 249.2,206.4 248.2,205.5 249.5,205.4" fill="#e8e0e0"/>
<polygon points="259.5,207.5 260.0,208.7 261.3,208.8 260.3,209.7 260.6,210.9 259.5,210.3 258.4,210.9 258.7,209.7 257.7,208.8 259.0,208.7" fill="#e8e0e0"/>
<polygon points="267.8,204.2 268.3,205.4 269.6,205.5 268.6,206.4 268.9,207.6 267.8,207.0 266.6,207.6 266.9,206.4 266.0,205.5 267.3,205.4" fill="#e8e0e0"/>
</g>
</g>
<g id="pB">
<text x="3" y="262.3" font-size="12.5" fill="#1a1a1a" textLength="16.5" lengthAdjust="spacingAndGlyphs">(B)</text>
<text x="27.3" y="269.8" font-size="10.4" fill="#222" textLength="26.5" lengthAdjust="spacingAndGlyphs">AAV9</text>
<text x="27.3" y="287.3" font-size="10.4" fill="#222" textLength="41" lengthAdjust="spacingAndGlyphs">Catheter</text>
<text x="27.3" y="340.6" font-size="10.4" fill="#222" textLength="23" lengthAdjust="spacingAndGlyphs">Lung</text>
<text x="126" y="334.3" font-size="10.4" fill="#222" textLength="24" lengthAdjust="spacingAndGlyphs">Cas9</text>
<text x="126" y="347" font-size="10.4" fill="#222" textLength="30.5" lengthAdjust="spacingAndGlyphs">mouse</text>
<text x="128.3" y="269.3" font-size="10.4" fill="#222" textLength="80" lengthAdjust="spacingAndGlyphs">AAV9 i.t. delivery</text>
<text x="141" y="315" font-size="10.4" fill="#222" textLength="57.5" lengthAdjust="spacingAndGlyphs">Dissect lung</text>
<text x="243.2" y="298.3" font-size="10.4" fill="#222" textLength="61" lengthAdjust="spacingAndGlyphs">μCT imaging</text>
<text x="239.2" y="328" font-size="10.4" fill="#222" textLength="65" lengthAdjust="spacingAndGlyphs">Histology/IHC</text>
<text x="210" y="344" font-size="10.4" fill="#222" textLength="83" lengthAdjust="spacingAndGlyphs">Deep sequencing</text>
<line x1="59.5" y1="266.1" x2="97" y2="266.1" stroke="#111" stroke-width="1.3"/>
<line x1="71" y1="283.6" x2="96" y2="283.6" stroke="#333" stroke-width="1.1"/>
<line x1="53" y1="337.4" x2="92.5" y2="337.4" stroke="#111" stroke-width="1.2"/>
<g transform="translate(50,250) scale(0.15805)" fill="none" stroke-linecap="round" stroke-linejoin="round">
<circle cx="315" cy="75" r="5.5" stroke="#7ab8e0" stroke-width="3"/><circle cx="315" cy="96" r="5.5" stroke="#7ab8e0" stroke-width="3"/><circle cx="315" cy="116" r="5.5" stroke="#7ab8e0" stroke-width="3"/>
<path d="M304 138h22l-6 42h-10z" stroke="#222" stroke-width="5" fill="#fff"/>
<line x1="314" y1="180" x2="314" y2="500" stroke="#444" stroke-width="4"/>
<path d="M305 340v110M323 340v110" stroke="#e8a898" stroke-width="6"/>
<path d="M300 450C270 440 245 470 240 510C236 545 250 570 275 572C290 560 300 540 300 520ZM328 450C355 440 372 470 376 505C380 540 365 565 340 568C335 545 345 535 328 520Z" stroke="#e8b098" stroke-width="4" fill="#fff8f4"/>
<path d="M240 400C240 330 265 250 313 245C360 250 385 330 385 400" stroke="#111" stroke-width="6.5"/>
<path d="M290 295q8 -14 16 -14M338 295q-8 -14 -16 -14" stroke="#222" stroke-width="4.5"/>
<path d="M243 355C215 360 190 400 192 435C195 460 225 455 243 430" stroke="#111" stroke-width="6.5"/>
<path d="M382 355C410 360 435 400 433 435C430 460 400 455 382 430" stroke="#111" stroke-width="6.5"/>
<path d="M140 428Q165 495 222 530" stroke="#111" stroke-width="36"/>
<path d="M140 428Q165 495 222 530L245 548" stroke="#fff" stroke-width="22"/>
<path d="M484 428Q460 495 404 530" stroke="#111" stroke-width="36"/>
<path d="M484 428Q460 495 404 530L380 548" stroke="#fff" stroke-width="22"/>
<path d="M232 545L208 606M395 545L404 606" stroke="#111" stroke-width="7"/>
<path d="M300 450C270 440 245 470 240 510C236 545 250 570 275 572C290 560 300 540 300 520ZM328 450C355 440 372 470 376 505C380 540 365 565 340 568C335 545 345 535 328 520Z" stroke="#e8b098" stroke-width="4" fill="#fff8f4"/>
<line x1="314" y1="330" x2="314" y2="500" stroke="#444" stroke-width="4"/>
</g>
<g fill="none" stroke="#111" stroke-width="1.2">
<path d="M169.8 272.5V299"/>
<path d="M169.8 272.5C171 284 196 294.5 234 295.3"/>
<path d="M169.8 316C172 321 200 323.5 230 323.6"/>
<path d="M169.8 316C170 328 182 339.5 201 340.5"/>
</g>
<path d="M166.7 297h6.2l-3.1 8.5z" fill="#111"/>
<path d="M232.5 292.3v6l9.5 -3z" fill="#111"/>
<path d="M229 320.6v6l9.5 -3z" fill="#111"/>
<path d="M199 337.5v6l9.5 -3z" fill="#111"/>
<text x="164.5" y="367.8" font-size="12.2" text-anchor="middle" fill="#1a1a1a" textLength="113" lengthAdjust="spacingAndGlyphs" stroke="#1a1a1a" stroke-width="0.2">AAV9-KPL lung, 9 wks</text>
<text transform="translate(27.2,465.5) rotate(-90)" font-size="11.6" fill="#1a1a1a" stroke="#1a1a1a" stroke-width="0.2" textLength="89" lengthAdjust="spacingAndGlyphs">BF + EGFP merge</text>
<g clip-path="url(#cB1)"><rect x="33" y="374" width="126" height="95" fill="#030303"/>
<defs><clipPath id="cLungL"><path d="M111.2 387.1C114.8 386.2 118.0 386.7 121.0 387.9C124.0 389.1 127.0 391.4 129.1 394.4C131.3 397.4 133.0 401.7 134.0 405.7C134.9 409.8 135.4 414.7 134.8 418.7C134.3 422.8 132.8 426.6 130.7 430.1C128.7 433.6 125.9 436.9 122.6 439.9C119.4 442.9 115.3 445.6 111.2 448.0C107.2 450.4 102.6 452.7 98.2 454.5C93.9 456.3 89.3 458.0 85.2 458.6C81.2 459.1 76.6 458.7 73.9 457.7C71.1 456.8 69.4 454.8 68.7 452.9C68.0 451.0 68.7 449.4 69.8 446.4C70.9 443.4 73.2 439.6 75.5 435.0C77.8 430.4 80.9 423.9 83.6 418.7C86.3 413.6 89.0 408.5 91.7 404.1C94.5 399.8 96.6 395.6 99.9 392.7C103.1 389.9 107.7 387.9 111.2 387.1Z"/></clipPath></defs>
<path d="M111.2 387.1C114.8 386.2 118.0 386.7 121.0 387.9C124.0 389.1 127.0 391.4 129.1 394.4C131.3 397.4 133.0 401.7 134.0 405.7C134.9 409.8 135.4 414.7 134.8 418.7C134.3 422.8 132.8 426.6 130.7 430.1C128.7 433.6 125.9 436.9 122.6 439.9C119.4 442.9 115.3 445.6 111.2 448.0C107.2 450.4 102.6 452.7 98.2 454.5C93.9 456.3 89.3 458.0 85.2 458.6C81.2 459.1 76.6 458.7 73.9 457.7C71.1 456.8 69.4 454.8 68.7 452.9C68.0 451.0 68.7 449.4 69.8 446.4C70.9 443.4 73.2 439.6 75.5 435.0C77.8 430.4 80.9 423.9 83.6 418.7C86.3 413.6 89.0 408.5 91.7 404.1C94.5 399.8 96.6 395.6 99.9 392.7C103.1 389.9 107.7 387.9 111.2 387.1Z" fill="#6e6e6e" filter="url(#fB1)"/>
<g clip-path="url(#cLungL)"><rect x="60" y="380" width="80" height="85" filter="url(#fLungTex)" opacity="0.55"/>
<path d="M111.2 387.1C114.8 386.2 118.0 386.7 121.0 387.9C124.0 389.1 127.0 391.4 129.1 394.4C131.3 397.4 133.0 401.7 134.0 405.7C134.9 409.8 135.4 414.7 134.8 418.7C134.3 422.8 132.8 426.6 130.7 430.1C128.7 433.6 125.9 436.9 122.6 439.9C119.4 442.9 115.3 445.6 111.2 448.0C107.2 450.4 102.6 452.7 98.2 454.5C93.9 456.3 89.3 458.0 85.2 458.6C81.2 459.1 76.6 458.7 73.9 457.7C71.1 456.8 69.4 454.8 68.7 452.9C68.0 451.0 68.7 449.4 69.8 446.4C70.9 443.4 73.2 439.6 75.5 435.0C77.8 430.4 80.9 423.9 83.6 418.7C86.3 413.6 89.0 408.5 91.7 404.1C94.5 399.8 96.6 395.6 99.9 392.7C103.1 389.9 107.7 387.9 111.2 387.1Z" fill="none" stroke="#c4c4c4" stroke-width="3.5" opacity="0.6" filter="url(#fB1)"/>
<ellipse cx="127.5" cy="418.7" rx="6" ry="20" fill="#c8c8c8" opacity="0.5" filter="url(#fB2)"/>
<ellipse cx="85.2" cy="441.5" rx="12" ry="10" fill="#333" opacity="0.5" filter="url(#fB2)"/>
<path d="M99.9 397.6C95.0 407.4 90.1 417.1 92.6 422.0C95.0 426.9 90.1 433.4 87.7 441.5" stroke="#0c0c0c" stroke-width="1.3" fill="none" filter="url(#fB06)"/>
<path d="M93.4 426.9C98.2 423.6 101.5 422.0 105.6 419.6" stroke="#0c0c0c" stroke-width="1.1" fill="none" filter="url(#fB06)"/>
<path d="M98.2 402.5C103.1 407.4 108.0 408.2 114.5 410.6" stroke="#1a1a1a" stroke-width="1" fill="none" opacity="0.7" filter="url(#fB06)"/>
<ellipse cx="114.5" cy="412.2" rx="16" ry="20" fill="#38c040" opacity="0.32" filter="url(#fB2)" transform="rotate(-20 114.5 412.2)"/>
<ellipse cx="85.2" cy="427.7" rx="7" ry="7" fill="#38c040" opacity="0.35" filter="url(#fB2)"/>
</g>
<circle cx="107.2" cy="401.7" r="4.9" fill="url(#gGreen)" opacity="0.95"/>
<circle cx="118.6" cy="404.9" r="7.3" fill="url(#gGreen)" opacity="1"/>
<circle cx="121.0" cy="416.3" r="6.2" fill="url(#gGreen)" opacity="0.9"/>
<circle cx="109.1" cy="425.2" r="7.8" fill="url(#gGreen)" opacity="1"/>
<circle cx="83.6" cy="427.7" r="4.5" fill="url(#gGreen)" opacity="0.8"/>
<circle cx="77.6" cy="449.6" r="2.9" fill="url(#gGreen)" opacity="0.95"/>
<circle cx="99.9" cy="418.7" r="4.9" fill="url(#gGreen)" opacity="0.4"/>
<line x1="115.3" y1="448.8" x2="127.5" y2="467.5" stroke="#555" stroke-width="0.5"/>
<ellipse cx="141.3" cy="395.2" rx="1.5" ry="7" fill="#2a2a2a" filter="url(#fB1)"/>
<circle cx="136.9" cy="423.1" r="0.9" fill="#888"/>
</g>
<g clip-path="url(#cB2)"><rect x="161" y="374" width="126" height="95" fill="#050505"/>
<defs><clipPath id="cLungR"><path d="M159.7 433.5C161.9 426.2 169.0 428.6 172.9 425.3C176.7 422.0 179.0 417.3 182.8 413.7C186.5 410.2 192.0 407.7 195.1 403.8C198.3 400.0 199.8 395.2 201.7 390.6C203.7 386.1 202.4 379.4 206.7 376.6C210.9 373.9 219.3 374.4 227.3 374.1C235.3 373.9 248.5 372.9 254.5 375.0C260.6 377.0 260.7 381.3 263.6 386.5C266.5 391.7 270.1 400.0 271.9 406.3C273.6 412.6 274.3 418.1 274.3 424.5C274.4 430.8 273.3 438.5 272.2 444.3C271.1 450.0 269.2 455.0 267.7 459.1C266.3 463.2 281.6 467.4 263.6 469.0C245.6 470.7 177.0 474.9 159.7 469.0C142.3 463.1 157.4 440.8 159.7 433.5Z"/></clipPath></defs>
<path d="M159.7 433.5C161.9 426.2 169.0 428.6 172.9 425.3C176.7 422.0 179.0 417.3 182.8 413.7C186.5 410.2 192.0 407.7 195.1 403.8C198.3 400.0 199.8 395.2 201.7 390.6C203.7 386.1 202.4 379.4 206.7 376.6C210.9 373.9 219.3 374.4 227.3 374.1C235.3 373.9 248.5 372.9 254.5 375.0C260.6 377.0 260.7 381.3 263.6 386.5C266.5 391.7 270.1 400.0 271.9 406.3C273.6 412.6 274.3 418.1 274.3 424.5C274.4 430.8 273.3 438.5 272.2 444.3C271.1 450.0 269.2 455.0 267.7 459.1C266.3 463.2 281.6 467.4 263.6 469.0C245.6 470.7 177.0 474.9 159.7 469.0C142.3 463.1 157.4 440.8 159.7 433.5Z" fill="url(#gLungR)" filter="url(#fB1)"/>
<g clip-path="url(#cLungR)"><rect x="161" y="374" width="126" height="95" filter="url(#fLungTex2)" opacity="0.3"/>
<path d="M257.0 379.9C271.9 403.0 273.5 436.0 263.6 467.4" fill="none" stroke="#b0b0b0" stroke-width="9" opacity="0.5" filter="url(#fB2)"/>
<ellipse cx="230.6" cy="379.9" rx="22" ry="5" fill="#8a8a8a" opacity="0.5" filter="url(#fB2)"/>
<ellipse cx="186.1" cy="411.3" rx="18" ry="9" fill="#080808" opacity="0.75" filter="url(#fB2)" transform="rotate(-25 186.1 411.3)"/>
<ellipse cx="169.6" cy="449.2" rx="10" ry="16" fill="#080808" opacity="0.7" filter="url(#fB2)"/>
<ellipse cx="194.3" cy="444.3" rx="10" ry="7" fill="#080808" opacity="0.6" filter="url(#fB2)"/>
<path d="M174.5 424.5C191.0 417.9 207.5 419.5 224.0 431.1" stroke="#8a8a8a" stroke-width="4" fill="none" opacity="0.35" filter="url(#fB2)"/>
<path d="M227.3 419.5C240.5 424.5 250.4 419.5 257.0 411.3" stroke="#222" stroke-width="2" fill="none" opacity="0.4" filter="url(#fB2)"/>
<path d="M250.4 452.5C257.0 454.2 263.6 452.5 270.2 447.6" stroke="#1a1a1a" stroke-width="2" fill="none" opacity="0.5" filter="url(#fB1)"/>
<ellipse cx="237.2" cy="403.0" rx="17" ry="19" fill="#38b840" opacity="0.28" filter="url(#fB2)" transform="rotate(30 237.2 403.0)"/>
<ellipse cx="240.5" cy="434.4" rx="12" ry="13" fill="#38b840" opacity="0.3" filter="url(#fB2)"/>
<ellipse cx="212.5" cy="451.7" rx="14" ry="15" fill="#38b840" opacity="0.3" filter="url(#fB2)"/>
</g>
<circle cx="210.0" cy="387.3" r="4.3" fill="url(#gGreen)" opacity="0.8"/>
<circle cx="209.5" cy="400.9" r="8.6" fill="url(#gGreen)" opacity="1"/>
<circle cx="232.6" cy="410.4" r="11.2" fill="url(#gGreen)" opacity="1"/>
<circle cx="246.3" cy="393.1" r="8.3" fill="url(#gGreen)" opacity="0.75"/>
<circle cx="235.6" cy="436.3" r="7.6" fill="url(#gGreen)" opacity="0.8"/>
<circle cx="245.5" cy="429.7" r="6.6" fill="url(#gGreen)" opacity="0.7"/>
<circle cx="212.5" cy="451.2" r="13.9" fill="url(#gGreen)" opacity="1"/>
<circle cx="280.1" cy="447.9" r="1.3" fill="#333"/>
<path d="M167.9 423.6q6 -3 11 -1" stroke="#777" stroke-width="0.8" fill="none"/>
</g>
</g>
<g id="pC">
<text x="3" y="498.6" font-size="12.5" fill="#1a1a1a" textLength="16.5" lengthAdjust="spacingAndGlyphs">(C)</text>
<rect x="80.5" y="493.3" width="66" height="64.7" fill="#fff" stroke="#dba0ae" stroke-width="1"/>
<rect x="80.5" y="564.5" width="66" height="64.3" fill="#fff" stroke="#dba0ae" stroke-width="1"/>
<path d="M82.5 507.1L80.5 493.3M77.5 532.6L80.5 558" stroke="#b9a0a0" stroke-width="0.5" fill="none"/>
<polygon points="59.8,493.3 82.5,507.1 77.5,532.6 53.5,541.4 33.6,527.6 35.2,502.7" fill="#ee7b82" stroke="#111" stroke-width="0.9" stroke-linejoin="round"/>
<path d="M40.5 518.2c-2 -7 3 -8 3.5 -2c0.5 5 -5 5 -2.5 1.5h9v-2h8v2.5h9c1 -8 6.5 -8 7.5 -1c0 4 -3 5 -4 2" fill="none" stroke="#d04c68" stroke-width="0.9" opacity="0.9"/>
<line x1="45.5" y1="517.1" x2="61.5" y2="516.4" stroke="#2a1014" stroke-width="1.3"/>
<line x1="59.8" y1="493.3" x2="54.9" y2="501.6" stroke="#111" stroke-width="0.75"/>
<line x1="35.2" y1="502.7" x2="54.9" y2="501.6" stroke="#111" stroke-width="0.75"/>
<line x1="35.2" y1="502.7" x2="39.4" y2="524.3" stroke="#111" stroke-width="0.75"/>
<line x1="33.6" y1="527.6" x2="39.4" y2="524.3" stroke="#111" stroke-width="0.75"/>
<line x1="53.5" y1="541.4" x2="39.4" y2="524.3" stroke="#111" stroke-width="0.75"/>
<line x1="53.5" y1="541.4" x2="66.8" y2="526.8" stroke="#111" stroke-width="0.75"/>
<line x1="77.5" y1="532.6" x2="66.8" y2="526.8" stroke="#111" stroke-width="0.75"/>
<line x1="82.5" y1="507.1" x2="66.8" y2="526.8" stroke="#111" stroke-width="0.75"/>
<line x1="54.9" y1="501.6" x2="39.4" y2="524.3" stroke="#111" stroke-width="0.75"/>
<line x1="39.4" y1="524.3" x2="66.8" y2="526.8" stroke="#111" stroke-width="0.75"/>
<line x1="54.9" y1="501.6" x2="66.8" y2="526.8" stroke="#111" stroke-width="0.75"/>
<line x1="59.8" y1="493.3" x2="82.5" y2="507.1" stroke="#111" stroke-width="0.75"/>
<polygon points="62.0,515.4 72.6,501.8 82.5,507.1 77.5,532.6 67.0,527.9" fill="#fbd8d8" opacity="0.72"/>
<path d="M82.5 578.4L80.5 564.5M77.5 603.9L80.5 628.8" stroke="#b9a0a0" stroke-width="0.5" fill="none"/>
<polygon points="59.8,564.6 82.5,578.4 77.5,603.9 53.5,612.7 33.6,598.9 35.2,574.0" fill="#90b8e0" stroke="#111" stroke-width="0.9" stroke-linejoin="round"/>
<path d="M40.5 589.5c-2 -7 3 -8 3.5 -2c0.5 5 -5 5 -2.5 1.5h9v-2h8v2.5h9c1 -8 6.5 -8 7.5 -1c0 4 -3 5 -4 2" fill="none" stroke="#d04c68" stroke-width="0.9" opacity="0.9"/>
<line x1="45.5" y1="588.4" x2="61.5" y2="587.7" stroke="#2a1014" stroke-width="1.3"/>
<line x1="59.8" y1="564.6" x2="54.9" y2="572.9" stroke="#111" stroke-width="0.75"/>
<line x1="35.2" y1="574.0" x2="54.9" y2="572.9" stroke="#111" stroke-width="0.75"/>
<line x1="35.2" y1="574.0" x2="39.4" y2="595.6" stroke="#111" stroke-width="0.75"/>
<line x1="33.6" y1="598.9" x2="39.4" y2="595.6" stroke="#111" stroke-width="0.75"/>
<line x1="53.5" y1="612.7" x2="39.4" y2="595.6" stroke="#111" stroke-width="0.75"/>
<line x1="53.5" y1="612.7" x2="66.8" y2="598.1" stroke="#111" stroke-width="0.75"/>
<line x1="77.5" y1="603.9" x2="66.8" y2="598.1" stroke="#111" stroke-width="0.75"/>
<line x1="82.5" y1="578.4" x2="66.8" y2="598.1" stroke="#111" stroke-width="0.75"/>
<line x1="54.9" y1="572.9" x2="39.4" y2="595.6" stroke="#111" stroke-width="0.75"/>
<line x1="39.4" y1="595.6" x2="66.8" y2="598.1" stroke="#111" stroke-width="0.75"/>
<line x1="54.9" y1="572.9" x2="66.8" y2="598.1" stroke="#111" stroke-width="0.75"/>
<line x1="59.8" y1="564.6" x2="82.5" y2="578.4" stroke="#111" stroke-width="0.75"/>
<polygon points="62.0,586.7 72.6,573.1 82.5,578.4 77.5,603.9 67.0,599.2" fill="#dce8f6" opacity="0.72"/>
<g>
<circle cx="95.1" cy="531.8" r="7.0" fill="#b01824"/>
<circle cx="102.2" cy="525.9" r="6.5" fill="#b01824"/>
<circle cx="106.8" cy="520.1" r="5.1" fill="#b01824"/>
<circle cx="99.8" cy="538.8" r="5.1" fill="#b01824"/>
<circle cx="109.2" cy="528.3" r="5.6" fill="#b01824"/>
<circle cx="117.4" cy="516.6" r="4.7" fill="#b01824"/>
<circle cx="122.0" cy="511.9" r="3.7" fill="#b01824"/>
<circle cx="113.8" cy="522.4" r="4.2" fill="#b01824"/>
<circle cx="116.7" cy="534.6" r="3.3" fill="#b01824"/>
<circle cx="122.0" cy="536.0" r="3.3" fill="#b01824"/>
<circle cx="127.4" cy="537.6" r="3.0" fill="#b01824"/>
<circle cx="125.1" cy="543.0" r="2.8" fill="#b01824"/>
<circle cx="121.3" cy="547.0" r="2.3" fill="#b01824"/>
<circle cx="105.7" cy="515.4" r="2.8" fill="#b01824"/>
<circle cx="91.6" cy="528.3" r="3.7" fill="#b01824"/>
<circle cx="95.1" cy="539.9" r="3.7" fill="#b01824"/>
<circle cx="112.7" cy="532.9" r="3.3" fill="#b01824"/>
<circle cx="104.5" cy="532.9" r="5.6" fill="#b01824"/>
<circle cx="97.8" cy="536.3" r="0.7" fill="#d02a36" opacity="0.55"/>
<circle cx="96.3" cy="537.3" r="0.8" fill="#d02a36" opacity="0.55"/>
<circle cx="92.1" cy="531.7" r="0.7" fill="#7a0c16" opacity="0.55"/>
<circle cx="93.7" cy="530.9" r="0.6" fill="#d02a36" opacity="0.55"/>
<circle cx="95.3" cy="533.1" r="0.9" fill="#d02a36" opacity="0.55"/>
<circle cx="98.6" cy="528.3" r="0.7" fill="#7a0c16" opacity="0.55"/>
<circle cx="93.0" cy="531.8" r="0.7" fill="#d02a36" opacity="0.55"/>
<circle cx="98.4" cy="536.5" r="1.0" fill="#7a0c16" opacity="0.55"/>
<circle cx="90.7" cy="533.1" r="0.7" fill="#7a0c16" opacity="0.55"/>
<circle cx="95.6" cy="532.9" r="0.6" fill="#d02a36" opacity="0.55"/>
<circle cx="95.7" cy="528.9" r="0.9" fill="#d02a36" opacity="0.55"/>
<circle cx="95.3" cy="526.3" r="0.9" fill="#7a0c16" opacity="0.55"/>
<circle cx="98.3" cy="534.8" r="0.6" fill="#d02a36" opacity="0.55"/>
<circle cx="100.4" cy="529.0" r="0.7" fill="#7a0c16" opacity="0.55"/>
<circle cx="91.4" cy="532.9" r="0.7" fill="#d02a36" opacity="0.55"/>
<circle cx="97.0" cy="532.1" r="1.0" fill="#d02a36" opacity="0.55"/>
<circle cx="90.7" cy="531.9" r="0.9" fill="#7a0c16" opacity="0.55"/>
<circle cx="96.0" cy="536.6" r="0.8" fill="#7a0c16" opacity="0.55"/>
<circle cx="96.2" cy="534.1" r="1.0" fill="#7a0c16" opacity="0.55"/>
<circle cx="92.4" cy="535.8" r="0.6" fill="#7a0c16" opacity="0.55"/>
<circle cx="100.4" cy="534.0" r="0.7" fill="#d02a36" opacity="0.55"/>
<circle cx="93.0" cy="527.0" r="1.0" fill="#d02a36" opacity="0.55"/>
<circle cx="89.9" cy="535.2" r="0.8" fill="#d02a36" opacity="0.55"/>
<circle cx="98.4" cy="528.8" r="0.6" fill="#7a0c16" opacity="0.55"/>
<circle cx="97.0" cy="530.0" r="0.9" fill="#7a0c16" opacity="0.55"/>
<circle cx="95.8" cy="527.4" r="0.5" fill="#d02a36" opacity="0.55"/>
<circle cx="95.0" cy="535.2" r="0.6" fill="#7a0c16" opacity="0.55"/>
<circle cx="98.5" cy="533.3" r="1.0" fill="#d02a36" opacity="0.55"/>
<circle cx="95.0" cy="527.4" r="1.0" fill="#7a0c16" opacity="0.55"/>
<circle cx="97.2" cy="525.1" r="0.6" fill="#7a0c16" opacity="0.55"/>
<circle cx="104.9" cy="521.4" r="0.8" fill="#d02a36" opacity="0.55"/>
<circle cx="98.1" cy="527.9" r="0.7" fill="#d02a36" opacity="0.55"/>
<circle cx="99.1" cy="525.3" r="0.5" fill="#d02a36" opacity="0.55"/>
<circle cx="99.9" cy="520.6" r="0.8" fill="#7a0c16" opacity="0.55"/>
<circle cx="98.8" cy="521.6" r="0.6" fill="#7a0c16" opacity="0.55"/>
<circle cx="97.4" cy="529.1" r="0.6" fill="#d02a36" opacity="0.55"/>
<circle cx="103.7" cy="526.9" r="0.7" fill="#7a0c16" opacity="0.55"/>
<circle cx="105.6" cy="530.2" r="0.6" fill="#d02a36" opacity="0.55"/>
<circle cx="98.9" cy="525.1" r="0.6" fill="#7a0c16" opacity="0.55"/>
<circle cx="103.4" cy="528.1" r="0.9" fill="#7a0c16" opacity="0.55"/>
<circle cx="101.0" cy="525.5" r="0.9" fill="#d02a36" opacity="0.55"/>
<circle cx="103.0" cy="520.7" r="0.7" fill="#7a0c16" opacity="0.55"/>
<circle cx="106.9" cy="527.9" r="0.9" fill="#7a0c16" opacity="0.55"/>
<circle cx="102.1" cy="530.8" r="0.5" fill="#7a0c16" opacity="0.55"/>
<circle cx="99.6" cy="528.0" r="0.6" fill="#d02a36" opacity="0.55"/>
<circle cx="97.8" cy="525.8" r="0.5" fill="#d02a36" opacity="0.55"/>
<circle cx="98.8" cy="523.4" r="1.0" fill="#d02a36" opacity="0.55"/>
<circle cx="100.3" cy="530.5" r="0.8" fill="#7a0c16" opacity="0.55"/>
<circle cx="107.1" cy="528.0" r="0.7" fill="#d02a36" opacity="0.55"/>
<circle cx="99.7" cy="531.3" r="0.5" fill="#7a0c16" opacity="0.55"/>
<circle cx="106.9" cy="528.3" r="0.7" fill="#d02a36" opacity="0.55"/>
<circle cx="101.6" cy="525.3" r="0.7" fill="#d02a36" opacity="0.55"/>
<circle cx="98.5" cy="525.5" r="0.6" fill="#7a0c16" opacity="0.55"/>
<circle cx="105.9" cy="527.1" r="0.9" fill="#7a0c16" opacity="0.55"/>
<circle cx="108.4" cy="516.5" r="0.6" fill="#7a0c16" opacity="0.55"/>
<circle cx="104.4" cy="522.2" r="1.0" fill="#d02a36" opacity="0.55"/>
<circle cx="109.6" cy="521.7" r="0.9" fill="#7a0c16" opacity="0.55"/>
<circle cx="110.0" cy="517.5" r="0.9" fill="#d02a36" opacity="0.55"/>
<circle cx="104.7" cy="516.3" r="0.8" fill="#d02a36" opacity="0.55"/>
<circle cx="107.0" cy="524.5" r="0.8" fill="#7a0c16" opacity="0.55"/>
<circle cx="108.9" cy="516.0" r="0.5" fill="#d02a36" opacity="0.55"/>
<circle cx="105.8" cy="522.5" r="0.6" fill="#7a0c16" opacity="0.55"/>
<circle cx="105.6" cy="519.6" r="1.0" fill="#7a0c16" opacity="0.55"/>
<circle cx="106.7" cy="516.9" r="1.0" fill="#7a0c16" opacity="0.55"/>
<circle cx="106.2" cy="518.1" r="0.8" fill="#7a0c16" opacity="0.55"/>
<circle cx="105.8" cy="517.9" r="0.7" fill="#d02a36" opacity="0.55"/>
<circle cx="106.7" cy="524.3" r="0.8" fill="#7a0c16" opacity="0.55"/>
<circle cx="107.9" cy="523.5" r="0.7" fill="#7a0c16" opacity="0.55"/>
<circle cx="109.8" cy="518.9" r="0.8" fill="#7a0c16" opacity="0.55"/>
<circle cx="99.4" cy="540.7" r="0.6" fill="#7a0c16" opacity="0.55"/>
<circle cx="101.5" cy="543.0" r="0.9" fill="#7a0c16" opacity="0.55"/>
<circle cx="103.4" cy="537.2" r="0.8" fill="#7a0c16" opacity="0.55"/>
<circle cx="103.3" cy="539.7" r="0.6" fill="#d02a36" opacity="0.55"/>
<circle cx="103.2" cy="538.9" r="0.7" fill="#7a0c16" opacity="0.55"/>
<circle cx="95.6" cy="540.0" r="0.6" fill="#7a0c16" opacity="0.55"/>
<circle cx="100.9" cy="534.7" r="0.5" fill="#7a0c16" opacity="0.55"/>
<circle cx="100.9" cy="541.5" r="0.6" fill="#7a0c16" opacity="0.55"/>
<circle cx="101.2" cy="534.8" r="0.9" fill="#d02a36" opacity="0.55"/>
<circle cx="103.3" cy="539.2" r="0.9" fill="#7a0c16" opacity="0.55"/>
<circle cx="99.7" cy="534.7" r="0.5" fill="#7a0c16" opacity="0.55"/>
<circle cx="101.3" cy="535.5" r="0.7" fill="#d02a36" opacity="0.55"/>
<circle cx="100.7" cy="536.2" r="0.7" fill="#7a0c16" opacity="0.55"/>
<circle cx="98.7" cy="542.3" r="0.5" fill="#d02a36" opacity="0.55"/>
<circle cx="102.8" cy="540.1" r="0.6" fill="#d02a36" opacity="0.55"/>
<circle cx="109.0" cy="529.5" r="0.7" fill="#7a0c16" opacity="0.55"/>
<circle cx="107.5" cy="524.6" r="0.6" fill="#7a0c16" opacity="0.55"/>
<circle cx="112.5" cy="526.7" r="0.8" fill="#7a0c16" opacity="0.55"/>
<circle cx="108.7" cy="524.6" r="0.9" fill="#7a0c16" opacity="0.55"/>
<circle cx="109.4" cy="529.2" r="0.8" fill="#7a0c16" opacity="0.55"/>
<circle cx="107.7" cy="526.7" r="0.7" fill="#d02a36" opacity="0.55"/>
<circle cx="111.6" cy="532.2" r="1.0" fill="#d02a36" opacity="0.55"/>
<circle cx="108.2" cy="526.1" r="1.0" fill="#d02a36" opacity="0.55"/>
<circle cx="104.5" cy="527.3" r="0.7" fill="#d02a36" opacity="0.55"/>
<circle cx="113.7" cy="526.5" r="0.5" fill="#d02a36" opacity="0.55"/>
<circle cx="106.8" cy="531.4" r="0.9" fill="#d02a36" opacity="0.55"/>
<circle cx="107.9" cy="526.6" r="0.8" fill="#d02a36" opacity="0.55"/>
<circle cx="110.9" cy="526.7" r="0.8" fill="#d02a36" opacity="0.55"/>
<circle cx="109.9" cy="524.0" r="0.7" fill="#d02a36" opacity="0.55"/>
<circle cx="112.0" cy="529.9" r="0.8" fill="#7a0c16" opacity="0.55"/>
<circle cx="110.4" cy="525.5" r="0.5" fill="#7a0c16" opacity="0.55"/>
<circle cx="105.8" cy="530.0" r="0.8" fill="#7a0c16" opacity="0.55"/>
<circle cx="109.6" cy="529.9" r="0.8" fill="#d02a36" opacity="0.55"/>
<circle cx="119.7" cy="514.7" r="0.6" fill="#7a0c16" opacity="0.55"/>
<circle cx="114.4" cy="518.1" r="0.9" fill="#d02a36" opacity="0.55"/>
<circle cx="116.1" cy="514.8" r="0.7" fill="#7a0c16" opacity="0.55"/>
<circle cx="115.2" cy="516.7" r="0.7" fill="#7a0c16" opacity="0.55"/>
<circle cx="121.1" cy="517.4" r="0.9" fill="#7a0c16" opacity="0.55"/>
<circle cx="117.1" cy="513.0" r="0.7" fill="#d02a36" opacity="0.55"/>
<circle cx="117.2" cy="516.7" r="0.8" fill="#d02a36" opacity="0.55"/>
<circle cx="113.6" cy="514.6" r="0.6" fill="#7a0c16" opacity="0.55"/>
<circle cx="117.0" cy="512.8" r="0.5" fill="#7a0c16" opacity="0.55"/>
<circle cx="114.7" cy="519.3" r="0.7" fill="#7a0c16" opacity="0.55"/>
<circle cx="114.8" cy="518.7" r="0.8" fill="#7a0c16" opacity="0.55"/>
<circle cx="119.8" cy="513.8" r="0.6" fill="#7a0c16" opacity="0.55"/>
<circle cx="118.1" cy="512.9" r="0.6" fill="#d02a36" opacity="0.55"/>
<circle cx="123.9" cy="509.3" r="0.7" fill="#7a0c16" opacity="0.55"/>
<circle cx="121.2" cy="510.9" r="0.6" fill="#d02a36" opacity="0.55"/>
<circle cx="121.3" cy="510.2" r="0.6" fill="#7a0c16" opacity="0.55"/>
<circle cx="119.2" cy="511.9" r="0.8" fill="#7a0c16" opacity="0.55"/>
<circle cx="120.6" cy="514.2" r="0.6" fill="#7a0c16" opacity="0.55"/>
<circle cx="122.5" cy="512.5" r="0.7" fill="#d02a36" opacity="0.55"/>
<circle cx="124.3" cy="514.1" r="0.5" fill="#d02a36" opacity="0.55"/>
<circle cx="121.6" cy="509.3" r="0.8" fill="#7a0c16" opacity="0.55"/>
<circle cx="116.1" cy="521.9" r="0.8" fill="#d02a36" opacity="0.55"/>
<circle cx="112.4" cy="524.1" r="0.8" fill="#d02a36" opacity="0.55"/>
<circle cx="111.2" cy="523.1" r="0.9" fill="#7a0c16" opacity="0.55"/>
<circle cx="116.9" cy="522.8" r="0.6" fill="#7a0c16" opacity="0.55"/>
<circle cx="111.4" cy="520.9" r="0.7" fill="#7a0c16" opacity="0.55"/>
<circle cx="115.6" cy="525.3" r="0.7" fill="#7a0c16" opacity="0.55"/>
<circle cx="114.0" cy="523.2" r="0.6" fill="#7a0c16" opacity="0.55"/>
<circle cx="111.4" cy="520.0" r="0.6" fill="#7a0c16" opacity="0.55"/>
<circle cx="112.6" cy="522.1" r="0.9" fill="#7a0c16" opacity="0.55"/>
<circle cx="114.8" cy="525.4" r="0.5" fill="#7a0c16" opacity="0.55"/>
<circle cx="116.8" cy="536.8" r="0.6" fill="#7a0c16" opacity="0.55"/>
<circle cx="114.3" cy="533.3" r="0.8" fill="#7a0c16" opacity="0.55"/>
<circle cx="118.3" cy="534.7" r="1.0" fill="#7a0c16" opacity="0.55"/>
<circle cx="115.0" cy="536.6" r="0.7" fill="#7a0c16" opacity="0.55"/>
<circle cx="118.7" cy="532.9" r="0.6" fill="#7a0c16" opacity="0.55"/>
<circle cx="117.4" cy="534.2" r="0.9" fill="#d02a36" opacity="0.55"/>
<circle cx="121.6" cy="533.9" r="0.7" fill="#7a0c16" opacity="0.55"/>
<circle cx="120.8" cy="533.9" r="0.9" fill="#7a0c16" opacity="0.55"/>
<circle cx="123.5" cy="536.5" r="0.7" fill="#7a0c16" opacity="0.55"/>
<circle cx="122.7" cy="533.5" r="0.7" fill="#7a0c16" opacity="0.55"/>
<circle cx="123.9" cy="537.5" r="0.6" fill="#7a0c16" opacity="0.55"/>
<circle cx="120.1" cy="537.9" r="0.8" fill="#7a0c16" opacity="0.55"/>
<circle cx="126.1" cy="536.3" r="0.7" fill="#7a0c16" opacity="0.55"/>
<circle cx="128.0" cy="539.4" r="0.7" fill="#7a0c16" opacity="0.55"/>
<circle cx="128.4" cy="540.0" r="0.6" fill="#7a0c16" opacity="0.55"/>
<circle cx="128.6" cy="537.9" r="0.7" fill="#d02a36" opacity="0.55"/>
<circle cx="126.8" cy="536.5" r="0.7" fill="#d02a36" opacity="0.55"/>
<circle cx="124.9" cy="541.2" r="0.6" fill="#7a0c16" opacity="0.55"/>
<circle cx="123.2" cy="541.7" r="0.7" fill="#d02a36" opacity="0.55"/>
<circle cx="123.9" cy="545.1" r="0.6" fill="#d02a36" opacity="0.55"/>
<circle cx="124.1" cy="541.0" r="1.0" fill="#d02a36" opacity="0.55"/>
<circle cx="122.1" cy="546.2" r="0.7" fill="#d02a36" opacity="0.55"/>
<circle cx="119.8" cy="548.4" r="0.7" fill="#7a0c16" opacity="0.55"/>
<circle cx="120.6" cy="546.2" r="0.9" fill="#7a0c16" opacity="0.55"/>
<circle cx="104.0" cy="514.0" r="0.9" fill="#d02a36" opacity="0.55"/>
<circle cx="107.5" cy="514.0" r="0.7" fill="#d02a36" opacity="0.55"/>
<circle cx="105.1" cy="513.7" r="0.8" fill="#d02a36" opacity="0.55"/>
<circle cx="103.8" cy="516.3" r="0.6" fill="#7a0c16" opacity="0.55"/>
<circle cx="90.7" cy="529.1" r="0.5" fill="#7a0c16" opacity="0.55"/>
<circle cx="88.8" cy="529.1" r="0.8" fill="#7a0c16" opacity="0.55"/>
<circle cx="93.5" cy="529.8" r="0.7" fill="#7a0c16" opacity="0.55"/>
<circle cx="91.1" cy="526.2" r="0.9" fill="#7a0c16" opacity="0.55"/>
<circle cx="93.1" cy="529.6" r="0.9" fill="#d02a36" opacity="0.55"/>
<circle cx="93.3" cy="528.0" r="0.7" fill="#d02a36" opacity="0.55"/>
<circle cx="90.7" cy="525.3" r="0.7" fill="#7a0c16" opacity="0.55"/>
<circle cx="93.5" cy="527.5" r="0.9" fill="#d02a36" opacity="0.55"/>
<circle cx="94.6" cy="542.9" r="0.7" fill="#7a0c16" opacity="0.55"/>
<circle cx="96.1" cy="541.7" r="0.5" fill="#7a0c16" opacity="0.55"/>
<circle cx="95.6" cy="538.6" r="0.8" fill="#7a0c16" opacity="0.55"/>
<circle cx="97.0" cy="537.4" r="0.6" fill="#d02a36" opacity="0.55"/>
<circle cx="95.2" cy="538.9" r="0.7" fill="#d02a36" opacity="0.55"/>
<circle cx="95.1" cy="541.5" r="0.9" fill="#7a0c16" opacity="0.55"/>
<circle cx="96.9" cy="537.6" r="0.6" fill="#d02a36" opacity="0.55"/>
<circle cx="94.3" cy="541.6" r="0.9" fill="#7a0c16" opacity="0.55"/>
<circle cx="113.5" cy="532.9" r="1.0" fill="#d02a36" opacity="0.55"/>
<circle cx="110.3" cy="533.5" r="0.6" fill="#d02a36" opacity="0.55"/>
<circle cx="110.5" cy="531.0" r="1.0" fill="#d02a36" opacity="0.55"/>
<circle cx="114.8" cy="534.2" r="1.0" fill="#7a0c16" opacity="0.55"/>
<circle cx="113.8" cy="534.8" r="0.9" fill="#7a0c16" opacity="0.55"/>
<circle cx="112.6" cy="532.4" r="0.6" fill="#7a0c16" opacity="0.55"/>
<circle cx="101.9" cy="529.9" r="1.0" fill="#7a0c16" opacity="0.55"/>
<circle cx="107.8" cy="532.2" r="0.7" fill="#7a0c16" opacity="0.55"/>
<circle cx="102.0" cy="531.0" r="0.9" fill="#7a0c16" opacity="0.55"/>
<circle cx="105.6" cy="535.5" r="0.6" fill="#d02a36" opacity="0.55"/>
<circle cx="108.9" cy="535.0" r="0.7" fill="#7a0c16" opacity="0.55"/>
<circle cx="103.5" cy="535.3" r="0.8" fill="#7a0c16" opacity="0.55"/>
<circle cx="107.2" cy="535.4" r="0.5" fill="#7a0c16" opacity="0.55"/>
<circle cx="105.2" cy="535.3" r="0.6" fill="#7a0c16" opacity="0.55"/>
<circle cx="106.6" cy="529.4" r="0.9" fill="#7a0c16" opacity="0.55"/>
<circle cx="103.4" cy="530.3" r="0.9" fill="#d02a36" opacity="0.55"/>
<circle cx="100.2" cy="532.0" r="1.0" fill="#d02a36" opacity="0.55"/>
<circle cx="104.1" cy="537.1" r="0.8" fill="#d02a36" opacity="0.55"/>
<circle cx="105.8" cy="532.1" r="0.6" fill="#d02a36" opacity="0.55"/>
<circle cx="104.5" cy="529.6" r="0.6" fill="#7a0c16" opacity="0.55"/>
<circle cx="104.3" cy="537.6" r="0.8" fill="#d02a36" opacity="0.55"/>
<circle cx="106.5" cy="534.7" r="0.6" fill="#d02a36" opacity="0.55"/>
<circle cx="100.4" cy="531.9" r="0.8" fill="#7a0c16" opacity="0.55"/>
<circle cx="108.9" cy="532.1" r="0.7" fill="#7a0c16" opacity="0.55"/>
<circle cx="117.8" cy="503.7" r="7.0" fill="#ee8420"/>
<circle cx="120.9" cy="501.8" r="5.6" fill="#ee8420"/>
<circle cx="113.8" cy="505.6" r="5.1" fill="#ee8420"/>
<circle cx="122.7" cy="506.5" r="3.7" fill="#ee8420"/>
<circle cx="113.3" cy="506.2" r="0.6" fill="#f8a040" opacity="0.55"/>
<circle cx="116.4" cy="499.8" r="0.6" fill="#c86410" opacity="0.55"/>
<circle cx="115.8" cy="505.7" r="1.0" fill="#f8a040" opacity="0.55"/>
<circle cx="122.4" cy="501.6" r="0.7" fill="#f8a040" opacity="0.55"/>
<circle cx="112.7" cy="500.6" r="0.7" fill="#c86410" opacity="0.55"/>
<circle cx="115.2" cy="506.3" r="0.5" fill="#c86410" opacity="0.55"/>
<circle cx="115.2" cy="498.1" r="0.6" fill="#c86410" opacity="0.55"/>
<circle cx="115.0" cy="508.6" r="0.9" fill="#c86410" opacity="0.55"/>
<circle cx="120.1" cy="508.0" r="0.8" fill="#f8a040" opacity="0.55"/>
<circle cx="123.1" cy="506.8" r="0.7" fill="#f8a040" opacity="0.55"/>
<circle cx="120.9" cy="499.9" r="0.7" fill="#c86410" opacity="0.55"/>
<circle cx="119.7" cy="499.8" r="0.6" fill="#c86410" opacity="0.55"/>
<circle cx="119.7" cy="508.2" r="0.7" fill="#f8a040" opacity="0.55"/>
<circle cx="112.7" cy="507.2" r="0.8" fill="#c86410" opacity="0.55"/>
<circle cx="119.1" cy="508.0" r="0.6" fill="#c86410" opacity="0.55"/>
<circle cx="116.7" cy="505.5" r="0.8" fill="#c86410" opacity="0.55"/>
<circle cx="112.5" cy="502.0" r="0.5" fill="#c86410" opacity="0.55"/>
<circle cx="117.3" cy="499.7" r="1.0" fill="#f8a040" opacity="0.55"/>
<circle cx="114.7" cy="503.2" r="0.7" fill="#c86410" opacity="0.55"/>
<circle cx="117.0" cy="505.5" r="0.8" fill="#c86410" opacity="0.55"/>
<circle cx="120.0" cy="498.7" r="0.9" fill="#f8a040" opacity="0.55"/>
<circle cx="113.5" cy="506.4" r="0.9" fill="#c86410" opacity="0.55"/>
<circle cx="117.0" cy="500.6" r="0.6" fill="#c86410" opacity="0.55"/>
<circle cx="119.0" cy="499.7" r="1.0" fill="#f8a040" opacity="0.55"/>
<circle cx="118.5" cy="499.9" r="1.0" fill="#c86410" opacity="0.55"/>
<circle cx="120.1" cy="502.2" r="0.9" fill="#c86410" opacity="0.55"/>
<circle cx="118.0" cy="500.3" r="1.0" fill="#c86410" opacity="0.55"/>
<circle cx="120.6" cy="505.5" r="1.0" fill="#f8a040" opacity="0.55"/>
<circle cx="121.9" cy="502.3" r="1.0" fill="#f8a040" opacity="0.55"/>
<circle cx="119.7" cy="503.9" r="0.9" fill="#c86410" opacity="0.55"/>
<circle cx="123.2" cy="504.7" r="0.6" fill="#f8a040" opacity="0.55"/>
<circle cx="118.3" cy="499.2" r="0.8" fill="#f8a040" opacity="0.55"/>
<circle cx="116.1" cy="502.1" r="0.6" fill="#f8a040" opacity="0.55"/>
<circle cx="121.9" cy="498.8" r="1.0" fill="#f8a040" opacity="0.55"/>
<circle cx="117.6" cy="502.0" r="0.6" fill="#c86410" opacity="0.55"/>
<circle cx="121.4" cy="503.8" r="0.5" fill="#f8a040" opacity="0.55"/>
<circle cx="117.7" cy="499.6" r="0.8" fill="#f8a040" opacity="0.55"/>
<circle cx="123.3" cy="500.7" r="0.8" fill="#c86410" opacity="0.55"/>
<circle cx="120.3" cy="506.8" r="0.8" fill="#f8a040" opacity="0.55"/>
<circle cx="122.1" cy="499.7" r="0.7" fill="#c86410" opacity="0.55"/>
<circle cx="119.1" cy="504.4" r="0.8" fill="#c86410" opacity="0.55"/>
<circle cx="124.5" cy="502.4" r="1.0" fill="#c86410" opacity="0.55"/>
<circle cx="117.2" cy="500.6" r="0.9" fill="#c86410" opacity="0.55"/>
<circle cx="119.7" cy="497.2" r="0.6" fill="#c86410" opacity="0.55"/>
<circle cx="120.1" cy="501.0" r="0.7" fill="#f8a040" opacity="0.55"/>
<circle cx="120.5" cy="500.0" r="0.6" fill="#c86410" opacity="0.55"/>
<circle cx="123.4" cy="502.4" r="0.7" fill="#f8a040" opacity="0.55"/>
<circle cx="109.8" cy="505.0" r="0.6" fill="#f8a040" opacity="0.55"/>
<circle cx="112.4" cy="501.7" r="0.7" fill="#f8a040" opacity="0.55"/>
<circle cx="109.8" cy="506.2" r="0.7" fill="#c86410" opacity="0.55"/>
<circle cx="111.0" cy="502.4" r="0.8" fill="#c86410" opacity="0.55"/>
<circle cx="114.2" cy="507.4" r="0.8" fill="#c86410" opacity="0.55"/>
<circle cx="111.0" cy="502.1" r="0.8" fill="#c86410" opacity="0.55"/>
<circle cx="111.5" cy="505.9" r="0.6" fill="#f8a040" opacity="0.55"/>
<circle cx="113.8" cy="506.5" r="0.8" fill="#f8a040" opacity="0.55"/>
<circle cx="114.6" cy="510.0" r="0.6" fill="#f8a040" opacity="0.55"/>
<circle cx="117.8" cy="504.0" r="0.9" fill="#c86410" opacity="0.55"/>
<circle cx="115.7" cy="507.6" r="1.0" fill="#c86410" opacity="0.55"/>
<circle cx="113.0" cy="508.3" r="0.9" fill="#c86410" opacity="0.55"/>
<circle cx="115.6" cy="509.5" r="0.8" fill="#c86410" opacity="0.55"/>
<circle cx="115.6" cy="503.9" r="0.8" fill="#c86410" opacity="0.55"/>
<circle cx="111.2" cy="504.2" r="0.7" fill="#f8a040" opacity="0.55"/>
<circle cx="122.9" cy="506.8" r="0.8" fill="#f8a040" opacity="0.55"/>
<circle cx="123.1" cy="505.2" r="0.7" fill="#f8a040" opacity="0.55"/>
<circle cx="119.7" cy="506.0" r="0.7" fill="#c86410" opacity="0.55"/>
<circle cx="121.9" cy="505.5" r="0.8" fill="#f8a040" opacity="0.55"/>
<circle cx="125.0" cy="507.1" r="1.0" fill="#f8a040" opacity="0.55"/>
<circle cx="121.2" cy="507.3" r="0.6" fill="#f8a040" opacity="0.55"/>
<circle cx="124.4" cy="506.7" r="0.8" fill="#c86410" opacity="0.55"/>
<circle cx="124.5" cy="507.3" r="0.7" fill="#f8a040" opacity="0.55"/>
<circle cx="108.0" cy="587.9" r="6.5" fill="#1868a8"/>
<circle cx="115.0" cy="592.6" r="7.0" fill="#1868a8"/>
<circle cx="123.2" cy="587.9" r="5.6" fill="#1868a8"/>
<circle cx="118.5" cy="600.7" r="7.0" fill="#1868a8"/>
<circle cx="125.5" cy="604.2" r="6.5" fill="#1868a8"/>
<circle cx="129.7" cy="599.6" r="4.2" fill="#1868a8"/>
<circle cx="120.9" cy="611.3" r="6.1" fill="#1868a8"/>
<circle cx="113.8" cy="615.9" r="5.6" fill="#1868a8"/>
<circle cx="106.8" cy="614.8" r="5.6" fill="#1868a8"/>
<circle cx="102.6" cy="613.1" r="4.2" fill="#1868a8"/>
<circle cx="109.2" cy="621.8" r="3.7" fill="#1868a8"/>
<circle cx="105.7" cy="585.5" r="4.7" fill="#1868a8"/>
<circle cx="127.9" cy="608.9" r="4.2" fill="#1868a8"/>
<circle cx="126.7" cy="593.7" r="4.2" fill="#1868a8"/>
<circle cx="117.4" cy="620.6" r="3.3" fill="#1868a8"/>
<circle cx="110.2" cy="592.3" r="0.8" fill="#0e4a80" opacity="0.55"/>
<circle cx="102.7" cy="588.4" r="1.0" fill="#0e4a80" opacity="0.55"/>
<circle cx="109.9" cy="583.3" r="0.8" fill="#0e4a80" opacity="0.55"/>
<circle cx="106.8" cy="589.0" r="0.9" fill="#2a86c8" opacity="0.55"/>
<circle cx="108.6" cy="582.4" r="1.0" fill="#0e4a80" opacity="0.55"/>
<circle cx="102.2" cy="588.9" r="0.7" fill="#0e4a80" opacity="0.55"/>
<circle cx="103.2" cy="585.6" r="0.9" fill="#0e4a80" opacity="0.55"/>
<circle cx="104.6" cy="591.3" r="0.8" fill="#2a86c8" opacity="0.55"/>
<circle cx="112.7" cy="588.5" r="0.7" fill="#0e4a80" opacity="0.55"/>
<circle cx="111.9" cy="591.3" r="0.9" fill="#0e4a80" opacity="0.55"/>
<circle cx="110.4" cy="589.1" r="1.0" fill="#2a86c8" opacity="0.55"/>
<circle cx="112.2" cy="589.9" r="0.8" fill="#0e4a80" opacity="0.55"/>
<circle cx="108.7" cy="588.2" r="0.9" fill="#0e4a80" opacity="0.55"/>
<circle cx="103.4" cy="588.2" r="0.8" fill="#0e4a80" opacity="0.55"/>
<circle cx="110.1" cy="586.3" r="0.9" fill="#2a86c8" opacity="0.55"/>
<circle cx="112.4" cy="587.7" r="0.7" fill="#2a86c8" opacity="0.55"/>
<circle cx="108.6" cy="584.7" r="0.8" fill="#2a86c8" opacity="0.55"/>
<circle cx="113.2" cy="587.5" r="0.6" fill="#0e4a80" opacity="0.55"/>
<circle cx="105.7" cy="590.8" r="0.6" fill="#2a86c8" opacity="0.55"/>
<circle cx="104.3" cy="586.4" r="0.8" fill="#0e4a80" opacity="0.55"/>
<circle cx="102.7" cy="590.2" r="0.9" fill="#0e4a80" opacity="0.55"/>
<circle cx="105.4" cy="584.8" r="0.8" fill="#0e4a80" opacity="0.55"/>
<circle cx="109.1" cy="584.6" r="0.8" fill="#2a86c8" opacity="0.55"/>
<circle cx="112.6" cy="590.8" r="0.7" fill="#0e4a80" opacity="0.55"/>
<circle cx="108.4" cy="582.4" r="0.7" fill="#2a86c8" opacity="0.55"/>
<circle cx="116.4" cy="590.5" r="0.7" fill="#0e4a80" opacity="0.55"/>
<circle cx="118.6" cy="588.6" r="0.9" fill="#2a86c8" opacity="0.55"/>
<circle cx="112.6" cy="596.0" r="0.7" fill="#0e4a80" opacity="0.55"/>
<circle cx="116.7" cy="597.7" r="1.0" fill="#0e4a80" opacity="0.55"/>
<circle cx="111.6" cy="590.1" r="0.7" fill="#0e4a80" opacity="0.55"/>
<circle cx="112.8" cy="591.6" r="0.7" fill="#2a86c8" opacity="0.55"/>
<circle cx="111.9" cy="593.9" r="0.6" fill="#0e4a80" opacity="0.55"/>
<circle cx="116.0" cy="591.2" r="0.8" fill="#0e4a80" opacity="0.55"/>
<circle cx="111.5" cy="593.0" r="0.5" fill="#0e4a80" opacity="0.55"/>
<circle cx="113.5" cy="596.4" r="0.7" fill="#2a86c8" opacity="0.55"/>
<circle cx="110.6" cy="595.1" r="0.8" fill="#0e4a80" opacity="0.55"/>
<circle cx="116.7" cy="597.2" r="0.8" fill="#0e4a80" opacity="0.55"/>
<circle cx="119.0" cy="588.6" r="0.6" fill="#2a86c8" opacity="0.55"/>
<circle cx="119.1" cy="591.4" r="0.7" fill="#0e4a80" opacity="0.55"/>
<circle cx="120.4" cy="589.6" r="0.7" fill="#2a86c8" opacity="0.55"/>
<circle cx="117.1" cy="594.5" r="0.9" fill="#2a86c8" opacity="0.55"/>
<circle cx="115.4" cy="592.7" r="0.7" fill="#2a86c8" opacity="0.55"/>
<circle cx="119.2" cy="593.7" r="0.9" fill="#0e4a80" opacity="0.55"/>
<circle cx="110.2" cy="591.6" r="0.6" fill="#2a86c8" opacity="0.55"/>
<circle cx="116.2" cy="598.0" r="0.7" fill="#2a86c8" opacity="0.55"/>
<circle cx="111.9" cy="596.5" r="1.0" fill="#2a86c8" opacity="0.55"/>
<circle cx="120.4" cy="589.5" r="0.5" fill="#0e4a80" opacity="0.55"/>
<circle cx="116.5" cy="589.8" r="0.7" fill="#0e4a80" opacity="0.55"/>
<circle cx="119.2" cy="591.9" r="0.6" fill="#0e4a80" opacity="0.55"/>
<circle cx="119.7" cy="589.3" r="1.0" fill="#0e4a80" opacity="0.55"/>
<circle cx="111.3" cy="596.4" r="0.9" fill="#0e4a80" opacity="0.55"/>
<circle cx="113.9" cy="592.6" r="0.9" fill="#0e4a80" opacity="0.55"/>
<circle cx="110.2" cy="595.6" r="0.7" fill="#0e4a80" opacity="0.55"/>
<circle cx="113.1" cy="594.9" r="1.0" fill="#0e4a80" opacity="0.55"/>
<circle cx="119.5" cy="585.5" r="0.7" fill="#0e4a80" opacity="0.55"/>
<circle cx="120.5" cy="586.4" r="0.9" fill="#0e4a80" opacity="0.55"/>
<circle cx="126.0" cy="590.8" r="0.6" fill="#2a86c8" opacity="0.55"/>
<circle cx="122.8" cy="590.8" r="1.0" fill="#0e4a80" opacity="0.55"/>
<circle cx="124.7" cy="589.8" r="0.6" fill="#2a86c8" opacity="0.55"/>
<circle cx="121.1" cy="584.2" r="0.5" fill="#0e4a80" opacity="0.55"/>
<circle cx="123.5" cy="583.0" r="0.7" fill="#2a86c8" opacity="0.55"/>
<circle cx="126.2" cy="590.0" r="0.7" fill="#0e4a80" opacity="0.55"/>
<circle cx="126.7" cy="588.7" r="0.6" fill="#0e4a80" opacity="0.55"/>
<circle cx="123.4" cy="589.2" r="0.6" fill="#0e4a80" opacity="0.55"/>
<circle cx="124.1" cy="587.8" r="0.7" fill="#2a86c8" opacity="0.55"/>
<circle cx="120.8" cy="586.4" r="0.9" fill="#2a86c8" opacity="0.55"/>
<circle cx="120.5" cy="589.7" r="0.6" fill="#2a86c8" opacity="0.55"/>
<circle cx="126.0" cy="585.0" r="0.8" fill="#0e4a80" opacity="0.55"/>
<circle cx="121.9" cy="587.1" r="0.7" fill="#0e4a80" opacity="0.55"/>
<circle cx="123.5" cy="589.3" r="0.7" fill="#2a86c8" opacity="0.55"/>
<circle cx="123.0" cy="584.7" r="0.6" fill="#2a86c8" opacity="0.55"/>
<circle cx="119.9" cy="587.6" r="0.6" fill="#2a86c8" opacity="0.55"/>
<circle cx="114.4" cy="599.5" r="0.6" fill="#2a86c8" opacity="0.55"/>
<circle cx="112.5" cy="599.1" r="1.0" fill="#0e4a80" opacity="0.55"/>
<circle cx="122.7" cy="599.9" r="0.7" fill="#0e4a80" opacity="0.55"/>
<circle cx="118.7" cy="600.7" r="0.9" fill="#2a86c8" opacity="0.55"/>
<circle cx="122.2" cy="604.0" r="0.5" fill="#0e4a80" opacity="0.55"/>
<circle cx="115.1" cy="600.3" r="0.8" fill="#2a86c8" opacity="0.55"/>
<circle cx="119.3" cy="606.7" r="0.9" fill="#0e4a80" opacity="0.55"/>
<circle cx="117.3" cy="606.6" r="0.7" fill="#2a86c8" opacity="0.55"/>
<circle cx="119.8" cy="606.4" r="1.0" fill="#2a86c8" opacity="0.55"/>
<circle cx="113.4" cy="597.5" r="0.8" fill="#2a86c8" opacity="0.55"/>
<circle cx="115.9" cy="604.9" r="0.9" fill="#0e4a80" opacity="0.55"/>
<circle cx="113.0" cy="598.8" r="0.9" fill="#2a86c8" opacity="0.55"/>
<circle cx="119.6" cy="604.2" r="0.7" fill="#0e4a80" opacity="0.55"/>
<circle cx="120.4" cy="603.6" r="0.6" fill="#2a86c8" opacity="0.55"/>
<circle cx="123.8" cy="597.7" r="0.6" fill="#2a86c8" opacity="0.55"/>
<circle cx="117.4" cy="604.9" r="1.0" fill="#2a86c8" opacity="0.55"/>
<circle cx="120.4" cy="601.0" r="0.5" fill="#2a86c8" opacity="0.55"/>
<circle cx="120.7" cy="599.0" r="0.7" fill="#2a86c8" opacity="0.55"/>
<circle cx="114.0" cy="597.2" r="0.7" fill="#2a86c8" opacity="0.55"/>
<circle cx="113.1" cy="602.1" r="0.7" fill="#0e4a80" opacity="0.55"/>
<circle cx="122.6" cy="596.4" r="0.7" fill="#2a86c8" opacity="0.55"/>
<circle cx="117.4" cy="602.4" r="0.5" fill="#2a86c8" opacity="0.55"/>
<circle cx="118.9" cy="601.6" r="1.0" fill="#0e4a80" opacity="0.55"/>
<circle cx="121.4" cy="602.1" r="0.9" fill="#0e4a80" opacity="0.55"/>
<circle cx="116.9" cy="602.8" r="1.0" fill="#2a86c8" opacity="0.55"/>
<circle cx="119.3" cy="602.1" r="1.0" fill="#0e4a80" opacity="0.55"/>
<circle cx="120.7" cy="601.6" r="0.9" fill="#2a86c8" opacity="0.55"/>
<circle cx="117.2" cy="601.1" r="0.5" fill="#0e4a80" opacity="0.55"/>
<circle cx="119.9" cy="601.4" r="0.6" fill="#2a86c8" opacity="0.55"/>
<circle cx="120.3" cy="605.1" r="0.7" fill="#0e4a80" opacity="0.55"/>
<circle cx="126.7" cy="600.0" r="0.8" fill="#0e4a80" opacity="0.55"/>
<circle cx="130.9" cy="604.1" r="0.5" fill="#2a86c8" opacity="0.55"/>
<circle cx="129.4" cy="605.7" r="1.0" fill="#0e4a80" opacity="0.55"/>
<circle cx="124.4" cy="608.5" r="0.7" fill="#2a86c8" opacity="0.55"/>
<circle cx="125.8" cy="601.9" r="0.9" fill="#0e4a80" opacity="0.55"/>
<circle cx="123.1" cy="604.7" r="0.7" fill="#2a86c8" opacity="0.55"/>
<circle cx="128.4" cy="602.5" r="0.6" fill="#2a86c8" opacity="0.55"/>
<circle cx="122.9" cy="599.1" r="0.7" fill="#2a86c8" opacity="0.55"/>
<circle cx="131.3" cy="603.5" r="0.6" fill="#2a86c8" opacity="0.55"/>
<circle cx="129.4" cy="606.7" r="0.5" fill="#0e4a80" opacity="0.55"/>
<circle cx="120.2" cy="602.3" r="0.9" fill="#0e4a80" opacity="0.55"/>
<circle cx="131.1" cy="602.8" r="0.6" fill="#0e4a80" opacity="0.55"/>
<circle cx="131.1" cy="602.6" r="0.6" fill="#0e4a80" opacity="0.55"/>
<circle cx="125.1" cy="602.5" r="0.6" fill="#0e4a80" opacity="0.55"/>
<circle cx="122.4" cy="602.5" r="0.6" fill="#2a86c8" opacity="0.55"/>
<circle cx="129.7" cy="601.1" r="0.8" fill="#0e4a80" opacity="0.55"/>
<circle cx="124.6" cy="602.4" r="0.7" fill="#2a86c8" opacity="0.55"/>
<circle cx="120.1" cy="603.7" r="0.6" fill="#0e4a80" opacity="0.55"/>
<circle cx="130.5" cy="605.2" r="0.9" fill="#0e4a80" opacity="0.55"/>
<circle cx="124.4" cy="598.5" r="0.7" fill="#0e4a80" opacity="0.55"/>
<circle cx="126.5" cy="600.4" r="0.8" fill="#0e4a80" opacity="0.55"/>
<circle cx="126.6" cy="600.5" r="0.6" fill="#0e4a80" opacity="0.55"/>
<circle cx="121.1" cy="607.3" r="1.0" fill="#0e4a80" opacity="0.55"/>
<circle cx="123.0" cy="607.4" r="1.0" fill="#2a86c8" opacity="0.55"/>
<circle cx="131.1" cy="597.5" r="0.6" fill="#0e4a80" opacity="0.55"/>
<circle cx="126.4" cy="598.7" r="0.7" fill="#0e4a80" opacity="0.55"/>
<circle cx="132.1" cy="600.6" r="1.0" fill="#0e4a80" opacity="0.55"/>
<circle cx="128.0" cy="596.4" r="0.7" fill="#0e4a80" opacity="0.55"/>
<circle cx="129.4" cy="598.6" r="0.8" fill="#0e4a80" opacity="0.55"/>
<circle cx="131.4" cy="599.9" r="0.6" fill="#2a86c8" opacity="0.55"/>
<circle cx="128.2" cy="597.7" r="0.9" fill="#0e4a80" opacity="0.55"/>
<circle cx="126.9" cy="601.7" r="0.8" fill="#2a86c8" opacity="0.55"/>
<circle cx="131.5" cy="600.9" r="0.6" fill="#2a86c8" opacity="0.55"/>
<circle cx="128.3" cy="598.7" r="0.8" fill="#2a86c8" opacity="0.55"/>
<circle cx="124.1" cy="608.6" r="0.9" fill="#0e4a80" opacity="0.55"/>
<circle cx="116.1" cy="608.8" r="0.7" fill="#0e4a80" opacity="0.55"/>
<circle cx="117.0" cy="612.7" r="0.8" fill="#2a86c8" opacity="0.55"/>
<circle cx="123.4" cy="608.2" r="0.9" fill="#0e4a80" opacity="0.55"/>
<circle cx="120.3" cy="609.1" r="0.9" fill="#0e4a80" opacity="0.55"/>
<circle cx="119.2" cy="610.4" r="0.9" fill="#2a86c8" opacity="0.55"/>
<circle cx="122.3" cy="615.6" r="0.8" fill="#2a86c8" opacity="0.55"/>
<circle cx="124.7" cy="610.0" r="0.8" fill="#0e4a80" opacity="0.55"/>
<circle cx="123.4" cy="606.7" r="1.0" fill="#2a86c8" opacity="0.55"/>
<circle cx="122.1" cy="607.7" r="0.6" fill="#0e4a80" opacity="0.55"/>
<circle cx="125.9" cy="612.9" r="1.0" fill="#2a86c8" opacity="0.55"/>
<circle cx="121.5" cy="607.6" r="0.5" fill="#0e4a80" opacity="0.55"/>
<circle cx="122.7" cy="614.2" r="0.7" fill="#0e4a80" opacity="0.55"/>
<circle cx="118.7" cy="611.0" r="0.5" fill="#0e4a80" opacity="0.55"/>
<circle cx="116.0" cy="612.6" r="0.9" fill="#0e4a80" opacity="0.55"/>
<circle cx="119.8" cy="606.5" r="0.8" fill="#2a86c8" opacity="0.55"/>
<circle cx="123.0" cy="611.9" r="0.7" fill="#0e4a80" opacity="0.55"/>
<circle cx="117.7" cy="609.0" r="0.6" fill="#0e4a80" opacity="0.55"/>
<circle cx="120.5" cy="605.8" r="0.6" fill="#2a86c8" opacity="0.55"/>
<circle cx="119.2" cy="606.7" r="0.8" fill="#0e4a80" opacity="0.55"/>
<circle cx="123.3" cy="608.4" r="0.6" fill="#2a86c8" opacity="0.55"/>
<circle cx="123.0" cy="607.7" r="0.8" fill="#0e4a80" opacity="0.55"/>
<circle cx="115.4" cy="612.9" r="0.9" fill="#0e4a80" opacity="0.55"/>
<circle cx="118.8" cy="615.8" r="0.7" fill="#0e4a80" opacity="0.55"/>
<circle cx="112.5" cy="617.3" r="0.6" fill="#0e4a80" opacity="0.55"/>
<circle cx="109.3" cy="616.6" r="1.0" fill="#0e4a80" opacity="0.55"/>
<circle cx="114.5" cy="618.0" r="0.9" fill="#0e4a80" opacity="0.55"/>
<circle cx="113.3" cy="618.2" r="1.0" fill="#2a86c8" opacity="0.55"/>
<circle cx="113.9" cy="611.0" r="0.8" fill="#2a86c8" opacity="0.55"/>
<circle cx="114.7" cy="620.3" r="0.5" fill="#0e4a80" opacity="0.55"/>
<circle cx="110.8" cy="619.0" r="0.7" fill="#2a86c8" opacity="0.55"/>
<circle cx="115.3" cy="617.4" r="0.7" fill="#2a86c8" opacity="0.55"/>
<circle cx="109.6" cy="614.8" r="0.9" fill="#0e4a80" opacity="0.55"/>
<circle cx="117.0" cy="614.2" r="0.8" fill="#0e4a80" opacity="0.55"/>
<circle cx="113.9" cy="618.0" r="0.7" fill="#2a86c8" opacity="0.55"/>
<circle cx="117.0" cy="616.4" r="0.5" fill="#0e4a80" opacity="0.55"/>
<circle cx="117.8" cy="616.5" r="0.9" fill="#2a86c8" opacity="0.55"/>
<circle cx="111.9" cy="614.6" r="0.6" fill="#2a86c8" opacity="0.55"/>
<circle cx="114.2" cy="618.8" r="0.6" fill="#0e4a80" opacity="0.55"/>
<circle cx="115.3" cy="615.8" r="0.8" fill="#2a86c8" opacity="0.55"/>
<circle cx="106.7" cy="613.1" r="0.6" fill="#2a86c8" opacity="0.55"/>
<circle cx="103.4" cy="614.6" r="0.6" fill="#2a86c8" opacity="0.55"/>
<circle cx="110.7" cy="614.9" r="0.8" fill="#0e4a80" opacity="0.55"/>
<circle cx="109.5" cy="616.4" r="0.8" fill="#2a86c8" opacity="0.55"/>
<circle cx="106.6" cy="615.2" r="0.9" fill="#0e4a80" opacity="0.55"/>
<circle cx="106.6" cy="616.1" r="0.6" fill="#0e4a80" opacity="0.55"/>
<circle cx="105.8" cy="614.5" r="0.8" fill="#0e4a80" opacity="0.55"/>
<circle cx="103.0" cy="613.9" r="0.7" fill="#0e4a80" opacity="0.55"/>
<circle cx="106.8" cy="612.1" r="0.6" fill="#2a86c8" opacity="0.55"/>
<circle cx="102.1" cy="615.4" r="0.6" fill="#2a86c8" opacity="0.55"/>
<circle cx="105.0" cy="616.8" r="0.7" fill="#2a86c8" opacity="0.55"/>
<circle cx="109.0" cy="611.2" r="0.8" fill="#2a86c8" opacity="0.55"/>
<circle cx="106.0" cy="618.9" r="0.5" fill="#0e4a80" opacity="0.55"/>
<circle cx="104.8" cy="615.4" r="0.6" fill="#0e4a80" opacity="0.55"/>
<circle cx="110.8" cy="613.6" r="0.8" fill="#0e4a80" opacity="0.55"/>
<circle cx="104.0" cy="617.2" r="0.9" fill="#0e4a80" opacity="0.55"/>
<circle cx="107.8" cy="611.5" r="0.7" fill="#0e4a80" opacity="0.55"/>
<circle cx="107.4" cy="610.2" r="0.6" fill="#2a86c8" opacity="0.55"/>
<circle cx="104.1" cy="612.2" r="0.7" fill="#0e4a80" opacity="0.55"/>
<circle cx="101.8" cy="612.1" r="1.0" fill="#2a86c8" opacity="0.55"/>
<circle cx="103.3" cy="609.7" r="0.7" fill="#0e4a80" opacity="0.55"/>
<circle cx="102.7" cy="615.4" r="1.0" fill="#2a86c8" opacity="0.55"/>
<circle cx="102.4" cy="616.0" r="1.0" fill="#2a86c8" opacity="0.55"/>
<circle cx="101.4" cy="613.5" r="0.6" fill="#0e4a80" opacity="0.55"/>
<circle cx="101.5" cy="613.3" r="0.6" fill="#2a86c8" opacity="0.55"/>
<circle cx="105.7" cy="614.0" r="0.9" fill="#0e4a80" opacity="0.55"/>
<circle cx="100.6" cy="612.0" r="0.9" fill="#0e4a80" opacity="0.55"/>
<circle cx="101.8" cy="611.4" r="0.8" fill="#0e4a80" opacity="0.55"/>
<circle cx="111.8" cy="620.5" r="1.0" fill="#2a86c8" opacity="0.55"/>
<circle cx="110.2" cy="622.8" r="0.6" fill="#0e4a80" opacity="0.55"/>
<circle cx="106.1" cy="622.1" r="0.9" fill="#0e4a80" opacity="0.55"/>
<circle cx="109.1" cy="624.8" r="0.6" fill="#0e4a80" opacity="0.55"/>
<circle cx="111.6" cy="622.5" r="0.8" fill="#0e4a80" opacity="0.55"/>
<circle cx="106.4" cy="623.4" r="0.9" fill="#0e4a80" opacity="0.55"/>
<circle cx="109.2" cy="619.7" r="0.8" fill="#2a86c8" opacity="0.55"/>
<circle cx="107.3" cy="620.6" r="0.8" fill="#0e4a80" opacity="0.55"/>
<circle cx="102.9" cy="585.2" r="0.6" fill="#2a86c8" opacity="0.55"/>
<circle cx="108.3" cy="583.9" r="0.8" fill="#0e4a80" opacity="0.55"/>
<circle cx="106.8" cy="588.3" r="0.9" fill="#0e4a80" opacity="0.55"/>
<circle cx="106.6" cy="584.9" r="1.0" fill="#2a86c8" opacity="0.55"/>
<circle cx="106.4" cy="586.5" r="0.5" fill="#0e4a80" opacity="0.55"/>
<circle cx="107.8" cy="587.7" r="0.8" fill="#0e4a80" opacity="0.55"/>
<circle cx="106.6" cy="588.9" r="0.5" fill="#2a86c8" opacity="0.55"/>
<circle cx="104.0" cy="581.8" r="0.5" fill="#2a86c8" opacity="0.55"/>
<circle cx="104.8" cy="583.3" r="0.7" fill="#0e4a80" opacity="0.55"/>
<circle cx="108.8" cy="586.5" r="0.9" fill="#0e4a80" opacity="0.55"/>
<circle cx="108.3" cy="587.5" r="0.5" fill="#0e4a80" opacity="0.55"/>
<circle cx="107.9" cy="587.5" r="0.6" fill="#0e4a80" opacity="0.55"/>
<circle cx="107.3" cy="586.7" r="0.6" fill="#2a86c8" opacity="0.55"/>
<circle cx="127.9" cy="607.6" r="0.9" fill="#2a86c8" opacity="0.55"/>
<circle cx="129.6" cy="607.3" r="0.7" fill="#2a86c8" opacity="0.55"/>
<circle cx="125.5" cy="606.4" r="0.5" fill="#0e4a80" opacity="0.55"/>
<circle cx="127.3" cy="607.2" r="0.7" fill="#0e4a80" opacity="0.55"/>
<circle cx="128.8" cy="610.7" r="0.5" fill="#0e4a80" opacity="0.55"/>
<circle cx="129.3" cy="605.7" r="0.7" fill="#2a86c8" opacity="0.55"/>
<circle cx="130.3" cy="607.6" r="0.5" fill="#0e4a80" opacity="0.55"/>
<circle cx="126.8" cy="610.3" r="1.0" fill="#2a86c8" opacity="0.55"/>
<circle cx="126.4" cy="607.4" r="0.5" fill="#2a86c8" opacity="0.55"/>
<circle cx="128.1" cy="608.2" r="0.9" fill="#2a86c8" opacity="0.55"/>
<circle cx="129.3" cy="593.5" r="0.7" fill="#2a86c8" opacity="0.55"/>
<circle cx="126.7" cy="590.9" r="0.9" fill="#0e4a80" opacity="0.55"/>
<circle cx="128.6" cy="593.0" r="1.0" fill="#0e4a80" opacity="0.55"/>
<circle cx="125.5" cy="595.7" r="0.6" fill="#0e4a80" opacity="0.55"/>
<circle cx="124.8" cy="594.3" r="0.9" fill="#0e4a80" opacity="0.55"/>
<circle cx="127.0" cy="590.1" r="0.6" fill="#2a86c8" opacity="0.55"/>
<circle cx="127.3" cy="590.6" r="0.7" fill="#2a86c8" opacity="0.55"/>
<circle cx="129.2" cy="592.4" r="0.6" fill="#2a86c8" opacity="0.55"/>
<circle cx="125.8" cy="594.8" r="0.7" fill="#2a86c8" opacity="0.55"/>
<circle cx="125.8" cy="595.7" r="0.7" fill="#0e4a80" opacity="0.55"/>
<circle cx="115.0" cy="620.7" r="0.6" fill="#0e4a80" opacity="0.55"/>
<circle cx="115.0" cy="620.2" r="0.9" fill="#0e4a80" opacity="0.55"/>
<circle cx="114.8" cy="621.7" r="0.8" fill="#2a86c8" opacity="0.55"/>
<circle cx="115.0" cy="619.5" r="0.6" fill="#0e4a80" opacity="0.55"/>
<circle cx="115.3" cy="620.6" r="0.8" fill="#0e4a80" opacity="0.55"/>
<circle cx="119.7" cy="619.3" r="0.9" fill="#0e4a80" opacity="0.55"/>
<circle cx="118.5" cy="573.8" r="4.2" fill="#10a0a0"/>
<circle cx="116.2" cy="578.5" r="2.8" fill="#10a0a0"/>
<circle cx="122.0" cy="569.2" r="2.3" fill="#10a0a0"/>
<circle cx="115.0" cy="570.3" r="2.1" fill="#10a0a0"/>
<circle cx="119.7" cy="579.7" r="2.3" fill="#10a0a0"/>
<circle cx="117.8" cy="574.6" r="0.8" fill="#30c0b8" opacity="0.55"/>
<circle cx="116.2" cy="571.9" r="0.7" fill="#30c0b8" opacity="0.55"/>
<circle cx="115.6" cy="572.5" r="1.0" fill="#30c0b8" opacity="0.55"/>
<circle cx="121.8" cy="574.7" r="0.7" fill="#0a7a80" opacity="0.55"/>
<circle cx="116.5" cy="576.6" r="0.8" fill="#30c0b8" opacity="0.55"/>
<circle cx="115.6" cy="572.8" r="0.7" fill="#0a7a80" opacity="0.55"/>
<circle cx="117.7" cy="574.1" r="0.6" fill="#0a7a80" opacity="0.55"/>
<circle cx="119.7" cy="575.0" r="0.8" fill="#0a7a80" opacity="0.55"/>
<circle cx="119.8" cy="572.1" r="0.9" fill="#30c0b8" opacity="0.55"/>
<circle cx="119.9" cy="574.9" r="0.6" fill="#30c0b8" opacity="0.55"/>
<circle cx="114.8" cy="577.1" r="0.9" fill="#30c0b8" opacity="0.55"/>
<circle cx="116.6" cy="577.7" r="0.9" fill="#30c0b8" opacity="0.55"/>
<circle cx="114.9" cy="576.4" r="0.7" fill="#0a7a80" opacity="0.55"/>
<circle cx="117.5" cy="578.2" r="0.6" fill="#0a7a80" opacity="0.55"/>
<circle cx="121.1" cy="570.2" r="0.6" fill="#0a7a80" opacity="0.55"/>
<circle cx="120.0" cy="569.2" r="0.6" fill="#0a7a80" opacity="0.55"/>
<circle cx="123.6" cy="568.3" r="1.0" fill="#30c0b8" opacity="0.55"/>
<circle cx="116.1" cy="570.2" r="0.9" fill="#0a7a80" opacity="0.55"/>
<circle cx="114.4" cy="569.3" r="0.9" fill="#30c0b8" opacity="0.55"/>
<circle cx="118.2" cy="579.0" r="0.6" fill="#0a7a80" opacity="0.55"/>
<circle cx="119.2" cy="581.4" r="0.8" fill="#0a7a80" opacity="0.55"/>
<circle cx="118.5" cy="578.0" r="0.5" fill="#0a7a80" opacity="0.55"/>
</g>
<line x1="139" y1="554.8" x2="156.5" y2="554.8" stroke="#111" stroke-width="1.2"/><circle cx="139" cy="554.8" r="1.7" fill="#111"/>
<line x1="139" y1="567.3" x2="156.5" y2="567.3" stroke="#111" stroke-width="1.2"/><circle cx="139" cy="567.3" r="1.7" fill="#111"/>
<path d="M156.5 549.3H168.5A12 12 0 0 1 168.5 573.3H156.5Z" fill="#fff" stroke="#111" stroke-width="1.9"/>
<text x="168.2" y="563.3" font-size="5.4" text-anchor="middle" font-weight="bold" fill="#111" textLength="11.5" lengthAdjust="spacingAndGlyphs" stroke="#111" stroke-width="0.25">AND</text>
<rect x="190.8" y="528.3" width="66.2" height="65" fill="#fff" stroke="#74b084" stroke-width="1.1"/>
<line x1="180.5" y1="561.2" x2="198.5" y2="561.2" stroke="#111" stroke-width="1.2"/><circle cx="198.5" cy="561.2" r="1.7" fill="#111"/>
<g>
<circle cx="221.0" cy="548.9" r="7.0" fill="#1868a8"/>
<circle cx="229.8" cy="553.3" r="6.7" fill="#1868a8"/>
<circle cx="236.8" cy="560.3" r="7.9" fill="#1868a8"/>
<circle cx="242.0" cy="563.8" r="5.3" fill="#1868a8"/>
<circle cx="233.3" cy="570.8" r="6.1" fill="#1868a8"/>
<circle cx="222.8" cy="576.0" r="7.0" fill="#1868a8"/>
<circle cx="228.0" cy="579.5" r="6.1" fill="#1868a8"/>
<circle cx="221.0" cy="584.4" r="3.2" fill="#1868a8"/>
<circle cx="214.4" cy="546.6" r="3.2" fill="#1868a8"/>
<circle cx="235.0" cy="549.8" r="3.9" fill="#1868a8"/>
<circle cx="221.9" cy="567.3" r="5.3" fill="#1868a8"/>
<circle cx="226.3" cy="562.0" r="4.4" fill="#1868a8"/>
<circle cx="221.4" cy="546.0" r="0.8" fill="#0e4a80" opacity="0.55"/>
<circle cx="218.6" cy="544.5" r="0.8" fill="#0e4a80" opacity="0.55"/>
<circle cx="226.3" cy="546.6" r="0.9" fill="#0e4a80" opacity="0.55"/>
<circle cx="219.5" cy="554.7" r="0.8" fill="#0e4a80" opacity="0.55"/>
<circle cx="221.6" cy="542.9" r="0.8" fill="#0e4a80" opacity="0.55"/>
<circle cx="216.7" cy="545.5" r="0.8" fill="#0e4a80" opacity="0.55"/>
<circle cx="221.0" cy="550.6" r="0.6" fill="#0e4a80" opacity="0.55"/>
<circle cx="219.1" cy="550.2" r="0.8" fill="#2a86c8" opacity="0.55"/>
<circle cx="219.0" cy="550.7" r="0.9" fill="#0e4a80" opacity="0.55"/>
<circle cx="223.7" cy="544.4" r="0.9" fill="#0e4a80" opacity="0.55"/>
<circle cx="217.3" cy="548.7" r="0.8" fill="#2a86c8" opacity="0.55"/>
<circle cx="222.6" cy="549.5" r="0.9" fill="#0e4a80" opacity="0.55"/>
<circle cx="216.8" cy="550.6" r="0.8" fill="#0e4a80" opacity="0.55"/>
<circle cx="217.8" cy="550.9" r="0.8" fill="#0e4a80" opacity="0.55"/>
<circle cx="223.2" cy="544.8" r="0.8" fill="#2a86c8" opacity="0.55"/>
<circle cx="219.7" cy="543.8" r="1.0" fill="#0e4a80" opacity="0.55"/>
<circle cx="219.6" cy="548.9" r="0.9" fill="#2a86c8" opacity="0.55"/>
<circle cx="217.7" cy="552.5" r="0.9" fill="#0e4a80" opacity="0.55"/>
<circle cx="218.4" cy="543.9" r="1.0" fill="#0e4a80" opacity="0.55"/>
<circle cx="220.6" cy="549.1" r="0.7" fill="#0e4a80" opacity="0.55"/>
<circle cx="221.5" cy="551.9" r="0.8" fill="#0e4a80" opacity="0.55"/>
<circle cx="225.6" cy="545.0" r="0.7" fill="#0e4a80" opacity="0.55"/>
<circle cx="216.2" cy="548.1" r="0.7" fill="#2a86c8" opacity="0.55"/>
<circle cx="224.5" cy="549.3" r="0.8" fill="#0e4a80" opacity="0.55"/>
<circle cx="225.7" cy="547.9" r="0.8" fill="#2a86c8" opacity="0.55"/>
<circle cx="223.5" cy="548.4" r="0.7" fill="#0e4a80" opacity="0.55"/>
<circle cx="218.2" cy="549.6" r="0.7" fill="#2a86c8" opacity="0.55"/>
<circle cx="220.3" cy="554.7" r="0.6" fill="#0e4a80" opacity="0.55"/>
<circle cx="225.6" cy="546.6" r="0.6" fill="#0e4a80" opacity="0.55"/>
<circle cx="227.2" cy="548.4" r="1.0" fill="#2a86c8" opacity="0.55"/>
<circle cx="229.8" cy="551.5" r="0.7" fill="#2a86c8" opacity="0.55"/>
<circle cx="228.9" cy="553.1" r="0.8" fill="#0e4a80" opacity="0.55"/>
<circle cx="227.9" cy="550.8" r="0.5" fill="#2a86c8" opacity="0.55"/>
<circle cx="233.8" cy="549.2" r="0.9" fill="#0e4a80" opacity="0.55"/>
<circle cx="226.8" cy="550.6" r="0.8" fill="#0e4a80" opacity="0.55"/>
<circle cx="234.4" cy="550.9" r="0.7" fill="#0e4a80" opacity="0.55"/>
<circle cx="231.7" cy="557.2" r="0.8" fill="#2a86c8" opacity="0.55"/>
<circle cx="226.5" cy="550.9" r="0.9" fill="#2a86c8" opacity="0.55"/>
<circle cx="224.9" cy="552.7" r="0.6" fill="#2a86c8" opacity="0.55"/>
<circle cx="227.6" cy="550.9" r="0.7" fill="#2a86c8" opacity="0.55"/>
<circle cx="234.6" cy="552.1" r="0.8" fill="#0e4a80" opacity="0.55"/>
<circle cx="227.1" cy="551.7" r="0.7" fill="#0e4a80" opacity="0.55"/>
<circle cx="228.6" cy="557.2" r="0.6" fill="#0e4a80" opacity="0.55"/>
<circle cx="233.4" cy="552.8" r="0.6" fill="#2a86c8" opacity="0.55"/>
<circle cx="234.0" cy="555.9" r="0.9" fill="#0e4a80" opacity="0.55"/>
<circle cx="233.9" cy="553.8" r="0.6" fill="#0e4a80" opacity="0.55"/>
<circle cx="229.2" cy="550.7" r="0.6" fill="#0e4a80" opacity="0.55"/>
<circle cx="233.4" cy="554.3" r="0.6" fill="#2a86c8" opacity="0.55"/>
<circle cx="229.0" cy="556.6" r="0.9" fill="#0e4a80" opacity="0.55"/>
<circle cx="230.8" cy="551.5" r="1.0" fill="#2a86c8" opacity="0.55"/>
<circle cx="233.5" cy="553.5" r="0.7" fill="#0e4a80" opacity="0.55"/>
<circle cx="232.7" cy="556.1" r="0.9" fill="#0e4a80" opacity="0.55"/>
<circle cx="228.5" cy="554.4" r="0.7" fill="#0e4a80" opacity="0.55"/>
<circle cx="229.4" cy="548.1" r="0.7" fill="#0e4a80" opacity="0.55"/>
<circle cx="228.7" cy="547.5" r="0.8" fill="#0e4a80" opacity="0.55"/>
<circle cx="234.4" cy="564.3" r="0.7" fill="#0e4a80" opacity="0.55"/>
<circle cx="235.9" cy="564.2" r="0.5" fill="#0e4a80" opacity="0.55"/>
<circle cx="239.5" cy="557.1" r="0.6" fill="#2a86c8" opacity="0.55"/>
<circle cx="232.4" cy="565.3" r="0.8" fill="#0e4a80" opacity="0.55"/>
<circle cx="237.5" cy="555.9" r="0.5" fill="#0e4a80" opacity="0.55"/>
<circle cx="240.3" cy="556.2" r="1.0" fill="#2a86c8" opacity="0.55"/>
<circle cx="240.5" cy="556.3" r="0.8" fill="#0e4a80" opacity="0.55"/>
<circle cx="234.5" cy="560.5" r="0.7" fill="#0e4a80" opacity="0.55"/>
<circle cx="232.1" cy="565.0" r="1.0" fill="#2a86c8" opacity="0.55"/>
<circle cx="233.9" cy="566.1" r="0.7" fill="#0e4a80" opacity="0.55"/>
<circle cx="235.5" cy="559.6" r="0.5" fill="#2a86c8" opacity="0.55"/>
<circle cx="231.6" cy="557.0" r="0.8" fill="#0e4a80" opacity="0.55"/>
<circle cx="232.6" cy="560.0" r="0.7" fill="#2a86c8" opacity="0.55"/>
<circle cx="238.4" cy="564.5" r="0.9" fill="#0e4a80" opacity="0.55"/>
<circle cx="238.0" cy="564.6" r="0.7" fill="#2a86c8" opacity="0.55"/>
<circle cx="235.3" cy="562.6" r="0.8" fill="#0e4a80" opacity="0.55"/>
<circle cx="238.1" cy="553.3" r="0.7" fill="#0e4a80" opacity="0.55"/>
<circle cx="237.0" cy="555.4" r="0.8" fill="#0e4a80" opacity="0.55"/>
<circle cx="238.4" cy="557.3" r="0.5" fill="#2a86c8" opacity="0.55"/>
<circle cx="238.4" cy="564.3" r="0.7" fill="#2a86c8" opacity="0.55"/>
<circle cx="234.8" cy="563.1" r="0.8" fill="#0e4a80" opacity="0.55"/>
<circle cx="231.3" cy="556.4" r="0.9" fill="#0e4a80" opacity="0.55"/>
<circle cx="242.1" cy="558.9" r="0.9" fill="#2a86c8" opacity="0.55"/>
<circle cx="239.8" cy="557.6" r="0.9" fill="#0e4a80" opacity="0.55"/>
<circle cx="239.3" cy="564.2" r="0.7" fill="#2a86c8" opacity="0.55"/>
<circle cx="232.5" cy="562.1" r="0.9" fill="#0e4a80" opacity="0.55"/>
<circle cx="240.5" cy="563.3" r="1.0" fill="#0e4a80" opacity="0.55"/>
<circle cx="239.1" cy="557.2" r="1.0" fill="#0e4a80" opacity="0.55"/>
<circle cx="242.7" cy="560.7" r="0.6" fill="#0e4a80" opacity="0.55"/>
<circle cx="233.2" cy="555.6" r="0.6" fill="#2a86c8" opacity="0.55"/>
<circle cx="231.4" cy="564.0" r="0.8" fill="#0e4a80" opacity="0.55"/>
<circle cx="230.6" cy="557.9" r="0.9" fill="#2a86c8" opacity="0.55"/>
<circle cx="233.6" cy="565.4" r="0.5" fill="#2a86c8" opacity="0.55"/>
<circle cx="236.0" cy="555.5" r="0.8" fill="#0e4a80" opacity="0.55"/>
<circle cx="239.2" cy="554.0" r="1.0" fill="#2a86c8" opacity="0.55"/>
<circle cx="240.0" cy="556.4" r="1.0" fill="#2a86c8" opacity="0.55"/>
<circle cx="235.2" cy="559.2" r="0.8" fill="#0e4a80" opacity="0.55"/>
<circle cx="243.6" cy="564.0" r="0.8" fill="#2a86c8" opacity="0.55"/>
<circle cx="246.2" cy="564.2" r="0.7" fill="#2a86c8" opacity="0.55"/>
<circle cx="241.1" cy="562.6" r="0.8" fill="#0e4a80" opacity="0.55"/>
<circle cx="240.5" cy="560.4" r="0.6" fill="#0e4a80" opacity="0.55"/>
<circle cx="245.2" cy="567.1" r="0.7" fill="#0e4a80" opacity="0.55"/>
<circle cx="241.7" cy="563.7" r="0.6" fill="#0e4a80" opacity="0.55"/>
<circle cx="245.6" cy="566.5" r="0.6" fill="#0e4a80" opacity="0.55"/>
<circle cx="241.5" cy="567.9" r="0.8" fill="#2a86c8" opacity="0.55"/>
<circle cx="239.5" cy="561.1" r="0.8" fill="#0e4a80" opacity="0.55"/>
<circle cx="246.3" cy="562.5" r="0.6" fill="#2a86c8" opacity="0.55"/>
<circle cx="240.9" cy="559.2" r="0.6" fill="#0e4a80" opacity="0.55"/>
<circle cx="244.3" cy="563.4" r="0.8" fill="#0e4a80" opacity="0.55"/>
<circle cx="240.4" cy="567.1" r="0.6" fill="#0e4a80" opacity="0.55"/>
<circle cx="239.4" cy="562.1" r="0.8" fill="#2a86c8" opacity="0.55"/>
<circle cx="242.1" cy="565.9" r="0.5" fill="#0e4a80" opacity="0.55"/>
<circle cx="241.4" cy="561.1" r="0.5" fill="#0e4a80" opacity="0.55"/>
<circle cx="235.9" cy="567.3" r="0.9" fill="#0e4a80" opacity="0.55"/>
<circle cx="234.3" cy="569.9" r="0.8" fill="#0e4a80" opacity="0.55"/>
<circle cx="233.7" cy="567.9" r="0.7" fill="#0e4a80" opacity="0.55"/>
<circle cx="229.5" cy="574.1" r="0.8" fill="#0e4a80" opacity="0.55"/>
<circle cx="237.7" cy="567.8" r="0.5" fill="#2a86c8" opacity="0.55"/>
<circle cx="229.5" cy="574.7" r="0.5" fill="#0e4a80" opacity="0.55"/>
<circle cx="231.3" cy="567.1" r="0.8" fill="#2a86c8" opacity="0.55"/>
<circle cx="232.6" cy="574.1" r="0.7" fill="#0e4a80" opacity="0.55"/>
<circle cx="231.3" cy="570.6" r="0.8" fill="#0e4a80" opacity="0.55"/>
<circle cx="230.1" cy="567.1" r="0.5" fill="#0e4a80" opacity="0.55"/>
<circle cx="230.3" cy="570.4" r="0.6" fill="#2a86c8" opacity="0.55"/>
<circle cx="234.9" cy="566.6" r="0.8" fill="#0e4a80" opacity="0.55"/>
<circle cx="235.9" cy="571.9" r="0.5" fill="#2a86c8" opacity="0.55"/>
<circle cx="228.4" cy="568.9" r="0.9" fill="#2a86c8" opacity="0.55"/>
<circle cx="234.7" cy="568.0" r="0.6" fill="#0e4a80" opacity="0.55"/>
<circle cx="234.7" cy="571.4" r="0.6" fill="#0e4a80" opacity="0.55"/>
<circle cx="231.6" cy="573.7" r="0.9" fill="#0e4a80" opacity="0.55"/>
<circle cx="230.7" cy="573.6" r="0.7" fill="#2a86c8" opacity="0.55"/>
<circle cx="232.3" cy="565.4" r="0.6" fill="#2a86c8" opacity="0.55"/>
<circle cx="236.1" cy="566.3" r="0.6" fill="#0e4a80" opacity="0.55"/>
<circle cx="232.7" cy="566.3" r="1.0" fill="#0e4a80" opacity="0.55"/>
<circle cx="227.9" cy="571.9" r="0.9" fill="#0e4a80" opacity="0.55"/>
<circle cx="226.5" cy="580.3" r="0.6" fill="#0e4a80" opacity="0.55"/>
<circle cx="218.2" cy="578.3" r="0.9" fill="#2a86c8" opacity="0.55"/>
<circle cx="227.5" cy="573.3" r="0.6" fill="#0e4a80" opacity="0.55"/>
<circle cx="226.2" cy="573.7" r="0.8" fill="#2a86c8" opacity="0.55"/>
<circle cx="224.0" cy="571.3" r="0.7" fill="#0e4a80" opacity="0.55"/>
<circle cx="221.7" cy="574.2" r="0.9" fill="#0e4a80" opacity="0.55"/>
<circle cx="222.9" cy="576.7" r="0.7" fill="#0e4a80" opacity="0.55"/>
<circle cx="221.9" cy="580.5" r="0.7" fill="#0e4a80" opacity="0.55"/>
<circle cx="227.8" cy="573.2" r="0.7" fill="#2a86c8" opacity="0.55"/>
<circle cx="217.4" cy="574.1" r="0.7" fill="#0e4a80" opacity="0.55"/>
<circle cx="225.5" cy="579.2" r="0.8" fill="#0e4a80" opacity="0.55"/>
<circle cx="219.4" cy="579.9" r="0.8" fill="#0e4a80" opacity="0.55"/>
<circle cx="219.1" cy="577.7" r="0.8" fill="#0e4a80" opacity="0.55"/>
<circle cx="221.3" cy="579.0" r="0.7" fill="#2a86c8" opacity="0.55"/>
<circle cx="226.6" cy="579.1" r="0.7" fill="#0e4a80" opacity="0.55"/>
<circle cx="219.2" cy="573.3" r="0.6" fill="#2a86c8" opacity="0.55"/>
<circle cx="225.0" cy="570.7" r="0.5" fill="#0e4a80" opacity="0.55"/>
<circle cx="225.3" cy="579.8" r="0.7" fill="#2a86c8" opacity="0.55"/>
<circle cx="223.1" cy="580.8" r="1.0" fill="#2a86c8" opacity="0.55"/>
<circle cx="220.2" cy="575.1" r="0.8" fill="#0e4a80" opacity="0.55"/>
<circle cx="223.2" cy="577.9" r="0.6" fill="#2a86c8" opacity="0.55"/>
<circle cx="226.0" cy="572.6" r="1.0" fill="#0e4a80" opacity="0.55"/>
<circle cx="225.4" cy="575.7" r="0.5" fill="#2a86c8" opacity="0.55"/>
<circle cx="224.6" cy="574.5" r="0.9" fill="#2a86c8" opacity="0.55"/>
<circle cx="217.7" cy="572.9" r="1.0" fill="#0e4a80" opacity="0.55"/>
<circle cx="221.5" cy="574.3" r="0.6" fill="#0e4a80" opacity="0.55"/>
<circle cx="225.6" cy="578.6" r="0.6" fill="#0e4a80" opacity="0.55"/>
<circle cx="225.9" cy="571.8" r="0.6" fill="#0e4a80" opacity="0.55"/>
<circle cx="225.7" cy="577.9" r="0.6" fill="#0e4a80" opacity="0.55"/>
<circle cx="231.2" cy="579.4" r="0.5" fill="#2a86c8" opacity="0.55"/>
<circle cx="228.7" cy="580.5" r="0.9" fill="#0e4a80" opacity="0.55"/>
<circle cx="230.0" cy="576.8" r="0.7" fill="#2a86c8" opacity="0.55"/>
<circle cx="225.1" cy="579.1" r="0.8" fill="#0e4a80" opacity="0.55"/>
<circle cx="226.1" cy="581.1" r="0.5" fill="#0e4a80" opacity="0.55"/>
<circle cx="224.2" cy="583.2" r="0.6" fill="#0e4a80" opacity="0.55"/>
<circle cx="224.0" cy="580.2" r="0.8" fill="#0e4a80" opacity="0.55"/>
<circle cx="227.8" cy="581.3" r="0.7" fill="#0e4a80" opacity="0.55"/>
<circle cx="227.8" cy="578.3" r="0.8" fill="#0e4a80" opacity="0.55"/>
<circle cx="229.2" cy="577.8" r="0.7" fill="#2a86c8" opacity="0.55"/>
<circle cx="231.2" cy="582.7" r="1.0" fill="#2a86c8" opacity="0.55"/>
<circle cx="227.8" cy="584.1" r="0.8" fill="#2a86c8" opacity="0.55"/>
<circle cx="227.3" cy="577.7" r="0.7" fill="#0e4a80" opacity="0.55"/>
<circle cx="228.7" cy="581.2" r="0.8" fill="#0e4a80" opacity="0.55"/>
<circle cx="224.0" cy="579.4" r="0.9" fill="#0e4a80" opacity="0.55"/>
<circle cx="227.7" cy="576.3" r="0.6" fill="#0e4a80" opacity="0.55"/>
<circle cx="225.8" cy="582.3" r="0.5" fill="#2a86c8" opacity="0.55"/>
<circle cx="229.1" cy="584.1" r="0.6" fill="#2a86c8" opacity="0.55"/>
<circle cx="224.2" cy="578.1" r="0.7" fill="#0e4a80" opacity="0.55"/>
<circle cx="233.0" cy="581.4" r="1.0" fill="#0e4a80" opacity="0.55"/>
<circle cx="230.7" cy="577.3" r="0.6" fill="#0e4a80" opacity="0.55"/>
<circle cx="229.2" cy="578.9" r="0.6" fill="#0e4a80" opacity="0.55"/>
<circle cx="219.2" cy="586.6" r="1.0" fill="#0e4a80" opacity="0.55"/>
<circle cx="220.9" cy="584.2" r="0.7" fill="#0e4a80" opacity="0.55"/>
<circle cx="221.5" cy="585.7" r="0.9" fill="#0e4a80" opacity="0.55"/>
<circle cx="219.3" cy="583.7" r="0.8" fill="#0e4a80" opacity="0.55"/>
<circle cx="220.7" cy="584.8" r="0.9" fill="#0e4a80" opacity="0.55"/>
<circle cx="213.5" cy="544.4" r="0.8" fill="#0e4a80" opacity="0.55"/>
<circle cx="216.6" cy="546.9" r="0.8" fill="#2a86c8" opacity="0.55"/>
<circle cx="212.0" cy="546.3" r="0.7" fill="#2a86c8" opacity="0.55"/>
<circle cx="216.1" cy="548.1" r="1.0" fill="#2a86c8" opacity="0.55"/>
<circle cx="216.5" cy="547.0" r="0.5" fill="#2a86c8" opacity="0.55"/>
<circle cx="233.8" cy="547.2" r="0.8" fill="#2a86c8" opacity="0.55"/>
<circle cx="233.7" cy="547.0" r="0.5" fill="#0e4a80" opacity="0.55"/>
<circle cx="234.7" cy="548.4" r="0.6" fill="#0e4a80" opacity="0.55"/>
<circle cx="237.6" cy="547.7" r="0.9" fill="#0e4a80" opacity="0.55"/>
<circle cx="234.7" cy="550.9" r="0.6" fill="#2a86c8" opacity="0.55"/>
<circle cx="237.8" cy="550.7" r="0.8" fill="#0e4a80" opacity="0.55"/>
<circle cx="235.7" cy="551.5" r="0.9" fill="#0e4a80" opacity="0.55"/>
<circle cx="234.4" cy="549.0" r="0.8" fill="#0e4a80" opacity="0.55"/>
<circle cx="224.9" cy="566.4" r="0.9" fill="#2a86c8" opacity="0.55"/>
<circle cx="222.0" cy="564.9" r="0.9" fill="#0e4a80" opacity="0.55"/>
<circle cx="222.4" cy="570.5" r="0.8" fill="#0e4a80" opacity="0.55"/>
<circle cx="224.0" cy="566.5" r="0.9" fill="#0e4a80" opacity="0.55"/>
<circle cx="222.4" cy="570.8" r="0.9" fill="#0e4a80" opacity="0.55"/>
<circle cx="219.0" cy="564.1" r="0.6" fill="#0e4a80" opacity="0.55"/>
<circle cx="220.9" cy="565.5" r="1.0" fill="#0e4a80" opacity="0.55"/>
<circle cx="222.7" cy="566.1" r="0.5" fill="#0e4a80" opacity="0.55"/>
<circle cx="225.3" cy="568.6" r="1.0" fill="#2a86c8" opacity="0.55"/>
<circle cx="224.3" cy="565.6" r="0.8" fill="#0e4a80" opacity="0.55"/>
<circle cx="220.2" cy="567.4" r="0.6" fill="#0e4a80" opacity="0.55"/>
<circle cx="224.3" cy="566.2" r="0.8" fill="#2a86c8" opacity="0.55"/>
<circle cx="221.1" cy="563.2" r="0.9" fill="#0e4a80" opacity="0.55"/>
<circle cx="223.2" cy="566.6" r="0.6" fill="#0e4a80" opacity="0.55"/>
<circle cx="218.5" cy="564.7" r="0.7" fill="#2a86c8" opacity="0.55"/>
<circle cx="225.7" cy="567.1" r="0.7" fill="#2a86c8" opacity="0.55"/>
<circle cx="224.1" cy="559.9" r="0.8" fill="#2a86c8" opacity="0.55"/>
<circle cx="225.3" cy="563.8" r="0.6" fill="#0e4a80" opacity="0.55"/>
<circle cx="222.6" cy="560.7" r="0.6" fill="#2a86c8" opacity="0.55"/>
<circle cx="223.7" cy="563.6" r="0.5" fill="#0e4a80" opacity="0.55"/>
<circle cx="227.2" cy="565.6" r="0.5" fill="#0e4a80" opacity="0.55"/>
<circle cx="224.7" cy="560.9" r="0.9" fill="#2a86c8" opacity="0.55"/>
<circle cx="228.4" cy="562.4" r="0.6" fill="#0e4a80" opacity="0.55"/>
<circle cx="227.4" cy="558.6" r="0.7" fill="#2a86c8" opacity="0.55"/>
<circle cx="223.6" cy="560.7" r="1.0" fill="#0e4a80" opacity="0.55"/>
<circle cx="228.0" cy="565.4" r="0.9" fill="#0e4a80" opacity="0.55"/>
<circle cx="225.4" cy="562.1" r="0.8" fill="#2a86c8" opacity="0.55"/>
<circle cx="208.8" cy="562.0" r="7.0" fill="#b01824"/>
<circle cx="215.8" cy="559.4" r="6.1" fill="#b01824"/>
<circle cx="222.8" cy="557.6" r="4.9" fill="#b01824"/>
<circle cx="207.0" cy="569.0" r="4.9" fill="#b01824"/>
<circle cx="212.3" cy="571.1" r="4.4" fill="#b01824"/>
<circle cx="228.0" cy="557.6" r="2.6" fill="#b01824"/>
<circle cx="233.3" cy="541.9" r="4.4" fill="#b01824"/>
<circle cx="230.6" cy="541.0" r="2.8" fill="#b01824"/>
<circle cx="237.1" cy="543.1" r="2.5" fill="#b01824"/>
<circle cx="236.8" cy="578.1" r="3.2" fill="#b01824"/>
<circle cx="240.6" cy="574.3" r="2.1" fill="#b01824"/>
<circle cx="212.3" cy="552.4" r="3.2" fill="#b01824"/>
<circle cx="213.6" cy="566.0" r="0.8" fill="#d02a36" opacity="0.55"/>
<circle cx="213.8" cy="565.1" r="1.0" fill="#7a0c16" opacity="0.55"/>
<circle cx="209.6" cy="556.5" r="0.8" fill="#d02a36" opacity="0.55"/>
<circle cx="205.8" cy="564.8" r="0.8" fill="#7a0c16" opacity="0.55"/>
<circle cx="206.7" cy="557.4" r="0.9" fill="#7a0c16" opacity="0.55"/>
<circle cx="214.7" cy="562.8" r="0.7" fill="#7a0c16" opacity="0.55"/>
<circle cx="208.2" cy="557.6" r="0.5" fill="#7a0c16" opacity="0.55"/>
<circle cx="207.8" cy="557.8" r="0.7" fill="#7a0c16" opacity="0.55"/>
<circle cx="203.2" cy="559.2" r="0.7" fill="#d02a36" opacity="0.55"/>
<circle cx="211.1" cy="564.4" r="0.6" fill="#7a0c16" opacity="0.55"/>
<circle cx="208.7" cy="558.1" r="0.6" fill="#7a0c16" opacity="0.55"/>
<circle cx="208.2" cy="556.1" r="0.6" fill="#d02a36" opacity="0.55"/>
<circle cx="206.7" cy="562.6" r="0.6" fill="#7a0c16" opacity="0.55"/>
<circle cx="203.6" cy="562.1" r="0.9" fill="#7a0c16" opacity="0.55"/>
<circle cx="212.2" cy="557.6" r="0.8" fill="#7a0c16" opacity="0.55"/>
<circle cx="204.6" cy="558.8" r="0.9" fill="#d02a36" opacity="0.55"/>
<circle cx="203.3" cy="563.4" r="0.9" fill="#7a0c16" opacity="0.55"/>
<circle cx="203.3" cy="563.9" r="1.0" fill="#7a0c16" opacity="0.55"/>
<circle cx="214.6" cy="564.1" r="0.5" fill="#d02a36" opacity="0.55"/>
<circle cx="207.8" cy="565.1" r="0.6" fill="#7a0c16" opacity="0.55"/>
<circle cx="210.9" cy="566.0" r="0.7" fill="#d02a36" opacity="0.55"/>
<circle cx="210.1" cy="562.5" r="1.0" fill="#7a0c16" opacity="0.55"/>
<circle cx="207.8" cy="559.1" r="0.5" fill="#d02a36" opacity="0.55"/>
<circle cx="209.7" cy="561.7" r="0.5" fill="#7a0c16" opacity="0.55"/>
<circle cx="209.2" cy="559.1" r="0.7" fill="#7a0c16" opacity="0.55"/>
<circle cx="203.8" cy="559.1" r="0.6" fill="#7a0c16" opacity="0.55"/>
<circle cx="213.6" cy="564.0" r="0.7" fill="#7a0c16" opacity="0.55"/>
<circle cx="211.1" cy="564.1" r="1.0" fill="#d02a36" opacity="0.55"/>
<circle cx="206.7" cy="565.5" r="0.9" fill="#d02a36" opacity="0.55"/>
<circle cx="213.6" cy="563.5" r="0.6" fill="#7a0c16" opacity="0.55"/>
<circle cx="218.6" cy="557.6" r="0.9" fill="#d02a36" opacity="0.55"/>
<circle cx="210.6" cy="558.0" r="0.8" fill="#7a0c16" opacity="0.55"/>
<circle cx="216.0" cy="559.8" r="0.6" fill="#7a0c16" opacity="0.55"/>
<circle cx="213.1" cy="562.1" r="0.9" fill="#7a0c16" opacity="0.55"/>
<circle cx="216.6" cy="555.7" r="1.0" fill="#7a0c16" opacity="0.55"/>
<circle cx="212.0" cy="559.4" r="0.5" fill="#d02a36" opacity="0.55"/>
<circle cx="215.5" cy="561.8" r="0.5" fill="#7a0c16" opacity="0.55"/>
<circle cx="216.3" cy="554.6" r="1.0" fill="#7a0c16" opacity="0.55"/>
<circle cx="212.4" cy="559.7" r="0.7" fill="#7a0c16" opacity="0.55"/>
<circle cx="212.9" cy="563.1" r="0.6" fill="#d02a36" opacity="0.55"/>
<circle cx="211.8" cy="558.9" r="0.7" fill="#7a0c16" opacity="0.55"/>
<circle cx="219.1" cy="558.7" r="0.8" fill="#7a0c16" opacity="0.55"/>
<circle cx="219.2" cy="556.8" r="0.7" fill="#d02a36" opacity="0.55"/>
<circle cx="216.9" cy="554.5" r="1.0" fill="#d02a36" opacity="0.55"/>
<circle cx="212.9" cy="558.8" r="0.8" fill="#7a0c16" opacity="0.55"/>
<circle cx="219.5" cy="562.1" r="0.6" fill="#d02a36" opacity="0.55"/>
<circle cx="214.3" cy="563.7" r="1.0" fill="#7a0c16" opacity="0.55"/>
<circle cx="215.3" cy="555.4" r="0.7" fill="#7a0c16" opacity="0.55"/>
<circle cx="216.8" cy="556.9" r="0.5" fill="#d02a36" opacity="0.55"/>
<circle cx="220.9" cy="560.6" r="0.5" fill="#7a0c16" opacity="0.55"/>
<circle cx="215.8" cy="555.3" r="0.9" fill="#7a0c16" opacity="0.55"/>
<circle cx="225.0" cy="559.5" r="0.9" fill="#d02a36" opacity="0.55"/>
<circle cx="221.5" cy="554.8" r="0.6" fill="#7a0c16" opacity="0.55"/>
<circle cx="219.8" cy="556.5" r="1.0" fill="#7a0c16" opacity="0.55"/>
<circle cx="222.9" cy="553.4" r="1.0" fill="#7a0c16" opacity="0.55"/>
<circle cx="225.8" cy="556.7" r="1.0" fill="#d02a36" opacity="0.55"/>
<circle cx="224.7" cy="556.7" r="0.5" fill="#7a0c16" opacity="0.55"/>
<circle cx="224.0" cy="556.6" r="0.5" fill="#7a0c16" opacity="0.55"/>
<circle cx="223.5" cy="553.6" r="0.6" fill="#d02a36" opacity="0.55"/>
<circle cx="224.1" cy="561.1" r="0.6" fill="#7a0c16" opacity="0.55"/>
<circle cx="220.7" cy="555.8" r="0.9" fill="#d02a36" opacity="0.55"/>
<circle cx="221.4" cy="559.0" r="1.0" fill="#7a0c16" opacity="0.55"/>
<circle cx="226.2" cy="557.7" r="1.0" fill="#d02a36" opacity="0.55"/>
<circle cx="220.3" cy="554.0" r="0.8" fill="#d02a36" opacity="0.55"/>
<circle cx="221.5" cy="557.6" r="0.5" fill="#7a0c16" opacity="0.55"/>
<circle cx="204.5" cy="568.0" r="0.9" fill="#d02a36" opacity="0.55"/>
<circle cx="205.4" cy="568.6" r="0.9" fill="#7a0c16" opacity="0.55"/>
<circle cx="208.5" cy="567.4" r="0.9" fill="#7a0c16" opacity="0.55"/>
<circle cx="206.7" cy="569.9" r="0.7" fill="#7a0c16" opacity="0.55"/>
<circle cx="208.6" cy="572.5" r="0.8" fill="#d02a36" opacity="0.55"/>
<circle cx="204.8" cy="570.4" r="0.7" fill="#7a0c16" opacity="0.55"/>
<circle cx="206.5" cy="566.8" r="0.8" fill="#7a0c16" opacity="0.55"/>
<circle cx="205.7" cy="569.5" r="0.6" fill="#d02a36" opacity="0.55"/>
<circle cx="206.2" cy="572.9" r="0.8" fill="#d02a36" opacity="0.55"/>
<circle cx="207.6" cy="568.2" r="1.0" fill="#7a0c16" opacity="0.55"/>
<circle cx="206.5" cy="566.7" r="0.9" fill="#d02a36" opacity="0.55"/>
<circle cx="208.7" cy="566.8" r="0.5" fill="#d02a36" opacity="0.55"/>
<circle cx="203.5" cy="571.6" r="0.6" fill="#d02a36" opacity="0.55"/>
<circle cx="206.7" cy="571.3" r="0.7" fill="#d02a36" opacity="0.55"/>
<circle cx="215.8" cy="570.6" r="0.7" fill="#7a0c16" opacity="0.55"/>
<circle cx="212.8" cy="572.6" r="0.8" fill="#7a0c16" opacity="0.55"/>
<circle cx="215.8" cy="570.8" r="0.7" fill="#7a0c16" opacity="0.55"/>
<circle cx="210.5" cy="572.1" r="0.7" fill="#d02a36" opacity="0.55"/>
<circle cx="210.6" cy="572.3" r="1.0" fill="#7a0c16" opacity="0.55"/>
<circle cx="216.1" cy="571.7" r="0.8" fill="#d02a36" opacity="0.55"/>
<circle cx="211.0" cy="568.0" r="0.5" fill="#7a0c16" opacity="0.55"/>
<circle cx="215.2" cy="570.5" r="0.9" fill="#d02a36" opacity="0.55"/>
<circle cx="212.3" cy="572.0" r="0.8" fill="#d02a36" opacity="0.55"/>
<circle cx="211.0" cy="571.4" r="0.5" fill="#d02a36" opacity="0.55"/>
<circle cx="213.1" cy="567.4" r="0.7" fill="#7a0c16" opacity="0.55"/>
<circle cx="228.3" cy="556.9" r="0.9" fill="#7a0c16" opacity="0.55"/>
<circle cx="227.6" cy="559.5" r="0.8" fill="#7a0c16" opacity="0.55"/>
<circle cx="228.3" cy="558.9" r="1.0" fill="#7a0c16" opacity="0.55"/>
<circle cx="229.2" cy="559.1" r="1.0" fill="#d02a36" opacity="0.55"/>
<circle cx="234.1" cy="542.9" r="0.9" fill="#7a0c16" opacity="0.55"/>
<circle cx="231.1" cy="539.3" r="0.9" fill="#7a0c16" opacity="0.55"/>
<circle cx="230.1" cy="541.9" r="0.8" fill="#7a0c16" opacity="0.55"/>
<circle cx="234.5" cy="543.0" r="0.6" fill="#d02a36" opacity="0.55"/>
<circle cx="236.3" cy="539.7" r="0.8" fill="#7a0c16" opacity="0.55"/>
<circle cx="234.4" cy="542.1" r="0.5" fill="#d02a36" opacity="0.55"/>
<circle cx="231.5" cy="538.6" r="1.0" fill="#7a0c16" opacity="0.55"/>
<circle cx="232.9" cy="541.3" r="0.6" fill="#7a0c16" opacity="0.55"/>
<circle cx="233.8" cy="544.4" r="0.8" fill="#7a0c16" opacity="0.55"/>
<circle cx="233.1" cy="539.4" r="0.8" fill="#7a0c16" opacity="0.55"/>
<circle cx="232.1" cy="543.7" r="0.9" fill="#d02a36" opacity="0.55"/>
<circle cx="232.5" cy="542.1" r="0.8" fill="#d02a36" opacity="0.55"/>
<circle cx="230.2" cy="542.2" r="0.7" fill="#7a0c16" opacity="0.55"/>
<circle cx="228.4" cy="540.1" r="0.8" fill="#7a0c16" opacity="0.55"/>
<circle cx="229.3" cy="539.6" r="1.0" fill="#d02a36" opacity="0.55"/>
<circle cx="236.9" cy="543.2" r="0.7" fill="#7a0c16" opacity="0.55"/>
<circle cx="238.9" cy="544.0" r="0.5" fill="#7a0c16" opacity="0.55"/>
<circle cx="235.8" cy="542.2" r="0.8" fill="#7a0c16" opacity="0.55"/>
<circle cx="235.5" cy="580.5" r="0.7" fill="#7a0c16" opacity="0.55"/>
<circle cx="235.0" cy="577.9" r="0.8" fill="#7a0c16" opacity="0.55"/>
<circle cx="237.4" cy="576.5" r="0.7" fill="#d02a36" opacity="0.55"/>
<circle cx="236.3" cy="578.3" r="0.9" fill="#7a0c16" opacity="0.55"/>
<circle cx="237.6" cy="576.2" r="0.8" fill="#d02a36" opacity="0.55"/>
<circle cx="239.3" cy="574.4" r="0.7" fill="#d02a36" opacity="0.55"/>
<circle cx="241.0" cy="575.9" r="0.9" fill="#7a0c16" opacity="0.55"/>
<circle cx="211.0" cy="550.0" r="0.6" fill="#d02a36" opacity="0.55"/>
<circle cx="210.9" cy="550.8" r="0.9" fill="#d02a36" opacity="0.55"/>
<circle cx="210.2" cy="552.8" r="0.6" fill="#7a0c16" opacity="0.55"/>
<circle cx="214.0" cy="552.8" r="0.9" fill="#d02a36" opacity="0.55"/>
<circle cx="211.4" cy="551.0" r="0.9" fill="#7a0c16" opacity="0.55"/>
<circle cx="232.4" cy="565.9" r="3.9" fill="#1868a8"/>
<circle cx="228.0" cy="572.5" r="3.5" fill="#1868a8"/>
<circle cx="235.0" cy="564.9" r="0.5" fill="#2a86c8" opacity="0.55"/>
<circle cx="234.0" cy="563.7" r="0.9" fill="#0e4a80" opacity="0.55"/>
<circle cx="235.7" cy="566.4" r="0.9" fill="#0e4a80" opacity="0.55"/>
<circle cx="235.4" cy="567.4" r="0.7" fill="#2a86c8" opacity="0.55"/>
<circle cx="232.6" cy="563.6" r="0.8" fill="#0e4a80" opacity="0.55"/>
<circle cx="229.6" cy="566.2" r="1.0" fill="#0e4a80" opacity="0.55"/>
<circle cx="231.1" cy="566.9" r="0.9" fill="#2a86c8" opacity="0.55"/>
<circle cx="231.7" cy="565.7" r="0.6" fill="#0e4a80" opacity="0.55"/>
<circle cx="231.0" cy="571.8" r="0.7" fill="#0e4a80" opacity="0.55"/>
<circle cx="227.8" cy="573.6" r="0.6" fill="#2a86c8" opacity="0.55"/>
<circle cx="228.2" cy="570.4" r="0.9" fill="#0e4a80" opacity="0.55"/>
<circle cx="226.8" cy="573.2" r="0.9" fill="#0e4a80" opacity="0.55"/>
<circle cx="228.6" cy="573.8" r="0.6" fill="#0e4a80" opacity="0.55"/>
<circle cx="227.7" cy="571.3" r="0.6" fill="#0e4a80" opacity="0.55"/>
<circle cx="226.9" cy="573.6" r="0.7" fill="#2a86c8" opacity="0.55"/>
<path d="M213.7 567.6Q221.0 567.2 228.9 571.1T235.0 572.5" stroke="#c88420" stroke-width="1.6" fill="none"/>
<ellipse cx="224.5" cy="562.0" rx="2" ry="1.4" fill="#f0e0d0"/>
<path d="M207.9 576.4q2 3.5 6 2.5M239.4 575.7q5 -1 6 2.5t-5 2" stroke="#f0a870" stroke-width="1.1" fill="none"/>
</g>
</g>
<g id="pD">
<text x="316.3" y="16" font-size="12.5" fill="#1a1a1a" textLength="17.5" lengthAdjust="spacingAndGlyphs">(D)</text>
<g transform="translate(330,0) scale(0.2)" fill="none" stroke="#333" stroke-width="4" stroke-linecap="round" stroke-linejoin="round">
<path d="M212 205C195 250 200 320 245 370C290 410 370 412 402 400C395 388 330 395 285 365C240 335 222 280 232 235" fill="#fff"/>
<path d="M215 235C200 170 225 95 300 45C370 10 450 25 515 68C540 55 560 50 575 52C570 30 580 15 595 18C610 22 615 40 610 52C650 75 690 130 708 178C700 190 690 190 682 192C660 205 620 205 592 215C585 230 570 240 560 245L585 250C590 258 585 268 575 268L545 262C535 265 525 268 520 270L535 285C542 295 538 305 525 305L470 300C455 292 450 285 452 280C430 270 400 262 380 262L395 275C402 285 398 295 388 295L330 290C300 285 270 275 252 262C235 255 220 245 215 235Z" fill="#fff"/>
<path d="M350 118C380 98 420 95 442 108C460 130 462 170 455 198C430 190 390 170 365 150C355 140 348 128 350 118Z" fill="#8c8c8c" stroke="none"/>
<path d="M350 150C360 200 350 240 330 262M480 170C490 200 510 230 545 262" stroke-width="2.6"/>
<circle cx="525" cy="93" r="20" fill="#fff" stroke-width="2.8"/><path d="M515 95q8 -12 16 -2q2 8 -6 10" stroke-width="2.4"/>
<ellipse cx="607" cy="140" rx="14" ry="17" fill="#0a0a0a" stroke="none" transform="rotate(-30 607 140)"/>
<path d="M700 160C730 130 750 115 772 112M705 168C735 160 760 165 782 175M705 178C740 180 770 195 790 212M690 185C650 200 610 250 605 305M692 190C665 215 645 260 640 300" stroke="#444" stroke-width="2"/>
<g transform="translate(74,440) rotate(-46)"><rect x="0" y="-15" width="150" height="30" rx="6" fill="#fff" stroke="#111" stroke-width="6.5"/><path d="M150 -8L172 -3V3L150 8Z" fill="#111" stroke="#111" stroke-width="2"/><line x1="172" y1="0" x2="205" y2="0" stroke="#111" stroke-width="3"/><line x1="0" y1="0" x2="-38" y2="0" stroke="#111" stroke-width="6"/><line x1="-38" y1="-24" x2="-38" y2="24" stroke="#111" stroke-width="6.5"/><path d="M45 -11q10 8 0 16M65 -11q10 8 0 16M85 -11q10 8 0 16M105 -11q10 8 0 16" stroke="#111" stroke-width="3.5"/><circle cx="14" cy="0" r="7" stroke="#111" stroke-width="3"/></g>
</g>
<text x="418" y="102.3" font-size="11.6" text-anchor="middle" fill="#1a1a1a" textLength="122" lengthAdjust="spacingAndGlyphs" stroke="#1a1a1a" stroke-width="0.2">AdV.GFP or AdV.sgPten</text>
<line x1="414" y1="113.5" x2="414" y2="127.5" stroke="#111" stroke-width="2.1"/><path d="M410.3 126.5L414 133.5L417.7 126.5L414 128.0Z" fill="#111"/>
<text transform="translate(356.5,170) rotate(-32)" font-size="11.6" fill="#1a1a1a" stroke="#1a1a1a" stroke-width="0.2" textLength="45" lengthAdjust="spacingAndGlyphs">AdV.GFP</text>
<text transform="translate(388.5,170) rotate(-30)" font-size="11.6" fill="#1a1a1a" stroke="#1a1a1a" stroke-width="0.2" textLength="60" lengthAdjust="spacingAndGlyphs">AdV.sgPten</text>
<rect x="368.3" y="174.8" width="37.2" height="2.6" fill="#111"/>
<g clip-path="url(#cGel)"><rect x="331.5" y="180.2" width="74" height="99.8" fill="url(#gGel)"/>
<rect x="331.5" y="180.2" width="74" height="99.8" fill="#808080" filter="url(#fGelN)" opacity="0.14"/>
<rect x="370" y="212" width="14" height="22" fill="url(#gSmear)" opacity="0.8" filter="url(#fB1)"/>
<rect x="389" y="205" width="14" height="28" fill="url(#gSmear)" opacity="0.95" filter="url(#fB1)"/>
<rect x="370.5" y="236" width="13" height="40" fill="#9a9a9a" opacity="0.22" filter="url(#fB1)"/>
<rect x="389.5" y="235" width="12.5" height="42" fill="#9a9a9a" opacity="0.25" filter="url(#fB1)"/>
<rect x="352" y="238" width="12" height="38" fill="#aaa" opacity="0.15" filter="url(#fB1)"/>
<rect x="371" y="220.5" width="12" height="2" rx="1" fill="#555" opacity="0.35" filter="url(#fB06)"/>
<rect x="371" y="225.5" width="12" height="2" rx="1" fill="#555" opacity="0.4" filter="url(#fB06)"/>
<rect x="390" y="216.5" width="12" height="2" rx="1" fill="#555" opacity="0.3" filter="url(#fB06)"/>
<rect x="390" y="221.5" width="12" height="2" rx="1" fill="#555" opacity="0.4" filter="url(#fB06)"/>
<rect x="390" y="226" width="12" height="2" rx="1" fill="#555" opacity="0.45" filter="url(#fB06)"/>
<rect x="333.8" y="185.0" width="11" height="1.8" rx="0.8" fill="#0a0a0a"/>
<rect x="333.8" y="192.4" width="11" height="1.8" rx="0.8" fill="#0a0a0a"/>
<rect x="333.8" y="197.9" width="11" height="2" rx="0.8" fill="#0a0a0a"/>
<rect x="333.8" y="203.5" width="11" height="1.6" rx="0.8" fill="#0a0a0a"/>
<rect x="333.8" y="207.1" width="11" height="1.5" rx="0.8" fill="#0a0a0a"/>
<rect x="333.8" y="213.2" width="11" height="1.6" rx="0.8" fill="#0a0a0a"/>
<rect x="333.8" y="217.7" width="11" height="1.5" rx="0.8" fill="#0a0a0a"/>
<rect x="333.8" y="220.7" width="11" height="1.5" rx="0.8" fill="#0a0a0a"/>
<rect x="333.8" y="224.9" width="11" height="1.8" rx="0.8" fill="#0a0a0a"/>
<rect x="333.8" y="233.5" width="11" height="2" rx="0.8" fill="#0a0a0a"/>
<rect x="333.8" y="242.1" width="11" height="1.8" rx="0.8" fill="#0a0a0a"/>
<rect x="333.8" y="255.3" width="11" height="1.8" rx="0.8" fill="#0a0a0a"/>
<rect x="333.8" y="271.3" width="11" height="2" rx="0.8" fill="#0a0a0a"/>
<rect x="351.2" y="234.6" width="13" height="2.8" rx="1.2" fill="#050505" filter="url(#fB03)"/>
<path d="M370.3 233.6q6.5 1 13 -0.6v3.2q-6.5 1.4 -13 0.6z" fill="#050505" filter="url(#fB03)"/>
<path d="M389.4 232.6q6 0 12.4 -1.4v3.2q-6.4 1.6 -12.4 1.6z" fill="#050505" filter="url(#fB03)"/>
<rect x="371.5" y="247.5" width="11" height="2.6" rx="1.2" fill="#555" opacity="0.55" filter="url(#fB06)"/>
<rect x="390.5" y="246.29999999999998" width="11" height="2.6" rx="1.2" fill="#555" opacity="0.6" filter="url(#fB06)"/>
<rect x="371.5" y="265.0" width="11" height="2.6" rx="1.2" fill="#555" opacity="0.42" filter="url(#fB06)"/>
<rect x="390.5" y="263.5" width="11" height="2.6" rx="1.2" fill="#555" opacity="0.5" filter="url(#fB06)"/>
<text x="375.3" y="200.2" font-size="11.5" text-anchor="middle" fill="#1a1a1a">1</text>
<text x="395.5" y="200.2" font-size="11.5" text-anchor="middle" fill="#1a1a1a">2</text>
</g>
<rect x="331.5" y="180.2" width="74" height="99.8" fill="none" stroke="#787878" stroke-width="1.4"/>
<text x="316" y="218.5" font-size="10.5" fill="#1a1a1a" textLength="11" lengthAdjust="spacingAndGlyphs">bp</text>
<line x1="316" y1="220.2" x2="327" y2="220.2" stroke="#1a1a1a" stroke-width="0.8"/>
<text x="330.3" y="237.6" font-size="10.3" text-anchor="end" fill="#1a1a1a" textLength="17" lengthAdjust="spacingAndGlyphs">400</text>
<text x="330.3" y="246.3" font-size="10.3" text-anchor="end" fill="#1a1a1a" textLength="17" lengthAdjust="spacingAndGlyphs">300</text>
<text x="330.3" y="259.6" font-size="10.3" text-anchor="end" fill="#1a1a1a" textLength="17" lengthAdjust="spacingAndGlyphs">200</text>
<text x="330.3" y="275" font-size="10.3" text-anchor="end" fill="#1a1a1a" textLength="17" lengthAdjust="spacingAndGlyphs">100</text>
<path d="M417 247.8H407M410.8 244.60000000000002L406.8 247.8L410.8 251.0" fill="none" stroke="#e0485a" stroke-width="0.9"/>
<path d="M417 263.3H407M410.8 260.1L406.8 263.3L410.8 266.5" fill="none" stroke="#e0485a" stroke-width="0.9"/>
<path d="M445 181.5V278.9H520" fill="none" stroke="#111" stroke-width="1.1"/>
<line x1="441.5" y1="181.5" x2="445" y2="181.5" stroke="#111" stroke-width="1.1"/>
<line x1="441.5" y1="213.9" x2="445" y2="213.9" stroke="#111" stroke-width="1.1"/>
<line x1="441.5" y1="246.5" x2="445" y2="246.5" stroke="#111" stroke-width="1.1"/>
<line x1="441.5" y1="278.9" x2="445" y2="278.9" stroke="#111" stroke-width="1.1"/>
<line x1="463.4" y1="278.9" x2="463.4" y2="282.5" stroke="#111" stroke-width="1.1"/>
<line x1="502" y1="278.9" x2="502" y2="282.5" stroke="#111" stroke-width="1.1"/>
<text x="440.6" y="184.0" font-size="7" text-anchor="end" font-weight="bold" fill="#111" stroke="#111" stroke-width="0.25">15</text>
<text x="440.6" y="216.4" font-size="7" text-anchor="end" font-weight="bold" fill="#111" stroke="#111" stroke-width="0.25">10</text>
<text x="440.6" y="249.0" font-size="7" text-anchor="end" font-weight="bold" fill="#111" stroke="#111" stroke-width="0.25">5</text>
<text x="440.6" y="281.4" font-size="7" text-anchor="end" font-weight="bold" fill="#111" stroke="#111" stroke-width="0.25">0</text>
<text transform="translate(428.6,270.3) rotate(-90)" font-size="8.2" font-weight="bold" fill="#111" stroke="#111" stroke-width="0.3" textLength="81.5" lengthAdjust="spacingAndGlyphs">Liver / Body weight %</text>
<path d="M463.4 194.8V188.3H502V194.8" fill="none" stroke="#222" stroke-width="0.8"/>
<text x="482.5" y="189.6" font-size="12.5" text-anchor="middle" font-weight="bold" fill="#222" textLength="19" lengthAdjust="spacingAndGlyphs">***</text>
<rect x="456.4" y="235.9" width="6" height="6" fill="#72b23a" stroke="#2c5a14" stroke-width="0.8"/>
<rect x="452.1" y="245.5" width="6" height="6" fill="#72b23a" stroke="#2c5a14" stroke-width="0.8"/>
<rect x="464.8" y="241.7" width="6" height="6" fill="#72b23a" stroke="#2c5a14" stroke-width="0.8"/>
<rect x="469.1" y="250.1" width="6" height="6" fill="#72b23a" stroke="#2c5a14" stroke-width="0.8"/>
<rect x="460.7" y="252.3" width="6" height="6" fill="#72b23a" stroke="#2c5a14" stroke-width="0.8"/>
<path d="M497.4 205.0L500.8 211.2H494.0Z" fill="#e46e90" stroke="#5a1828" stroke-width="0.8"/>
<path d="M501.9 201.9L505.3 208.1H498.5Z" fill="#e46e90" stroke="#5a1828" stroke-width="0.8"/>
<path d="M510.5 212.0L513.9 218.2H507.1Z" fill="#e46e90" stroke="#5a1828" stroke-width="0.8"/>
<path d="M506.2 215.3L509.6 221.5H502.8Z" fill="#e46e90" stroke="#5a1828" stroke-width="0.8"/>
<path d="M497.4 223.4L500.8 229.6H494.0Z" fill="#e46e90" stroke="#5a1828" stroke-width="0.8"/>
<path d="M452 248.5H476.5M463.8 243V254.6M461 243H466.6M461 254.6H466.6" stroke="#111" stroke-width="0.9" fill="none"/>
<path d="M489 214.9H515M502 206V223.5M499 206H505M499 223.5H505" stroke="#111" stroke-width="0.9" fill="none"/>
<text x="459.5" y="293.6" font-size="8.6" text-anchor="middle" fill="#222" textLength="35.5" lengthAdjust="spacingAndGlyphs" style="font-family:'DejaVu Sans','Liberation Sans',sans-serif">AdV.GFP</text>
<text x="506" y="293.6" font-size="8.6" text-anchor="middle" fill="#222" textLength="46" lengthAdjust="spacingAndGlyphs" style="font-family:'DejaVu Sans','Liberation Sans',sans-serif">AdV.sgPten</text>
<line x1="414" y1="297.5" x2="414" y2="311.5" stroke="#111" stroke-width="2.1"/><path d="M410.3 310.5L414 317.5L417.7 310.5L414 312.0Z" fill="#111"/>
<text x="363.5" y="330.7" font-size="11.6" text-anchor="middle" fill="#1a1a1a" textLength="45" lengthAdjust="spacingAndGlyphs" stroke="#1a1a1a" stroke-width="0.2">AdV.GFP</text>
<text x="457" y="330.7" font-size="11.6" text-anchor="middle" fill="#1a1a1a" textLength="60" lengthAdjust="spacingAndGlyphs" stroke="#1a1a1a" stroke-width="0.2">AdV.sgPten</text>
<g clip-path="url(#cLiv)"><rect x="323" y="336" width="183" height="105" fill="url(#gPad)"/>
<rect x="323" y="336" width="183" height="18" fill="#222c98"/>
<rect x="323" y="336" width="183" height="5" fill="#1a2488" opacity="0.8"/>
<ellipse cx="495" cy="339" rx="9" ry="3" fill="#5a68d0" opacity="0.6" filter="url(#fB1)"/>
<path d="M325.0 353.6v-7M327.2 353.6v-4.2M329.5 353.6v-4.2M331.7 353.6v-4.2M334.0 353.6v-4.2M336.2 353.6v-5.5M338.4 353.6v-4.2M340.7 353.6v-4.2M342.9 353.6v-4.2M345.2 353.6v-4.2M347.4 353.6v-7M349.6 353.6v-4.2M351.9 353.6v-4.2M354.1 353.6v-4.2M356.4 353.6v-4.2M358.6 353.6v-5.5M360.8 353.6v-4.2M363.1 353.6v-4.2M365.3 353.6v-4.2M367.6 353.6v-4.2M369.8 353.6v-7M372.0 353.6v-4.2M374.3 353.6v-4.2M376.5 353.6v-4.2M378.8 353.6v-4.2M381.0 353.6v-5.5M383.2 353.6v-4.2M385.5 353.6v-4.2M387.7 353.6v-4.2M390.0 353.6v-4.2M392.2 353.6v-7M394.4 353.6v-4.2M396.7 353.6v-4.2M398.9 353.6v-4.2M401.2 353.6v-4.2M403.4 353.6v-5.5M405.6 353.6v-4.2M407.9 353.6v-4.2M410.1 353.6v-4.2M412.4 353.6v-4.2M414.6 353.6v-7M416.8 353.6v-4.2M419.1 353.6v-4.2M421.3 353.6v-4.2M423.6 353.6v-4.2M425.8 353.6v-5.5M428.0 353.6v-4.2M430.3 353.6v-4.2M432.5 353.6v-4.2M434.8 353.6v-4.2M437.0 353.6v-7M439.2 353.6v-4.2M441.5 353.6v-4.2M443.7 353.6v-4.2M446.0 353.6v-4.2M448.2 353.6v-5.5M450.4 353.6v-4.2M452.7 353.6v-4.2M454.9 353.6v-4.2M457.2 353.6v-4.2M459.4 353.6v-7M461.6 353.6v-4.2M463.9 353.6v-4.2M466.1 353.6v-4.2M468.4 353.6v-4.2M470.6 353.6v-5.5M472.8 353.6v-4.2M475.1 353.6v-4.2M477.3 353.6v-4.2M479.6 353.6v-4.2M481.8 353.6v-7M484.0 353.6v-4.2M486.3 353.6v-4.2M488.5 353.6v-4.2M490.8 353.6v-4.2M493.0 353.6v-5.5M495.2 353.6v-4.2M497.5 353.6v-4.2M499.7 353.6v-4.2M502.0 353.6v-4.2M504.2 353.6v-7" stroke="#b8b8f0" stroke-width="0.6" fill="none" opacity="0.75"/>
<text x="357.0" y="345.3" font-size="4.5" fill="#a8a4e8">2</text>
<text x="379.75" y="345.3" font-size="4.5" fill="#a8a4e8">3</text>
<text x="402.5" y="345.3" font-size="4.5" fill="#a8a4e8">4</text>
<text x="425.25" y="345.3" font-size="4.5" fill="#a8a4e8">5</text>
<text x="448.0" y="345.3" font-size="4.5" fill="#a8a4e8">6</text>
<text x="470.75" y="345.3" font-size="4.5" fill="#a8a4e8">7</text>
<text x="493.5" y="345.3" font-size="4.5" fill="#a8a4e8">8</text>
<path d="M324.4 352L338.8 336.8" stroke="#a8a8e4" stroke-width="2" opacity="0.8"/><path d="M323.5 347L332 337" stroke="#8a8ad8" stroke-width="1" opacity="0.6"/>
<ellipse cx="391.3" cy="431.0" rx="45" ry="12" fill="#cfe6f0" opacity="0.8" filter="url(#fB4)"/>
<ellipse cx="405.5" cy="409.6" rx="8" ry="18" fill="#d4e8f0" opacity="0.7" filter="url(#fB2)"/>
<defs><clipPath id="cL1"><path d="M333.8 390.6C335.4 387.5 340.5 384.1 343.8 381.6C347.0 379.1 350.1 377.0 353.3 375.4C356.4 373.8 359.2 372.0 362.8 372.1C366.3 372.2 370.7 374.1 374.6 375.9C378.6 377.7 383.0 380.6 386.5 383.0C390.0 385.5 393.6 387.4 395.5 390.6C397.5 393.9 398.6 398.5 398.4 402.5C398.1 406.5 396.8 411.4 394.1 414.4C391.4 417.4 387.1 419.1 382.2 420.6C377.4 422.0 370.4 422.7 365.1 422.9C359.9 423.2 354.8 422.6 350.9 422.0C346.9 421.3 343.6 421.1 341.4 419.1C339.2 417.2 338.8 413.3 337.6 410.1C336.3 406.9 334.4 403.4 333.8 400.1C333.1 396.9 332.1 393.7 333.8 390.6Z"/></clipPath><clipPath id="cL2"><path d="M415.0 390.6C415.0 386.7 415.4 381.9 417.4 378.8C419.4 375.6 422.5 373.4 426.9 371.6C431.2 369.9 439.2 369.3 443.5 368.3C447.9 367.3 449.1 365.7 453.0 365.7C457.0 365.6 462.5 366.7 467.3 368.1C472.0 369.4 477.2 371.4 481.5 374.0C485.9 376.6 490.6 379.9 493.4 383.5C496.2 387.1 497.7 391.0 498.1 395.4C498.6 399.7 498.1 405.5 496.2 409.6C494.3 413.8 490.4 417.7 486.7 420.3C483.1 422.9 478.4 423.8 474.4 425.3C470.4 426.8 466.9 427.7 462.5 429.1C458.2 430.5 453.0 433.3 448.3 433.9C443.5 434.4 438.0 433.7 434.0 432.4C430.1 431.2 426.7 429.3 424.5 426.3C422.3 423.3 422.1 418.3 421.0 414.4C419.8 410.4 418.4 406.5 417.4 402.5C416.4 398.5 415.0 394.6 415.0 390.6Z"/></clipPath></defs>
<path d="M333.8 390.6C335.4 387.5 340.5 384.1 343.8 381.6C347.0 379.1 350.1 377.0 353.3 375.4C356.4 373.8 359.2 372.0 362.8 372.1C366.3 372.2 370.7 374.1 374.6 375.9C378.6 377.7 383.0 380.6 386.5 383.0C390.0 385.5 393.6 387.4 395.5 390.6C397.5 393.9 398.6 398.5 398.4 402.5C398.1 406.5 396.8 411.4 394.1 414.4C391.4 417.4 387.1 419.1 382.2 420.6C377.4 422.0 370.4 422.7 365.1 422.9C359.9 423.2 354.8 422.6 350.9 422.0C346.9 421.3 343.6 421.1 341.4 419.1C339.2 417.2 338.8 413.3 337.6 410.1C336.3 406.9 334.4 403.4 333.8 400.1C333.1 396.9 332.1 393.7 333.8 390.6Z" fill="#e88088" opacity="0.55" filter="url(#fB2)"/>
<path d="M415.0 390.6C415.0 386.7 415.4 381.9 417.4 378.8C419.4 375.6 422.5 373.4 426.9 371.6C431.2 369.9 439.2 369.3 443.5 368.3C447.9 367.3 449.1 365.7 453.0 365.7C457.0 365.6 462.5 366.7 467.3 368.1C472.0 369.4 477.2 371.4 481.5 374.0C485.9 376.6 490.6 379.9 493.4 383.5C496.2 387.1 497.7 391.0 498.1 395.4C498.6 399.7 498.1 405.5 496.2 409.6C494.3 413.8 490.4 417.7 486.7 420.3C483.1 422.9 478.4 423.8 474.4 425.3C470.4 426.8 466.9 427.7 462.5 429.1C458.2 430.5 453.0 433.3 448.3 433.9C443.5 434.4 438.0 433.7 434.0 432.4C430.1 431.2 426.7 429.3 424.5 426.3C422.3 423.3 422.1 418.3 421.0 414.4C419.8 410.4 418.4 406.5 417.4 402.5C416.4 398.5 415.0 394.6 415.0 390.6Z" fill="#e88088" opacity="0.55" filter="url(#fB2)"/>
<path d="M333.8 390.6C335.4 387.5 340.5 384.1 343.8 381.6C347.0 379.1 350.1 377.0 353.3 375.4C356.4 373.8 359.2 372.0 362.8 372.1C366.3 372.2 370.7 374.1 374.6 375.9C378.6 377.7 383.0 380.6 386.5 383.0C390.0 385.5 393.6 387.4 395.5 390.6C397.5 393.9 398.6 398.5 398.4 402.5C398.1 406.5 396.8 411.4 394.1 414.4C391.4 417.4 387.1 419.1 382.2 420.6C377.4 422.0 370.4 422.7 365.1 422.9C359.9 423.2 354.8 422.6 350.9 422.0C346.9 421.3 343.6 421.1 341.4 419.1C339.2 417.2 338.8 413.3 337.6 410.1C336.3 406.9 334.4 403.4 333.8 400.1C333.1 396.9 332.1 393.7 333.8 390.6Z" fill="#5c0c16" stroke="#8a1424" stroke-width="0.8" filter="url(#fB03)"/>
<g clip-path="url(#cL1)">
<ellipse cx="362.8" cy="396.6" rx="26" ry="19" fill="#28060a" opacity="0.9" filter="url(#fB4)"/>
<ellipse cx="346.1" cy="395.4" rx="8" ry="10" fill="#1c0408" opacity="0.7" filter="url(#fB2)"/>
<path d="M341.4 417.9Q365.1 425.1 391.3 415.6" stroke="#8a1424" stroke-width="3" fill="none" opacity="0.7" filter="url(#fB1)"/>
<ellipse cx="384.1" cy="385.9" rx="10" ry="5" fill="#7a1220" opacity="0.6" filter="url(#fB2)" transform="rotate(30 384.1 385.9)"/>
</g>
<path d="M415.0 390.6C415.0 386.7 415.4 381.9 417.4 378.8C419.4 375.6 422.5 373.4 426.9 371.6C431.2 369.9 439.2 369.3 443.5 368.3C447.9 367.3 449.1 365.7 453.0 365.7C457.0 365.6 462.5 366.7 467.3 368.1C472.0 369.4 477.2 371.4 481.5 374.0C485.9 376.6 490.6 379.9 493.4 383.5C496.2 387.1 497.7 391.0 498.1 395.4C498.6 399.7 498.1 405.5 496.2 409.6C494.3 413.8 490.4 417.7 486.7 420.3C483.1 422.9 478.4 423.8 474.4 425.3C470.4 426.8 466.9 427.7 462.5 429.1C458.2 430.5 453.0 433.3 448.3 433.9C443.5 434.4 438.0 433.7 434.0 432.4C430.1 431.2 426.7 429.3 424.5 426.3C422.3 423.3 422.1 418.3 421.0 414.4C419.8 410.4 418.4 406.5 417.4 402.5C416.4 398.5 415.0 394.6 415.0 390.6Z" fill="#841320" stroke="#a01828" stroke-width="0.8" filter="url(#fB03)"/>
<g clip-path="url(#cL2)">
<ellipse cx="431.6" cy="390.6" rx="18" ry="16" fill="#3a080e" opacity="0.85" filter="url(#fB4)"/>
<ellipse cx="448.3" cy="420.3" rx="24" ry="11" fill="#3a080e" opacity="0.7" filter="url(#fB4)"/>
<ellipse cx="424.5" cy="409.6" rx="6" ry="14" fill="#5a0c14" opacity="0.6" filter="url(#fB2)"/>
<ellipse cx="483.9" cy="400.1" rx="14" ry="16" fill="#c0222e" opacity="0.7" filter="url(#fB4)"/>
<ellipse cx="453.0" cy="376.4" rx="14" ry="7" fill="#c02a30" opacity="0.6" filter="url(#fB2)"/>
<ellipse cx="468.5" cy="394.2" rx="8" ry="6" fill="#d88070" opacity="0.6" filter="url(#fB2)"/>
<ellipse cx="449.5" cy="390.2" rx="6" ry="3" fill="#30060a" opacity="0.8" filter="url(#fB1)"/>
<ellipse cx="462.5" cy="385.9" rx="10" ry="4" fill="#b84048" opacity="0.6" filter="url(#fB2)"/>
</g>
<circle cx="438.8" cy="379.9" r="0.55" fill="#f8d0d0" opacity="0.85"/>
<circle cx="442.3" cy="381.6" r="0.55" fill="#f8d0d0" opacity="0.85"/>
<circle cx="445.9" cy="379.2" r="0.55" fill="#f8d0d0" opacity="0.85"/>
<circle cx="443.5" cy="385.9" r="0.55" fill="#f8d0d0" opacity="0.85"/>
<circle cx="450.2" cy="383.5" r="0.55" fill="#f8d0d0" opacity="0.85"/>
<circle cx="456.6" cy="383.0" r="0.55" fill="#f8d0d0" opacity="0.85"/>
<circle cx="449.5" cy="396.6" r="0.55" fill="#f8d0d0" opacity="0.85"/>
<circle cx="453.0" cy="397.8" r="0.55" fill="#f8d0d0" opacity="0.85"/>
<circle cx="464.9" cy="390.6" r="0.55" fill="#f8d0d0" opacity="0.85"/>
<circle cx="434.0" cy="388.3" r="0.55" fill="#f8d0d0" opacity="0.85"/>
<circle cx="349.7" cy="400.1" r="0.55" fill="#f8d0d0" opacity="0.85"/>
<circle cx="367.5" cy="388.3" r="0.55" fill="#f8d0d0" opacity="0.85"/>
<circle cx="355.6" cy="406.1" r="0.55" fill="#f8d0d0" opacity="0.85"/>
<circle cx="384.1" cy="406.1" r="0.55" fill="#f8d0d0" opacity="0.85"/>
</g>
<rect x="323.2" y="336" width="182" height="104.5" fill="none" stroke="#2a2a3a" stroke-width="0.7"/>
<line x1="414" y1="452" x2="414" y2="464.5" stroke="#111" stroke-width="2.1"/><path d="M410.3 463.5L414 470.5L417.7 463.5L414 465.0Z" fill="#111"/>
<text x="363.5" y="483.3" font-size="11.6" text-anchor="middle" fill="#1a1a1a" textLength="45" lengthAdjust="spacingAndGlyphs" stroke="#1a1a1a" stroke-width="0.2">AdV.GFP</text>
<text x="457" y="483.3" font-size="11.6" text-anchor="middle" fill="#1a1a1a" textLength="60" lengthAdjust="spacingAndGlyphs" stroke="#1a1a1a" stroke-width="0.2">AdV.sgPten</text>
<g clip-path="url(#cH1)"><rect x="317" y="488" width="97" height="70" fill="#a69a8a"/><rect x="317" y="488" width="97" height="70" filter="url(#fH1)"/>
<path d="M391 491q4 6 8 9q5 2 8 3q2 -1 -1 -3q-5 -1 -9 -6q-3 -5 -6 -3z" fill="#d8e2dc"/>
<path d="M379 538q3 -2 5 2q3 6 7 13q0 3 -3 2q-6 -5 -9 -13q-1 -3 0 -4z" fill="#d4e0da"/>
<ellipse cx="367" cy="492.5" rx="3" ry="2" fill="#d0dcd6"/><ellipse cx="359" cy="546" rx="2" ry="1.5" fill="#cfd8d0"/>
<path d="M319 555q6 -2 12 1" stroke="#d0dcd6" stroke-width="1.5" fill="none"/>
</g>
<g clip-path="url(#cH2)"><rect x="415" y="488" width="96" height="70" fill="#a4968c"/><rect x="415" y="488" width="96" height="70" filter="url(#fH2)"/>
<ellipse cx="494.5" cy="532" rx="2" ry="2.8" fill="#d8dce0"/><ellipse cx="507" cy="533" rx="2" ry="3" fill="#8a6a50" opacity="0.6"/>
<path d="M427 525l8 -6M428 535l8 -6" stroke="#1a1a1a" stroke-width="0.7"/><path d="M435.6 518.6l-2.6 0.5l1.5 1.8zM436.6 528.6l-2.6 0.5l1.5 1.8z" fill="#1a1a1a"/>
</g>
<g clip-path="url(#cH3)"><rect x="317" y="560" width="97" height="69" fill="#a83e8e"/><rect x="317" y="560" width="97" height="69" filter="url(#fH3)"/>
<ellipse cx="370.5" cy="594" rx="2.2" ry="2.8" fill="#f0e0ec"/><ellipse cx="351.5" cy="589.5" rx="3" ry="3.5" fill="none" stroke="#e0b0d0" stroke-width="0.9"/><ellipse cx="325" cy="620" rx="2.5" ry="3" fill="none" stroke="#e0a8cc" stroke-width="0.8"/>
</g>
<g clip-path="url(#cH4)"><rect x="415" y="560" width="96" height="69" fill="#a83c90"/><rect x="415" y="560" width="96" height="69" filter="url(#fH3)"/>
<circle cx="437.3" cy="624.5" r="0.7" fill="#ecc8e4" opacity="0.8" filter="url(#fB03)"/>
<circle cx="434.2" cy="563.9" r="0.7" fill="#ecc8e4" opacity="0.8" filter="url(#fB03)"/>
<circle cx="439.3" cy="626.9" r="0.7" fill="#ecc8e4" opacity="0.8" filter="url(#fB03)"/>
<circle cx="453.7" cy="563.0" r="0.9" fill="#ecc8e4" opacity="0.8" filter="url(#fB03)"/>
<circle cx="458.6" cy="593.7" r="0.7" fill="#ecc8e4" opacity="0.8" filter="url(#fB03)"/>
<circle cx="500.3" cy="587.6" r="0.9" fill="#ecc8e4" opacity="0.8" filter="url(#fB03)"/>
<circle cx="438.0" cy="562.3" r="0.8" fill="#ecc8e4" opacity="0.8" filter="url(#fB03)"/>
<circle cx="464.9" cy="592.3" r="0.9" fill="#ecc8e4" opacity="0.8" filter="url(#fB03)"/>
<circle cx="484.2" cy="604.8" r="0.6" fill="#ecc8e4" opacity="0.8" filter="url(#fB03)"/>
<circle cx="509.2" cy="565.2" r="1.1" fill="#ecc8e4" opacity="0.8" filter="url(#fB03)"/>
<circle cx="494.0" cy="568.1" r="0.6" fill="#ecc8e4" opacity="0.8" filter="url(#fB03)"/>
<circle cx="447.8" cy="606.6" r="0.9" fill="#ecc8e4" opacity="0.8" filter="url(#fB03)"/>
<circle cx="500.9" cy="595.1" r="0.7" fill="#ecc8e4" opacity="0.8" filter="url(#fB03)"/>
<circle cx="470.7" cy="570.4" r="0.6" fill="#ecc8e4" opacity="0.8" filter="url(#fB03)"/>
<circle cx="466.7" cy="563.5" r="1.4" fill="#ecc8e4" opacity="0.8" filter="url(#fB03)"/>
<circle cx="434.2" cy="623.4" r="1.1" fill="#ecc8e4" opacity="0.8" filter="url(#fB03)"/>
<circle cx="458.9" cy="599.6" r="0.9" fill="#ecc8e4" opacity="0.8" filter="url(#fB03)"/>
<circle cx="442.9" cy="584.5" r="0.9" fill="#ecc8e4" opacity="0.8" filter="url(#fB03)"/>
<circle cx="428.7" cy="611.4" r="0.6" fill="#ecc8e4" opacity="0.8" filter="url(#fB03)"/>
<circle cx="466.0" cy="581.7" r="0.8" fill="#ecc8e4" opacity="0.8" filter="url(#fB03)"/>
<circle cx="505.3" cy="616.7" r="1.1" fill="#ecc8e4" opacity="0.8" filter="url(#fB03)"/>
<circle cx="474.7" cy="581.4" r="0.8" fill="#ecc8e4" opacity="0.8" filter="url(#fB03)"/>
<circle cx="465.7" cy="594.6" r="0.6" fill="#ecc8e4" opacity="0.8" filter="url(#fB03)"/>
<circle cx="492.0" cy="617.5" r="1.4" fill="#ecc8e4" opacity="0.8" filter="url(#fB03)"/>
<circle cx="467.2" cy="583.7" r="0.6" fill="#ecc8e4" opacity="0.8" filter="url(#fB03)"/>
<circle cx="443.8" cy="575.5" r="0.6" fill="#ecc8e4" opacity="0.8" filter="url(#fB03)"/>
<circle cx="455.8" cy="585.9" r="1.4" fill="#ecc8e4" opacity="0.8" filter="url(#fB03)"/>
<circle cx="499.8" cy="572.6" r="0.9" fill="#ecc8e4" opacity="0.8" filter="url(#fB03)"/>
<circle cx="426.9" cy="622.5" r="0.6" fill="#ecc8e4" opacity="0.8" filter="url(#fB03)"/>
<circle cx="435.0" cy="611.6" r="0.8" fill="#ecc8e4" opacity="0.8" filter="url(#fB03)"/>
<circle cx="426.9" cy="613.6" r="0.9" fill="#ecc8e4" opacity="0.8" filter="url(#fB03)"/>
<circle cx="448.1" cy="572.2" r="0.9" fill="#ecc8e4" opacity="0.8" filter="url(#fB03)"/>
<circle cx="501.1" cy="570.2" r="1.1" fill="#ecc8e4" opacity="0.8" filter="url(#fB03)"/>
<circle cx="457.9" cy="588.6" r="1.1" fill="#ecc8e4" opacity="0.8" filter="url(#fB03)"/>
<circle cx="422.6" cy="608.3" r="0.6" fill="#ecc8e4" opacity="0.8" filter="url(#fB03)"/>
<circle cx="424.0" cy="568.0" r="1.1" fill="#ecc8e4" opacity="0.8" filter="url(#fB03)"/>
<circle cx="465.6" cy="571.1" r="1.1" fill="#ecc8e4" opacity="0.8" filter="url(#fB03)"/>
<circle cx="461.9" cy="570.8" r="1.1" fill="#ecc8e4" opacity="0.8" filter="url(#fB03)"/>
<circle cx="421.9" cy="562.1" r="0.7" fill="#ecc8e4" opacity="0.8" filter="url(#fB03)"/>
<circle cx="448.0" cy="604.4" r="0.6" fill="#ecc8e4" opacity="0.8" filter="url(#fB03)"/>
<circle cx="485.9" cy="584.2" r="0.8" fill="#ecc8e4" opacity="0.8" filter="url(#fB03)"/>
<circle cx="416.3" cy="616.2" r="0.7" fill="#ecc8e4" opacity="0.8" filter="url(#fB03)"/>
<circle cx="421.7" cy="601.7" r="1.1" fill="#ecc8e4" opacity="0.8" filter="url(#fB03)"/>
<circle cx="432.2" cy="583.3" r="0.9" fill="#ecc8e4" opacity="0.8" filter="url(#fB03)"/>
<circle cx="457.5" cy="566.5" r="1.1" fill="#ecc8e4" opacity="0.8" filter="url(#fB03)"/>
<circle cx="437.1" cy="614.6" r="0.7" fill="#ecc8e4" opacity="0.8" filter="url(#fB03)"/>
<circle cx="451.8" cy="568.2" r="1.4" fill="#ecc8e4" opacity="0.8" filter="url(#fB03)"/>
<circle cx="458.6" cy="569.3" r="0.9" fill="#ecc8e4" opacity="0.8" filter="url(#fB03)"/>
<circle cx="464.4" cy="567.0" r="0.9" fill="#ecc8e4" opacity="0.8" filter="url(#fB03)"/>
<circle cx="469.0" cy="614.9" r="0.9" fill="#ecc8e4" opacity="0.8" filter="url(#fB03)"/>
<circle cx="437.2" cy="574.0" r="0.9" fill="#ecc8e4" opacity="0.8" filter="url(#fB03)"/>
<circle cx="426.5" cy="574.9" r="0.6" fill="#ecc8e4" opacity="0.8" filter="url(#fB03)"/>
<circle cx="482.6" cy="601.4" r="0.6" fill="#ecc8e4" opacity="0.8" filter="url(#fB03)"/>
<circle cx="477.6" cy="615.7" r="1.1" fill="#ecc8e4" opacity="0.8" filter="url(#fB03)"/>
<circle cx="424.8" cy="624.9" r="1.1" fill="#ecc8e4" opacity="0.8" filter="url(#fB03)"/>
<circle cx="463.2" cy="607.5" r="0.7" fill="#ecc8e4" opacity="0.8" filter="url(#fB03)"/>
<circle cx="463.1" cy="582.4" r="0.9" fill="#ecc8e4" opacity="0.8" filter="url(#fB03)"/>
<circle cx="485.9" cy="603.7" r="0.6" fill="#ecc8e4" opacity="0.8" filter="url(#fB03)"/>
<circle cx="443.2" cy="580.6" r="0.6" fill="#ecc8e4" opacity="0.8" filter="url(#fB03)"/>
<circle cx="485.9" cy="622.2" r="0.9" fill="#ecc8e4" opacity="0.8" filter="url(#fB03)"/>
<circle cx="437.0" cy="580.6" r="1.1" fill="#ecc8e4" opacity="0.8" filter="url(#fB03)"/>
<circle cx="455.4" cy="610.1" r="1.4" fill="#ecc8e4" opacity="0.8" filter="url(#fB03)"/>
<circle cx="495.9" cy="595.1" r="1.4" fill="#ecc8e4" opacity="0.8" filter="url(#fB03)"/>
<circle cx="494.1" cy="584.6" r="0.8" fill="#ecc8e4" opacity="0.8" filter="url(#fB03)"/>
<circle cx="477.2" cy="568.2" r="0.9" fill="#ecc8e4" opacity="0.8" filter="url(#fB03)"/>
<circle cx="450.8" cy="624.3" r="0.8" fill="#ecc8e4" opacity="0.8" filter="url(#fB03)"/>
<circle cx="435.3" cy="587.2" r="0.9" fill="#ecc8e4" opacity="0.8" filter="url(#fB03)"/>
<circle cx="495.2" cy="606.2" r="1.4" fill="#ecc8e4" opacity="0.8" filter="url(#fB03)"/>
<circle cx="484.4" cy="615.2" r="1.1" fill="#ecc8e4" opacity="0.8" filter="url(#fB03)"/>
<circle cx="471.0" cy="605.4" r="0.7" fill="#ecc8e4" opacity="0.8" filter="url(#fB03)"/>
<ellipse cx="476.5" cy="601.5" rx="4.2" ry="6" fill="#f4ecf2" transform="rotate(-20 476.5 601.5)"/><path d="M441 613q2 -2 4 0l1 4l-3 1l-2 4l-1 -5z" fill="#f0e4ee"/><circle cx="489.5" cy="565" r="2.2" fill="#f0e0ec"/>
<ellipse cx="467" cy="617" rx="3" ry="2.5" fill="none" stroke="#e0a8cc" stroke-width="0.8"/>
<path d="M420.5 615.5l6 -6.5M428.5 614.5l6.5 -6" stroke="#1a1a1a" stroke-width="0.9"/><path d="M427.3 608.2l-3 0.8l2 2zM435.8 607.8l-3 0.8l2 2z" fill="#1a1a1a"/>
</g>
<rect x="317.4" y="488.7" width="95.6" height="68.3" fill="none" stroke="#555" stroke-width="0.7"/>
<rect x="415.2" y="488.7" width="95.3" height="68.3" fill="none" stroke="#555" stroke-width="0.7"/>
<rect x="317.4" y="560.3" width="95.6" height="68" fill="none" stroke="#555" stroke-width="0.7"/>
<rect x="415.2" y="560.3" width="95.3" height="68" fill="none" stroke="#555" stroke-width="0.7"/>
<rect x="356.8" y="546.5" width="21.5" height="10.3" fill="#fff"/>
<text x="367.5" y="555.3" font-size="8.8" text-anchor="middle" fill="#111" textLength="18.5" lengthAdjust="spacingAndGlyphs">Pten</text>
<rect x="356.8" y="617.5" width="21.5" height="10.3" fill="#fff"/>
<text x="367.5" y="626.3" font-size="8.8" text-anchor="middle" fill="#111" textLength="18.5" lengthAdjust="spacingAndGlyphs">H&amp;E</text>
<line x1="399" y1="553" x2="408" y2="553" stroke="#eee" stroke-width="0.7"/>
<line x1="498" y1="553" x2="507" y2="553" stroke="#eee" stroke-width="0.7"/>
<line x1="395" y1="625" x2="404" y2="625" stroke="#eee" stroke-width="0.7"/>
<line x1="497" y1="624.5" x2="506" y2="624.5" stroke="#eee" stroke-width="0.7"/>
</g>
<g id="pE">
<text x="527" y="16" font-size="12.5" fill="#1a1a1a" textLength="17.5" lengthAdjust="spacingAndGlyphs">(E)</text>
<text x="540.5" y="44.3" font-size="10.6" font-weight="bold" fill="#111">1</text>
<text x="558" y="40.3" font-size="7.6" fill="#1c1c1c" textLength="50" lengthAdjust="spacingAndGlyphs">sgRNA library</text>
<text x="558" y="50.6" font-size="7.6" fill="#1c1c1c" textLength="52" lengthAdjust="spacingAndGlyphs">synthesis on a</text>
<text x="558" y="60.8" font-size="7.6" fill="#1c1c1c" textLength="14.5" lengthAdjust="spacingAndGlyphs">chip</text>
<polygon points="595.8,87.1 695.4,87.1 695.4,89.7 595.8,89.7" fill="#94a2ae"/>
<polygon points="631.2,40.5 734.2,40.5 695.4,87.1 595.8,87.1" fill="url(#gChip)"/>
<path d="M643.1 42.2C642.6 29.7 648.6 34.7 646.9 28.7S651.3 27.7 650.8 15.2" fill="none" stroke="#c0203a" stroke-width="2.3" stroke-linecap="round"/>
<path d="M632.9 50.6C632.4 39.5 638.4 44.5 635.8 38.5S639.2 37.5 638.7 26.3" fill="none" stroke="#90c468" stroke-width="2.3" stroke-linecap="round"/>
<path d="M671.7 43.9C671.2 32.2 677.2 37.2 675.1 31.2S679.0 30.2 678.5 18.6" fill="none" stroke="#3090d0" stroke-width="2.3" stroke-linecap="round"/>
<path d="M698.7 42.2C698.2 30.2 704.2 35.2 702.1 29.2S706.0 28.2 705.5 16.2" fill="none" stroke="#10606c" stroke-width="2.3" stroke-linecap="round"/>
<path d="M720.7 45.6C720.2 33.4 726.2 38.4 724.1 32.4S727.9 31.4 727.4 19.2" fill="none" stroke="#b8a8d4" stroke-width="2.3" stroke-linecap="round"/>
<path d="M622.8 66.8C622.3 54.7 628.3 59.7 626.5 53.7S630.7 52.7 630.2 40.5" fill="none" stroke="#109858" stroke-width="2.3" stroke-linecap="round"/>
<path d="M657.6 55.7C657.1 43.7 663.1 48.7 660.8 42.7S664.5 41.7 664.0 29.7" fill="none" stroke="#603486" stroke-width="2.3" stroke-linecap="round"/>
<path d="M685.2 59.1C684.7 47.4 690.7 52.4 689.0 46.4S693.2 45.4 692.7 33.7" fill="none" stroke="#703c94" stroke-width="2.3" stroke-linecap="round"/>
<path d="M712.9 57.4C712.4 45.2 718.4 50.2 716.3 44.2S720.2 43.2 719.7 31.0" fill="none" stroke="#f0b4c4" stroke-width="2.3" stroke-linecap="round"/>
<path d="M645.4 65.8C644.9 55.0 650.9 60.0 648.8 54.0S652.7 53.0 652.2 42.2" fill="none" stroke="#20a4d4" stroke-width="2.3" stroke-linecap="round"/>
<path d="M609.3 81.0C608.8 68.5 614.8 73.5 612.2 67.5S615.5 66.5 615.0 54.0" fill="none" stroke="#d03454" stroke-width="2.3" stroke-linecap="round"/>
<path d="M637.3 81.0C636.8 69.3 642.8 74.3 640.2 68.3S643.6 67.3 643.1 55.7" fill="none" stroke="#e8e488" stroke-width="2.3" stroke-linecap="round"/>
<path d="M659.9 81.0C659.4 68.5 665.4 73.5 663.3 67.5S667.2 66.5 666.7 54.0" fill="none" stroke="#f0a848" stroke-width="2.3" stroke-linecap="round"/>
<path d="M671.7 69.2C671.2 58.4 677.2 63.4 674.8 57.4S678.3 56.4 677.8 45.6" fill="none" stroke="#88a858" stroke-width="2.3" stroke-linecap="round"/>
<path d="M685.2 82.7C684.7 71.4 690.7 76.4 689.0 70.4S693.2 69.4 692.7 58.0" fill="none" stroke="#a8a4a8" stroke-width="2.3" stroke-linecap="round"/>
<path d="M699.8 73.6C699.3 62.3 705.3 67.3 703.0 61.3S706.7 60.3 706.2 48.9" fill="none" stroke="#868658" stroke-width="2.3" stroke-linecap="round"/>
<rect x="652.3" y="89.8" width="3.4" height="16.700000000000003" fill="url(#gArr)"/><path d="M650.3 105.5L654 110.5L657.7 105.5L654 106.7Z" fill="#24242c"/>
<text x="581" y="102.6" font-size="6.4" fill="#1c1c1c" textLength="55" lengthAdjust="spacingAndGlyphs">Oligo detachment</text>
<line x1="582" y1="112" x2="680" y2="112" stroke="#e03044" stroke-width="1.9"/>
<line x1="589" y1="119.2" x2="687" y2="119.2" stroke="#10a050" stroke-width="1.9"/>
<line x1="596" y1="126.4" x2="694" y2="126.4" stroke="#88c448" stroke-width="1.9"/>
<line x1="603" y1="133.4" x2="701" y2="133.4" stroke="#d82838" stroke-width="1.9"/>
<line x1="610" y1="140.2" x2="708" y2="140.2" stroke="#20b0d8" stroke-width="1.9"/>
<text x="734" y="124.6" font-size="7.6" fill="#1c1c1c" textLength="45" lengthAdjust="spacingAndGlyphs">sgRNA oligo</text>
<text x="734" y="135" font-size="7.6" fill="#1c1c1c" textLength="24.5" lengthAdjust="spacingAndGlyphs">library.</text>
<text x="540.5" y="160.5" font-size="10.6" font-weight="bold" fill="#111">2</text>
<text x="585" y="159.6" font-size="7.6" fill="#1c1c1c" textLength="60.5" lengthAdjust="spacingAndGlyphs">PCR and cloning</text>
<rect x="652.3" y="144.5" width="3.4" height="16.69999999999999" fill="url(#gArr)"/><path d="M650.3 160.2L654 165.2L657.7 160.2L654 161.39999999999998Z" fill="#24242c"/>
<ellipse cx="646" cy="190.5" rx="87" ry="19.8" fill="none" stroke="#1f4f94" stroke-width="1.9"/>
<path d="M597 172.4Q615 170.9 634 170.8" fill="none" stroke="#2a78c0" stroke-width="2.2"/>
<path d="M629 167.6L636.5 170.8L629 174Z" fill="#2a78c0"/>
<path d="M635.5 170.7Q665 170.2 695 172.3" fill="none" stroke="#e03040" stroke-width="2.2"/>
<text x="615.5" y="180.2" font-size="5.6" text-anchor="middle" fill="#333" textLength="36.5" lengthAdjust="spacingAndGlyphs" style="font-family:'DejaVu Sans','Liberation Sans',sans-serif">U6 promoter</text>
<text x="661" y="180.2" font-size="5.6" text-anchor="middle" fill="#333" textLength="20.5" lengthAdjust="spacingAndGlyphs" style="font-family:'DejaVu Sans','Liberation Sans',sans-serif">sgRNAs</text>
<text x="640.5" y="196.8" font-size="6.6" text-anchor="middle" font-weight="bold" fill="#111" textLength="35.5" lengthAdjust="spacingAndGlyphs" style="font-family:'DejaVu Sans','Liberation Sans',sans-serif">pLB vector</text>
<text x="736" y="186.5" font-size="7.6" fill="#1c1c1c" textLength="52.5" lengthAdjust="spacingAndGlyphs">Pooled sgRNA</text>
<text x="736" y="197" font-size="7.6" fill="#1c1c1c" textLength="52" lengthAdjust="spacingAndGlyphs">library in pLB.</text>
<text x="559" y="227.6" font-size="7.6" fill="#1c1c1c" textLength="87" lengthAdjust="spacingAndGlyphs">Packaging into lentivirus</text>
<rect x="652.3" y="215" width="3.4" height="15.599999999999994" fill="url(#gArr)"/><path d="M650.3 229.6L654 234.6L657.7 229.6L654 230.79999999999998Z" fill="#24242c"/>
<polygon points="577.0,234.6 580.0,237.6 584.4,237.6 584.4,242.0 587.4,245.0 584.4,248.0 584.4,252.4 580.0,252.4 577.0,255.4 574.0,252.4 569.6,252.4 569.6,248.0 566.6,245.0 569.6,242.0 569.6,237.6 574.0,237.6" fill="#1e8c5a" stroke="#156e46" stroke-width="0.4"/><circle cx="577" cy="245" r="6.9" fill="none" stroke="#3aa878" stroke-width="0.5"/><circle cx="577" cy="245" r="6.1" fill="#1d2f70"/><path d="M572.0 242.6A5.5 5.5 0 0 1 582.0 242.6" fill="none" stroke="#c03030" stroke-width="1.8"/><circle cx="577" cy="245.3" r="4.3" fill="#fdfdff"/>
<polygon points="601.3,235.9 604.3,238.9 608.7,238.9 608.7,243.3 611.7,246.3 608.7,249.3 608.7,253.7 604.3,253.7 601.3,256.7 598.3,253.7 593.9,253.7 593.9,249.3 590.9,246.3 593.9,243.3 593.9,238.9 598.3,238.9" fill="#1e8c5a" stroke="#156e46" stroke-width="0.4"/><circle cx="601.3" cy="246.3" r="6.9" fill="none" stroke="#3aa878" stroke-width="0.5"/><circle cx="601.3" cy="246.3" r="6.1" fill="#1d2f70"/><path d="M596.3 243.9A5.5 5.5 0 0 1 606.3 243.9" fill="none" stroke="#d0a090" stroke-width="1.8"/><circle cx="601.3" cy="246.60000000000002" r="4.3" fill="#fdfdff"/>
<polygon points="627.5,232.6 630.5,235.6 634.9,235.6 634.9,240.0 637.9,243.0 634.9,246.0 634.9,250.4 630.5,250.4 627.5,253.4 624.5,250.4 620.1,250.4 620.1,246.0 617.1,243.0 620.1,240.0 620.1,235.6 624.5,235.6" fill="#1e8c5a" stroke="#156e46" stroke-width="0.4"/><circle cx="627.5" cy="243" r="6.9" fill="none" stroke="#3aa878" stroke-width="0.5"/><circle cx="627.5" cy="243" r="6.1" fill="#1d2f70"/><path d="M622.5 240.6A5.5 5.5 0 0 1 632.5 240.6" fill="none" stroke="#e8d840" stroke-width="1.8"/><circle cx="627.5" cy="243.3" r="4.3" fill="#fdfdff"/>
<polygon points="650.8,238.4 653.8,241.4 658.2,241.4 658.2,245.8 661.2,248.8 658.2,251.8 658.2,256.2 653.8,256.2 650.8,259.2 647.8,256.2 643.4,256.2 643.4,251.8 640.4,248.8 643.4,245.8 643.4,241.4 647.8,241.4" fill="#1e8c5a" stroke="#156e46" stroke-width="0.4"/><circle cx="650.8" cy="248.8" r="6.9" fill="none" stroke="#3aa878" stroke-width="0.5"/><circle cx="650.8" cy="248.8" r="6.1" fill="#1d2f70"/><path d="M645.8 246.4A5.5 5.5 0 0 1 655.8 246.4" fill="none" stroke="#7030a0" stroke-width="1.8"/><circle cx="650.8" cy="249.10000000000002" r="4.3" fill="#fdfdff"/>
<polygon points="671.8,231.6 674.8,234.6 679.2,234.6 679.2,239.0 682.2,242.0 679.2,245.0 679.2,249.4 674.8,249.4 671.8,252.4 668.8,249.4 664.4,249.4 664.4,245.0 661.4,242.0 664.4,239.0 664.4,234.6 668.8,234.6" fill="#1e8c5a" stroke="#156e46" stroke-width="0.4"/><circle cx="671.8" cy="242" r="6.9" fill="none" stroke="#3aa878" stroke-width="0.5"/><circle cx="671.8" cy="242" r="6.1" fill="#1d2f70"/><path d="M666.8 239.6A5.5 5.5 0 0 1 676.8 239.6" fill="none" stroke="#e05060" stroke-width="1.8"/><circle cx="671.8" cy="242.3" r="4.3" fill="#fdfdff"/>
<polygon points="695.0,228.9 698.0,231.9 702.4,231.9 702.4,236.3 705.4,239.3 702.4,242.3 702.4,246.7 698.0,246.7 695.0,249.7 692.0,246.7 687.6,246.7 687.6,242.3 684.6,239.3 687.6,236.3 687.6,231.9 692.0,231.9" fill="#1e8c5a" stroke="#156e46" stroke-width="0.4"/><circle cx="695" cy="239.3" r="6.9" fill="none" stroke="#3aa878" stroke-width="0.5"/><circle cx="695" cy="239.3" r="6.1" fill="#1d2f70"/><path d="M690.0 236.9A5.5 5.5 0 0 1 700.0 236.9" fill="none" stroke="#d0b8a0" stroke-width="1.8"/><circle cx="695" cy="239.60000000000002" r="4.3" fill="#fdfdff"/>
<polygon points="718.0,235.4 721.0,238.4 725.4,238.4 725.4,242.8 728.4,245.8 725.4,248.8 725.4,253.2 721.0,253.2 718.0,256.2 715.0,253.2 710.6,253.2 710.6,248.8 707.6,245.8 710.6,242.8 710.6,238.4 715.0,238.4" fill="#1e8c5a" stroke="#156e46" stroke-width="0.4"/><circle cx="718" cy="245.8" r="6.9" fill="none" stroke="#3aa878" stroke-width="0.5"/><circle cx="718" cy="245.8" r="6.1" fill="#1d2f70"/><path d="M713.0 243.4A5.5 5.5 0 0 1 723.0 243.4" fill="none" stroke="#b0b0b0" stroke-width="1.8"/><circle cx="718" cy="246.10000000000002" r="4.3" fill="#fdfdff"/>
<polygon points="577.0,255.4 580.0,258.4 584.4,258.4 584.4,262.8 587.4,265.8 584.4,268.8 584.4,273.2 580.0,273.2 577.0,276.2 574.0,273.2 569.6,273.2 569.6,268.8 566.6,265.8 569.6,262.8 569.6,258.4 574.0,258.4" fill="#1e8c5a" stroke="#156e46" stroke-width="0.4"/><circle cx="577" cy="265.8" r="6.9" fill="none" stroke="#3aa878" stroke-width="0.5"/><circle cx="577" cy="265.8" r="6.1" fill="#1d2f70"/><path d="M572.0 263.4A5.5 5.5 0 0 1 582.0 263.4" fill="none" stroke="#b0c030" stroke-width="1.8"/><circle cx="577" cy="266.1" r="4.3" fill="#fdfdff"/>
<polygon points="601.3,259.6 604.3,262.6 608.7,262.6 608.7,267.0 611.7,270.0 608.7,273.0 608.7,277.4 604.3,277.4 601.3,280.4 598.3,277.4 593.9,277.4 593.9,273.0 590.9,270.0 593.9,267.0 593.9,262.6 598.3,262.6" fill="#1e8c5a" stroke="#156e46" stroke-width="0.4"/><circle cx="601.3" cy="270" r="6.9" fill="none" stroke="#3aa878" stroke-width="0.5"/><circle cx="601.3" cy="270" r="6.1" fill="#1d2f70"/><path d="M596.3 267.6A5.5 5.5 0 0 1 606.3 267.6" fill="none" stroke="#d04040" stroke-width="1.8"/><circle cx="601.3" cy="270.3" r="4.3" fill="#fdfdff"/>
<polygon points="627.5,255.4 630.5,258.4 634.9,258.4 634.9,262.8 637.9,265.8 634.9,268.8 634.9,273.2 630.5,273.2 627.5,276.2 624.5,273.2 620.1,273.2 620.1,268.8 617.1,265.8 620.1,262.8 620.1,258.4 624.5,258.4" fill="#1e8c5a" stroke="#156e46" stroke-width="0.4"/><circle cx="627.5" cy="265.8" r="6.9" fill="none" stroke="#3aa878" stroke-width="0.5"/><circle cx="627.5" cy="265.8" r="6.1" fill="#1d2f70"/><path d="M622.5 263.4A5.5 5.5 0 0 1 632.5 263.4" fill="none" stroke="#20a0c0" stroke-width="1.8"/><circle cx="627.5" cy="266.1" r="4.3" fill="#fdfdff"/>
<polygon points="650.8,259.1 653.8,262.1 658.2,262.1 658.2,266.5 661.2,269.5 658.2,272.5 658.2,276.9 653.8,276.9 650.8,279.9 647.8,276.9 643.4,276.9 643.4,272.5 640.4,269.5 643.4,266.5 643.4,262.1 647.8,262.1" fill="#1e8c5a" stroke="#156e46" stroke-width="0.4"/><circle cx="650.8" cy="269.5" r="6.9" fill="none" stroke="#3aa878" stroke-width="0.5"/><circle cx="650.8" cy="269.5" r="6.1" fill="#1d2f70"/><path d="M645.8 267.1A5.5 5.5 0 0 1 655.8 267.1" fill="none" stroke="#c0a0c0" stroke-width="1.8"/><circle cx="650.8" cy="269.8" r="4.3" fill="#fdfdff"/>
<polygon points="671.8,258.4 674.8,261.4 679.2,261.4 679.2,265.8 682.2,268.8 679.2,271.8 679.2,276.2 674.8,276.2 671.8,279.2 668.8,276.2 664.4,276.2 664.4,271.8 661.4,268.8 664.4,265.8 664.4,261.4 668.8,261.4" fill="#1e8c5a" stroke="#156e46" stroke-width="0.4"/><circle cx="671.8" cy="268.8" r="6.9" fill="none" stroke="#3aa878" stroke-width="0.5"/><circle cx="671.8" cy="268.8" r="6.1" fill="#1d2f70"/><path d="M666.8 266.4A5.5 5.5 0 0 1 676.8 266.4" fill="none" stroke="#e09090" stroke-width="1.8"/><circle cx="671.8" cy="269.1" r="4.3" fill="#fdfdff"/>
<polygon points="695.0,255.4 698.0,258.4 702.4,258.4 702.4,262.8 705.4,265.8 702.4,268.8 702.4,273.2 698.0,273.2 695.0,276.2 692.0,273.2 687.6,273.2 687.6,268.8 684.6,265.8 687.6,262.8 687.6,258.4 692.0,258.4" fill="#1e8c5a" stroke="#156e46" stroke-width="0.4"/><circle cx="695" cy="265.8" r="6.9" fill="none" stroke="#3aa878" stroke-width="0.5"/><circle cx="695" cy="265.8" r="6.1" fill="#1d2f70"/><path d="M690.0 263.4A5.5 5.5 0 0 1 700.0 263.4" fill="none" stroke="#90c0d0" stroke-width="1.8"/><circle cx="695" cy="266.1" r="4.3" fill="#fdfdff"/>
<polygon points="718.0,255.9 721.0,258.9 725.4,258.9 725.4,263.3 728.4,266.3 725.4,269.3 725.4,273.7 721.0,273.7 718.0,276.7 715.0,273.7 710.6,273.7 710.6,269.3 707.6,266.3 710.6,263.3 710.6,258.9 715.0,258.9" fill="#1e8c5a" stroke="#156e46" stroke-width="0.4"/><circle cx="718" cy="266.3" r="6.9" fill="none" stroke="#3aa878" stroke-width="0.5"/><circle cx="718" cy="266.3" r="6.1" fill="#1d2f70"/><path d="M713.0 263.9A5.5 5.5 0 0 1 723.0 263.9" fill="none" stroke="#e0c030" stroke-width="1.8"/><circle cx="718" cy="266.6" r="4.3" fill="#fdfdff"/>
<text x="736" y="246.8" font-size="7.6" fill="#1c1c1c" textLength="57.5" lengthAdjust="spacingAndGlyphs">Pooled lentiviral</text>
<text x="736" y="257.3" font-size="7.6" fill="#1c1c1c" textLength="51" lengthAdjust="spacingAndGlyphs">sgRNA library.</text>
<text x="540.5" y="299.5" font-size="10.6" font-weight="bold" fill="#111">3</text>
<text x="582" y="297.8" font-size="7.6" fill="#1c1c1c" textLength="56.5" lengthAdjust="spacingAndGlyphs">Transduce cells</text>
<rect x="652.3" y="283.3" width="3.4" height="16.30000000000001" fill="url(#gArr)"/><path d="M650.3 298.6L654 303.6L657.7 298.6L654 299.8Z" fill="#24242c"/>
<ellipse cx="633.8" cy="334.9" rx="80.4" ry="28.8" fill="#fefefe" stroke="#4a80b8" stroke-width="0.8"/><ellipse cx="633.8" cy="345.9" rx="80.4" ry="28.8" fill="none" stroke="#4a80b8" stroke-width="0.8"/><ellipse cx="601.2" cy="323.7" rx="4.1" ry="3.5" fill="#f3b08e"/><circle cx="601.2" cy="323.7" r="1.45" fill="#1c0c08"/><ellipse cx="613.3" cy="323.9" rx="4.1" ry="3.5" fill="#f3b08e"/><circle cx="613.3" cy="323.9" r="1.45" fill="#1c0c08"/><ellipse cx="625.7" cy="322.4" rx="4.1" ry="3.5" fill="#f3b08e"/><circle cx="625.7" cy="322.4" r="1.45" fill="#1c0c08"/><ellipse cx="635.5" cy="324.5" rx="4.1" ry="3.5" fill="#f3b08e"/><circle cx="635.5" cy="324.5" r="1.45" fill="#1c0c08"/><ellipse cx="647.9" cy="322.9" rx="4.1" ry="3.5" fill="#f3b08e"/><circle cx="647.9" cy="322.9" r="1.45" fill="#1c0c08"/><ellipse cx="661.8" cy="323.5" rx="4.1" ry="3.5" fill="#f3b08e"/><circle cx="661.8" cy="323.5" r="1.45" fill="#1c0c08"/><ellipse cx="673.0" cy="323.5" rx="4.1" ry="3.5" fill="#f3b08e"/><circle cx="673.0" cy="323.5" r="1.45" fill="#1c0c08"/><ellipse cx="573.4" cy="330.5" rx="4.1" ry="3.5" fill="#f3b08e"/><circle cx="573.4" cy="330.5" r="1.45" fill="#1c0c08"/><ellipse cx="585.2" cy="332.5" rx="4.1" ry="3.5" fill="#f3b08e"/><circle cx="585.2" cy="332.5" r="1.45" fill="#1c0c08"/><ellipse cx="596.7" cy="332.2" rx="4.1" ry="3.5" fill="#f3b08e"/><circle cx="596.7" cy="332.2" r="1.45" fill="#1c0c08"/><ellipse cx="608.9" cy="330.3" rx="4.1" ry="3.5" fill="#f3b08e"/><circle cx="608.9" cy="330.3" r="1.45" fill="#1c0c08"/><ellipse cx="621.0" cy="331.8" rx="4.1" ry="3.5" fill="#f3b08e"/><circle cx="621.0" cy="331.8" r="1.45" fill="#1c0c08"/><ellipse cx="631.4" cy="330.2" rx="4.1" ry="3.5" fill="#f3b08e"/><circle cx="631.4" cy="330.2" r="1.45" fill="#1c0c08"/><ellipse cx="644.9" cy="331.4" rx="4.1" ry="3.5" fill="#f3b08e"/><circle cx="644.9" cy="331.4" r="1.45" fill="#1c0c08"/><ellipse cx="656.3" cy="332.6" rx="4.1" ry="3.5" fill="#f3b08e"/><circle cx="656.3" cy="332.6" r="1.45" fill="#1c0c08"/><ellipse cx="668.0" cy="332.7" rx="4.1" ry="3.5" fill="#f3b08e"/><circle cx="668.0" cy="332.7" r="1.45" fill="#1c0c08"/><ellipse cx="678.9" cy="332.3" rx="4.1" ry="3.5" fill="#f3b08e"/><circle cx="678.9" cy="332.3" r="1.45" fill="#1c0c08"/><ellipse cx="690.8" cy="332.7" rx="4.1" ry="3.5" fill="#f3b08e"/><circle cx="690.8" cy="332.7" r="1.45" fill="#1c0c08"/><ellipse cx="561.1" cy="340.5" rx="4.1" ry="3.5" fill="#f3b08e"/><circle cx="561.1" cy="340.5" r="1.45" fill="#1c0c08"/><ellipse cx="570.8" cy="340.8" rx="4.1" ry="3.5" fill="#f3b08e"/><circle cx="570.8" cy="340.8" r="1.45" fill="#1c0c08"/><ellipse cx="585.2" cy="341.4" rx="4.1" ry="3.5" fill="#f3b08e"/><circle cx="585.2" cy="341.4" r="1.45" fill="#1c0c08"/><ellipse cx="596.1" cy="341.0" rx="4.1" ry="3.5" fill="#f3b08e"/><circle cx="596.1" cy="341.0" r="1.45" fill="#1c0c08"/><ellipse cx="607.7" cy="341.3" rx="4.1" ry="3.5" fill="#f3b08e"/><circle cx="607.7" cy="341.3" r="1.45" fill="#1c0c08"/><ellipse cx="619.1" cy="341.8" rx="4.1" ry="3.5" fill="#f3b08e"/><circle cx="619.1" cy="341.8" r="1.45" fill="#1c0c08"/><ellipse cx="631.8" cy="342.7" rx="4.1" ry="3.5" fill="#f3b08e"/><circle cx="631.8" cy="342.7" r="1.45" fill="#1c0c08"/><ellipse cx="644.0" cy="342.8" rx="4.1" ry="3.5" fill="#f3b08e"/><circle cx="644.0" cy="342.8" r="1.45" fill="#1c0c08"/><ellipse cx="656.4" cy="343.0" rx="4.1" ry="3.5" fill="#f3b08e"/><circle cx="656.4" cy="343.0" r="1.45" fill="#1c0c08"/><ellipse cx="667.8" cy="340.7" rx="4.1" ry="3.5" fill="#f3b08e"/><circle cx="667.8" cy="340.7" r="1.45" fill="#1c0c08"/><ellipse cx="680.2" cy="342.9" rx="4.1" ry="3.5" fill="#f3b08e"/><circle cx="680.2" cy="342.9" r="1.45" fill="#1c0c08"/><ellipse cx="692.3" cy="341.8" rx="4.1" ry="3.5" fill="#f3b08e"/><circle cx="692.3" cy="341.8" r="1.45" fill="#1c0c08"/><ellipse cx="703.6" cy="340.8" rx="4.1" ry="3.5" fill="#f3b08e"/><circle cx="703.6" cy="340.8" r="1.45" fill="#1c0c08"/><ellipse cx="572.0" cy="352.0" rx="4.1" ry="3.5" fill="#f3b08e"/><circle cx="572.0" cy="352.0" r="1.45" fill="#1c0c08"/><ellipse cx="582.3" cy="350.6" rx="4.1" ry="3.5" fill="#f3b08e"/><circle cx="582.3" cy="350.6" r="1.45" fill="#1c0c08"/><ellipse cx="595.9" cy="353.2" rx="4.1" ry="3.5" fill="#f3b08e"/><circle cx="595.9" cy="353.2" r="1.45" fill="#1c0c08"/><ellipse cx="605.5" cy="352.6" rx="4.1" ry="3.5" fill="#f3b08e"/><circle cx="605.5" cy="352.6" r="1.45" fill="#1c0c08"/><ellipse cx="618.4" cy="350.8" rx="4.1" ry="3.5" fill="#f3b08e"/><circle cx="618.4" cy="350.8" r="1.45" fill="#1c0c08"/><ellipse cx="629.9" cy="352.6" rx="4.1" ry="3.5" fill="#f3b08e"/><circle cx="629.9" cy="352.6" r="1.45" fill="#1c0c08"/><ellipse cx="643.6" cy="350.5" rx="4.1" ry="3.5" fill="#f3b08e"/><circle cx="643.6" cy="350.5" r="1.45" fill="#1c0c08"/><ellipse cx="654.7" cy="350.5" rx="4.1" ry="3.5" fill="#f3b08e"/><circle cx="654.7" cy="350.5" r="1.45" fill="#1c0c08"/><ellipse cx="666.9" cy="351.3" rx="4.1" ry="3.5" fill="#f3b08e"/><circle cx="666.9" cy="351.3" r="1.45" fill="#1c0c08"/><ellipse cx="679.3" cy="353.1" rx="4.1" ry="3.5" fill="#f3b08e"/><circle cx="679.3" cy="353.1" r="1.45" fill="#1c0c08"/><ellipse cx="690.1" cy="353.2" rx="4.1" ry="3.5" fill="#f3b08e"/><circle cx="690.1" cy="353.2" r="1.45" fill="#1c0c08"/><ellipse cx="701.4" cy="350.6" rx="4.1" ry="3.5" fill="#f3b08e"/><circle cx="701.4" cy="350.6" r="1.45" fill="#1c0c08"/><ellipse cx="581.3" cy="358.5" rx="4.1" ry="3.5" fill="#f3b08e"/><circle cx="581.3" cy="358.5" r="1.45" fill="#1c0c08"/><ellipse cx="591.5" cy="359.5" rx="4.1" ry="3.5" fill="#f3b08e"/><circle cx="591.5" cy="359.5" r="1.45" fill="#1c0c08"/><ellipse cx="604.1" cy="358.8" rx="4.1" ry="3.5" fill="#f3b08e"/><circle cx="604.1" cy="358.8" r="1.45" fill="#1c0c08"/><ellipse cx="613.8" cy="360.8" rx="4.1" ry="3.5" fill="#f3b08e"/><circle cx="613.8" cy="360.8" r="1.45" fill="#1c0c08"/><ellipse cx="626.0" cy="361.1" rx="4.1" ry="3.5" fill="#f3b08e"/><circle cx="626.0" cy="361.1" r="1.45" fill="#1c0c08"/><ellipse cx="639.2" cy="359.5" rx="4.1" ry="3.5" fill="#f3b08e"/><circle cx="639.2" cy="359.5" r="1.45" fill="#1c0c08"/><ellipse cx="649.3" cy="359.9" rx="4.1" ry="3.5" fill="#f3b08e"/><circle cx="649.3" cy="359.9" r="1.45" fill="#1c0c08"/><ellipse cx="661.2" cy="360.1" rx="4.1" ry="3.5" fill="#f3b08e"/><circle cx="661.2" cy="360.1" r="1.45" fill="#1c0c08"/><ellipse cx="672.4" cy="360.1" rx="4.1" ry="3.5" fill="#f3b08e"/><circle cx="672.4" cy="360.1" r="1.45" fill="#1c0c08"/><ellipse cx="684.9" cy="359.8" rx="4.1" ry="3.5" fill="#f3b08e"/><circle cx="684.9" cy="359.8" r="1.45" fill="#1c0c08"/><ellipse cx="694.8" cy="360.4" rx="4.1" ry="3.5" fill="#f3b08e"/><circle cx="694.8" cy="360.4" r="1.45" fill="#1c0c08"/><ellipse cx="592.2" cy="366.2" rx="4.1" ry="3.5" fill="#f3b08e"/><circle cx="592.2" cy="366.2" r="1.45" fill="#1c0c08"/><ellipse cx="608.0" cy="366.9" rx="4.1" ry="3.5" fill="#f3b08e"/><circle cx="608.0" cy="366.9" r="1.45" fill="#1c0c08"/><ellipse cx="620.3" cy="365.4" rx="4.1" ry="3.5" fill="#f3b08e"/><circle cx="620.3" cy="365.4" r="1.45" fill="#1c0c08"/><ellipse cx="633.5" cy="367.0" rx="4.1" ry="3.5" fill="#f3b08e"/><circle cx="633.5" cy="367.0" r="1.45" fill="#1c0c08"/><ellipse cx="646.0" cy="367.1" rx="4.1" ry="3.5" fill="#f3b08e"/><circle cx="646.0" cy="367.1" r="1.45" fill="#1c0c08"/><ellipse cx="661.4" cy="365.6" rx="4.1" ry="3.5" fill="#f3b08e"/><circle cx="661.4" cy="365.6" r="1.45" fill="#1c0c08"/>
<text x="724" y="338.8" font-size="7.6" fill="#1c1c1c" textLength="54" lengthAdjust="spacingAndGlyphs">Cells harboring</text>
<text x="724" y="349.3" font-size="7.6" fill="#1c1c1c" textLength="63.5" lengthAdjust="spacingAndGlyphs">different sgRNAs.</text>
<text x="540.5" y="393.8" font-size="10.6" font-weight="bold" fill="#111">4</text>
<text x="581" y="392.5" font-size="7.6" fill="#1c1c1c" textLength="62.5" lengthAdjust="spacingAndGlyphs">Cas9 transfection</text>
<rect x="652.3" y="378.3" width="3.4" height="16.30000000000001" fill="url(#gArr)"/><path d="M650.3 393.6L654 398.6L657.7 393.6L654 394.8Z" fill="#24242c"/>
<ellipse cx="633.8" cy="428.9" rx="80.4" ry="28.8" fill="#fefefe" stroke="#4a80b8" stroke-width="0.8"/><ellipse cx="633.8" cy="439.9" rx="80.4" ry="28.8" fill="none" stroke="#4a80b8" stroke-width="0.8"/><ellipse cx="601.2" cy="417.7" rx="4.1" ry="3.5" fill="#f3b08e"/><circle cx="601.2" cy="417.7" r="1.45" fill="#1c0c08"/><ellipse cx="613.3" cy="417.9" rx="4.1" ry="3.5" fill="#f3b08e"/><circle cx="613.3" cy="417.9" r="1.45" fill="#1c0c08"/><ellipse cx="625.7" cy="416.4" rx="4.1" ry="3.5" fill="#f3b08e"/><circle cx="625.7" cy="416.4" r="1.45" fill="#1c0c08"/><ellipse cx="635.5" cy="418.5" rx="4.1" ry="3.5" fill="#f3b08e"/><circle cx="635.5" cy="418.5" r="1.45" fill="#1c0c08"/><ellipse cx="647.9" cy="416.9" rx="4.1" ry="3.5" fill="#f3b08e"/><circle cx="647.9" cy="416.9" r="1.45" fill="#1c0c08"/><ellipse cx="661.8" cy="417.5" rx="4.1" ry="3.5" fill="#f3b08e"/><circle cx="661.8" cy="417.5" r="1.45" fill="#1c0c08"/><ellipse cx="673.0" cy="417.5" rx="4.1" ry="3.5" fill="#f3b08e"/><circle cx="673.0" cy="417.5" r="1.45" fill="#1c0c08"/><ellipse cx="573.4" cy="424.5" rx="4.1" ry="3.5" fill="#f3b08e"/><circle cx="573.4" cy="424.5" r="1.45" fill="#1c0c08"/><ellipse cx="585.2" cy="426.5" rx="4.1" ry="3.5" fill="#f3b08e"/><circle cx="585.2" cy="426.5" r="1.45" fill="#1c0c08"/><ellipse cx="596.7" cy="426.2" rx="4.1" ry="3.5" fill="#f3b08e"/><circle cx="596.7" cy="426.2" r="1.45" fill="#1c0c08"/><ellipse cx="608.9" cy="424.3" rx="4.1" ry="3.5" fill="#f3b08e"/><circle cx="608.9" cy="424.3" r="1.45" fill="#1c0c08"/><ellipse cx="621.0" cy="425.8" rx="4.1" ry="3.5" fill="#f3b08e"/><circle cx="621.0" cy="425.8" r="1.45" fill="#1c0c08"/><ellipse cx="631.4" cy="424.2" rx="4.1" ry="3.5" fill="#f3b08e"/><circle cx="631.4" cy="424.2" r="1.45" fill="#1c0c08"/><ellipse cx="644.9" cy="425.4" rx="4.1" ry="3.5" fill="#f3b08e"/><circle cx="644.9" cy="425.4" r="1.45" fill="#1c0c08"/><ellipse cx="656.3" cy="426.6" rx="4.1" ry="3.5" fill="#f3b08e"/><circle cx="656.3" cy="426.6" r="1.45" fill="#1c0c08"/><ellipse cx="668.0" cy="426.7" rx="4.1" ry="3.5" fill="#f3b08e"/><circle cx="668.0" cy="426.7" r="1.45" fill="#1c0c08"/><ellipse cx="678.9" cy="426.3" rx="4.1" ry="3.5" fill="#f3b08e"/><circle cx="678.9" cy="426.3" r="1.45" fill="#1c0c08"/><ellipse cx="690.8" cy="426.7" rx="4.1" ry="3.5" fill="#f3b08e"/><circle cx="690.8" cy="426.7" r="1.45" fill="#1c0c08"/><ellipse cx="561.1" cy="434.5" rx="4.1" ry="3.5" fill="#f3b08e"/><circle cx="561.1" cy="434.5" r="1.45" fill="#1c0c08"/><ellipse cx="570.8" cy="434.8" rx="4.1" ry="3.5" fill="#f3b08e"/><circle cx="570.8" cy="434.8" r="1.45" fill="#1c0c08"/><ellipse cx="585.2" cy="435.4" rx="4.1" ry="3.5" fill="#f3b08e"/><circle cx="585.2" cy="435.4" r="1.45" fill="#1c0c08"/><ellipse cx="596.1" cy="435.0" rx="4.1" ry="3.5" fill="#f3b08e"/><circle cx="596.1" cy="435.0" r="1.45" fill="#1c0c08"/><ellipse cx="607.7" cy="435.3" rx="4.1" ry="3.5" fill="#f3b08e"/><circle cx="607.7" cy="435.3" r="1.45" fill="#1c0c08"/><ellipse cx="619.1" cy="435.8" rx="4.1" ry="3.5" fill="#f3b08e"/><circle cx="619.1" cy="435.8" r="1.45" fill="#1c0c08"/><ellipse cx="631.8" cy="436.7" rx="4.1" ry="3.5" fill="#f3b08e"/><circle cx="631.8" cy="436.7" r="1.45" fill="#1c0c08"/><ellipse cx="644.0" cy="436.8" rx="4.1" ry="3.5" fill="#f3b08e"/><circle cx="644.0" cy="436.8" r="1.45" fill="#1c0c08"/><ellipse cx="656.4" cy="437.0" rx="4.1" ry="3.5" fill="#f3b08e"/><circle cx="656.4" cy="437.0" r="1.45" fill="#1c0c08"/><ellipse cx="667.8" cy="434.7" rx="4.1" ry="3.5" fill="#f3b08e"/><circle cx="667.8" cy="434.7" r="1.45" fill="#1c0c08"/><ellipse cx="680.2" cy="436.9" rx="4.1" ry="3.5" fill="#f3b08e"/><circle cx="680.2" cy="436.9" r="1.45" fill="#1c0c08"/><ellipse cx="692.3" cy="435.8" rx="4.1" ry="3.5" fill="#f3b08e"/><circle cx="692.3" cy="435.8" r="1.45" fill="#1c0c08"/><ellipse cx="703.6" cy="434.8" rx="4.1" ry="3.5" fill="#f3b08e"/><circle cx="703.6" cy="434.8" r="1.45" fill="#1c0c08"/><ellipse cx="572.0" cy="446.0" rx="4.1" ry="3.5" fill="#f3b08e"/><circle cx="572.0" cy="446.0" r="1.45" fill="#1c0c08"/><ellipse cx="582.3" cy="444.6" rx="4.1" ry="3.5" fill="#f3b08e"/><circle cx="582.3" cy="444.6" r="1.45" fill="#1c0c08"/><ellipse cx="595.9" cy="447.2" rx="4.1" ry="3.5" fill="#f3b08e"/><circle cx="595.9" cy="447.2" r="1.45" fill="#1c0c08"/><ellipse cx="605.5" cy="446.6" rx="4.1" ry="3.5" fill="#f3b08e"/><circle cx="605.5" cy="446.6" r="1.45" fill="#1c0c08"/><ellipse cx="618.4" cy="444.8" rx="4.1" ry="3.5" fill="#f3b08e"/><circle cx="618.4" cy="444.8" r="1.45" fill="#1c0c08"/><ellipse cx="629.9" cy="446.6" rx="4.1" ry="3.5" fill="#f3b08e"/><circle cx="629.9" cy="446.6" r="1.45" fill="#1c0c08"/><ellipse cx="643.6" cy="444.5" rx="4.1" ry="3.5" fill="#f3b08e"/><circle cx="643.6" cy="444.5" r="1.45" fill="#1c0c08"/><ellipse cx="654.7" cy="444.5" rx="4.1" ry="3.5" fill="#f3b08e"/><circle cx="654.7" cy="444.5" r="1.45" fill="#1c0c08"/><ellipse cx="666.9" cy="445.3" rx="4.1" ry="3.5" fill="#f3b08e"/><circle cx="666.9" cy="445.3" r="1.45" fill="#1c0c08"/><ellipse cx="679.3" cy="447.1" rx="4.1" ry="3.5" fill="#f3b08e"/><circle cx="679.3" cy="447.1" r="1.45" fill="#1c0c08"/><ellipse cx="690.1" cy="447.2" rx="4.1" ry="3.5" fill="#f3b08e"/><circle cx="690.1" cy="447.2" r="1.45" fill="#1c0c08"/><ellipse cx="701.4" cy="444.6" rx="4.1" ry="3.5" fill="#f3b08e"/><circle cx="701.4" cy="444.6" r="1.45" fill="#1c0c08"/><ellipse cx="581.3" cy="452.5" rx="4.1" ry="3.5" fill="#f3b08e"/><circle cx="581.3" cy="452.5" r="1.45" fill="#1c0c08"/><ellipse cx="591.5" cy="453.5" rx="4.1" ry="3.5" fill="#f3b08e"/><circle cx="591.5" cy="453.5" r="1.45" fill="#1c0c08"/><ellipse cx="604.1" cy="452.8" rx="4.1" ry="3.5" fill="#f3b08e"/><circle cx="604.1" cy="452.8" r="1.45" fill="#1c0c08"/><ellipse cx="613.8" cy="454.8" rx="4.1" ry="3.5" fill="#f3b08e"/><circle cx="613.8" cy="454.8" r="1.45" fill="#1c0c08"/><ellipse cx="626.0" cy="455.1" rx="4.1" ry="3.5" fill="#f3b08e"/><circle cx="626.0" cy="455.1" r="1.45" fill="#1c0c08"/><ellipse cx="639.2" cy="453.5" rx="4.1" ry="3.5" fill="#f3b08e"/><circle cx="639.2" cy="453.5" r="1.45" fill="#1c0c08"/><ellipse cx="649.3" cy="453.9" rx="4.1" ry="3.5" fill="#f3b08e"/><circle cx="649.3" cy="453.9" r="1.45" fill="#1c0c08"/><ellipse cx="661.2" cy="454.1" rx="4.1" ry="3.5" fill="#f3b08e"/><circle cx="661.2" cy="454.1" r="1.45" fill="#1c0c08"/><ellipse cx="672.4" cy="454.1" rx="4.1" ry="3.5" fill="#f3b08e"/><circle cx="672.4" cy="454.1" r="1.45" fill="#1c0c08"/><ellipse cx="684.9" cy="453.8" rx="4.1" ry="3.5" fill="#f3b08e"/><circle cx="684.9" cy="453.8" r="1.45" fill="#1c0c08"/><ellipse cx="694.8" cy="454.4" rx="4.1" ry="3.5" fill="#f3b08e"/><circle cx="694.8" cy="454.4" r="1.45" fill="#1c0c08"/><ellipse cx="592.2" cy="460.2" rx="4.1" ry="3.5" fill="#f3b08e"/><circle cx="592.2" cy="460.2" r="1.45" fill="#1c0c08"/><ellipse cx="608.0" cy="460.9" rx="4.1" ry="3.5" fill="#f3b08e"/><circle cx="608.0" cy="460.9" r="1.45" fill="#1c0c08"/><ellipse cx="620.3" cy="459.4" rx="4.1" ry="3.5" fill="#f3b08e"/><circle cx="620.3" cy="459.4" r="1.45" fill="#1c0c08"/><ellipse cx="633.5" cy="461.0" rx="4.1" ry="3.5" fill="#f3b08e"/><circle cx="633.5" cy="461.0" r="1.45" fill="#1c0c08"/><ellipse cx="646.0" cy="461.1" rx="4.1" ry="3.5" fill="#f3b08e"/><circle cx="646.0" cy="461.1" r="1.45" fill="#1c0c08"/><ellipse cx="661.4" cy="459.6" rx="4.1" ry="3.5" fill="#f3b08e"/><circle cx="661.4" cy="459.6" r="1.45" fill="#1c0c08"/>
<text x="721" y="416.3" font-size="7.6" fill="#1c1c1c" textLength="66" lengthAdjust="spacingAndGlyphs">Cells with different</text>
<text x="721" y="426.7" font-size="7.6" fill="#1c1c1c" textLength="65.5" lengthAdjust="spacingAndGlyphs">genes disrupted. A</text>
<text x="721" y="437.1" font-size="7.6" fill="#1c1c1c" textLength="60" lengthAdjust="spacingAndGlyphs">duplicate sample</text>
<text x="721" y="447.5" font-size="7.6" fill="#1c1c1c" textLength="48" lengthAdjust="spacingAndGlyphs">without Cas9</text>
<text x="721" y="457.90000000000003" font-size="7.6" fill="#1c1c1c" textLength="69.5" lengthAdjust="spacingAndGlyphs">transfection is used</text>
<text x="721" y="468.3" font-size="7.6" fill="#1c1c1c" textLength="37" lengthAdjust="spacingAndGlyphs">as control.</text>
<text x="540.5" y="484.8" font-size="10.6" font-weight="bold" fill="#111">5</text>
<text x="590" y="483.7" font-size="7.6" fill="#1c1c1c" textLength="55" lengthAdjust="spacingAndGlyphs">Virus challenge</text>
<rect x="652.3" y="470.2" width="3.4" height="16.400000000000034" fill="url(#gArr)"/><path d="M650.3 485.6L654 490.6L657.7 485.6L654 486.8Z" fill="#24242c"/>
<ellipse cx="633.8" cy="524.3" rx="80.4" ry="28.7" fill="#fefefe" stroke="#4a80b8" stroke-width="0.8"/><ellipse cx="633.8" cy="535.9" rx="80.4" ry="28.7" fill="none" stroke="#4a80b8" stroke-width="0.8"/><ellipse cx="603.4" cy="514.2" rx="2" ry="1.7" fill="#f6bea4" filter="url(#fB03e)"/><ellipse cx="615.3" cy="514.7" rx="2" ry="1.7" fill="#f6bea4" filter="url(#fB03e)"/><ellipse cx="626.5" cy="514.7" rx="2" ry="1.7" fill="#f6bea4" filter="url(#fB03e)"/><ellipse cx="635.8" cy="513.4" rx="2" ry="1.7" fill="#f6bea4" filter="url(#fB03e)"/><ellipse cx="649.9" cy="513.9" rx="2" ry="1.7" fill="#f6bea4" filter="url(#fB03e)"/><ellipse cx="661.2" cy="512.4" rx="2" ry="1.7" fill="#f6bea4" filter="url(#fB03e)"/><ellipse cx="573.9" cy="521.3" rx="2" ry="1.7" fill="#f6bea4" filter="url(#fB03e)"/><ellipse cx="587.2" cy="522.2" rx="2" ry="1.7" fill="#f6bea4" filter="url(#fB03e)"/><ellipse cx="598.8" cy="521.2" rx="2" ry="1.7" fill="#f6bea4" filter="url(#fB03e)"/><ellipse cx="612.7" cy="523.2" rx="2" ry="1.7" fill="#f6bea4" filter="url(#fB03e)"/><ellipse cx="627.2" cy="521.0" rx="2" ry="1.7" fill="#f6bea4" filter="url(#fB03e)"/><ellipse cx="640.4" cy="521.0" rx="2" ry="1.7" fill="#f6bea4" filter="url(#fB03e)"/><ellipse cx="653.0" cy="521.0" rx="2" ry="1.7" fill="#f6bea4" filter="url(#fB03e)"/><ellipse cx="664.3" cy="523.0" rx="2" ry="1.7" fill="#f6bea4" filter="url(#fB03e)"/><ellipse cx="678.0" cy="521.2" rx="2" ry="1.7" fill="#f6bea4" filter="url(#fB03e)"/><ellipse cx="693.4" cy="523.0" rx="2" ry="1.7" fill="#f6bea4" filter="url(#fB03e)"/><ellipse cx="561.4" cy="533.3" rx="2" ry="1.7" fill="#f6bea4" filter="url(#fB03e)"/><ellipse cx="576.1" cy="532.5" rx="2" ry="1.7" fill="#f6bea4" filter="url(#fB03e)"/><ellipse cx="589.1" cy="533.2" rx="2" ry="1.7" fill="#f6bea4" filter="url(#fB03e)"/><ellipse cx="604.6" cy="533.3" rx="2" ry="1.7" fill="#f6bea4" filter="url(#fB03e)"/><ellipse cx="619.2" cy="531.4" rx="2" ry="1.7" fill="#f6bea4" filter="url(#fB03e)"/><ellipse cx="631.6" cy="531.1" rx="2" ry="1.7" fill="#f6bea4" filter="url(#fB03e)"/><ellipse cx="644.9" cy="530.8" rx="2" ry="1.7" fill="#f6bea4" filter="url(#fB03e)"/><ellipse cx="659.4" cy="532.3" rx="2" ry="1.7" fill="#f6bea4" filter="url(#fB03e)"/><ellipse cx="672.5" cy="532.5" rx="2" ry="1.7" fill="#f6bea4" filter="url(#fB03e)"/><ellipse cx="687.5" cy="531.5" rx="2" ry="1.7" fill="#f6bea4" filter="url(#fB03e)"/><ellipse cx="703.0" cy="531.9" rx="2" ry="1.7" fill="#f6bea4" filter="url(#fB03e)"/><ellipse cx="569.4" cy="541.4" rx="2" ry="1.7" fill="#f6bea4" filter="url(#fB03e)"/><ellipse cx="583.6" cy="540.3" rx="2" ry="1.7" fill="#f6bea4" filter="url(#fB03e)"/><ellipse cx="597.4" cy="540.2" rx="2" ry="1.7" fill="#f6bea4" filter="url(#fB03e)"/><ellipse cx="609.7" cy="542.5" rx="2" ry="1.7" fill="#f6bea4" filter="url(#fB03e)"/><ellipse cx="620.6" cy="542.3" rx="2" ry="1.7" fill="#f6bea4" filter="url(#fB03e)"/><ellipse cx="634.6" cy="541.7" rx="2" ry="1.7" fill="#f6bea4" filter="url(#fB03e)"/><ellipse cx="646.5" cy="540.2" rx="2" ry="1.7" fill="#f6bea4" filter="url(#fB03e)"/><ellipse cx="660.0" cy="542.8" rx="2" ry="1.7" fill="#f6bea4" filter="url(#fB03e)"/><ellipse cx="673.1" cy="542.2" rx="2" ry="1.7" fill="#f6bea4" filter="url(#fB03e)"/><ellipse cx="688.3" cy="542.7" rx="2" ry="1.7" fill="#f6bea4" filter="url(#fB03e)"/><ellipse cx="699.5" cy="541.1" rx="2" ry="1.7" fill="#f6bea4" filter="url(#fB03e)"/><ellipse cx="582.1" cy="550.3" rx="2" ry="1.7" fill="#f6bea4" filter="url(#fB03e)"/><ellipse cx="592.2" cy="550.2" rx="2" ry="1.7" fill="#f6bea4" filter="url(#fB03e)"/><ellipse cx="605.6" cy="550.5" rx="2" ry="1.7" fill="#f6bea4" filter="url(#fB03e)"/><ellipse cx="614.6" cy="550.7" rx="2" ry="1.7" fill="#f6bea4" filter="url(#fB03e)"/><ellipse cx="626.1" cy="549.1" rx="2" ry="1.7" fill="#f6bea4" filter="url(#fB03e)"/><ellipse cx="639.0" cy="550.7" rx="2" ry="1.7" fill="#f6bea4" filter="url(#fB03e)"/><ellipse cx="649.5" cy="550.7" rx="2" ry="1.7" fill="#f6bea4" filter="url(#fB03e)"/><ellipse cx="661.5" cy="549.0" rx="2" ry="1.7" fill="#f6bea4" filter="url(#fB03e)"/><ellipse cx="672.1" cy="548.6" rx="2" ry="1.7" fill="#f6bea4" filter="url(#fB03e)"/><ellipse cx="682.7" cy="548.5" rx="2" ry="1.7" fill="#f6bea4" filter="url(#fB03e)"/><ellipse cx="594.6" cy="557.9" rx="2" ry="1.7" fill="#f6bea4" filter="url(#fB03e)"/><ellipse cx="609.0" cy="555.2" rx="2" ry="1.7" fill="#f6bea4" filter="url(#fB03e)"/><ellipse cx="627.5" cy="556.6" rx="2" ry="1.7" fill="#f6bea4" filter="url(#fB03e)"/><ellipse cx="641.7" cy="555.8" rx="2" ry="1.7" fill="#f6bea4" filter="url(#fB03e)"/><ellipse cx="658.3" cy="557.4" rx="2" ry="1.7" fill="#f6bea4" filter="url(#fB03e)"/><ellipse cx="673.9" cy="556.3" rx="2" ry="1.7" fill="#f6bea4" filter="url(#fB03e)"/><ellipse cx="672.1" cy="516.6" rx="4.4" ry="3.8" fill="#f0a888"/><circle cx="672.1" cy="516.6" r="1.8" fill="#1c0c08"/><ellipse cx="574.3" cy="532.1" rx="4.4" ry="3.8" fill="#f0a888"/><circle cx="574.3" cy="532.1" r="1.8" fill="#1c0c08"/><ellipse cx="623.8" cy="532.1" rx="4.4" ry="3.8" fill="#f0a888"/><circle cx="623.8" cy="532.1" r="1.8" fill="#1c0c08"/><ellipse cx="685.0" cy="540.0" rx="4.4" ry="3.8" fill="#f0a888"/><circle cx="685.0" cy="540.0" r="1.8" fill="#1c0c08"/><ellipse cx="637.7" cy="547.8" rx="4.4" ry="3.8" fill="#f0a888"/><circle cx="637.7" cy="547.8" r="1.8" fill="#1c0c08"/>
<text x="721" y="529.4" font-size="7.6" fill="#1c1c1c" textLength="65.5" lengthAdjust="spacingAndGlyphs">The cells surviving</text>
<text x="721" y="539.8" font-size="7.6" fill="#1c1c1c" textLength="70.5" lengthAdjust="spacingAndGlyphs">the WNV challenge.</text>
<text x="540.5" y="581" font-size="10.6" font-weight="bold" fill="#111">6</text>
<text x="557" y="580.6" font-size="7.6" fill="#1c1c1c" textLength="90" lengthAdjust="spacingAndGlyphs">PCR-amplify the sgRNAs</text>
<rect x="650.3" y="569.8" width="3.4" height="15.600000000000023" fill="url(#gArr)"/><path d="M648.3 584.4L652 589.4L655.7 584.4L652 585.6Z" fill="#24242c"/>
<line x1="569" y1="598.6" x2="666" y2="598.6" stroke="#10905c" stroke-width="1.9"/>
<line x1="576" y1="606" x2="673" y2="606" stroke="#88b848" stroke-width="1.9"/>
<line x1="583" y1="612.6" x2="680" y2="612.6" stroke="#d82838" stroke-width="1.9"/>
<line x1="590" y1="619.6" x2="687" y2="619.6" stroke="#20a8d0" stroke-width="1.9"/>
<text x="692" y="596.8" font-size="7.6" fill="#1c1c1c" textLength="93.5" lengthAdjust="spacingAndGlyphs">Identify the genes that are</text>
<text x="692" y="606.9" font-size="7.6" fill="#1c1c1c" textLength="96.5" lengthAdjust="spacingAndGlyphs">essential for virus killing by</text>
<text x="692" y="617.0" font-size="7.6" fill="#1c1c1c" textLength="93" lengthAdjust="spacingAndGlyphs">Illumina sequencing of the</text>
<text x="692" y="627.0999999999999" font-size="7.6" fill="#1c1c1c" textLength="102.5" lengthAdjust="spacingAndGlyphs">sgRNAs in the surviving cells.</text>
</g>
</svg>
</body>
</html>
